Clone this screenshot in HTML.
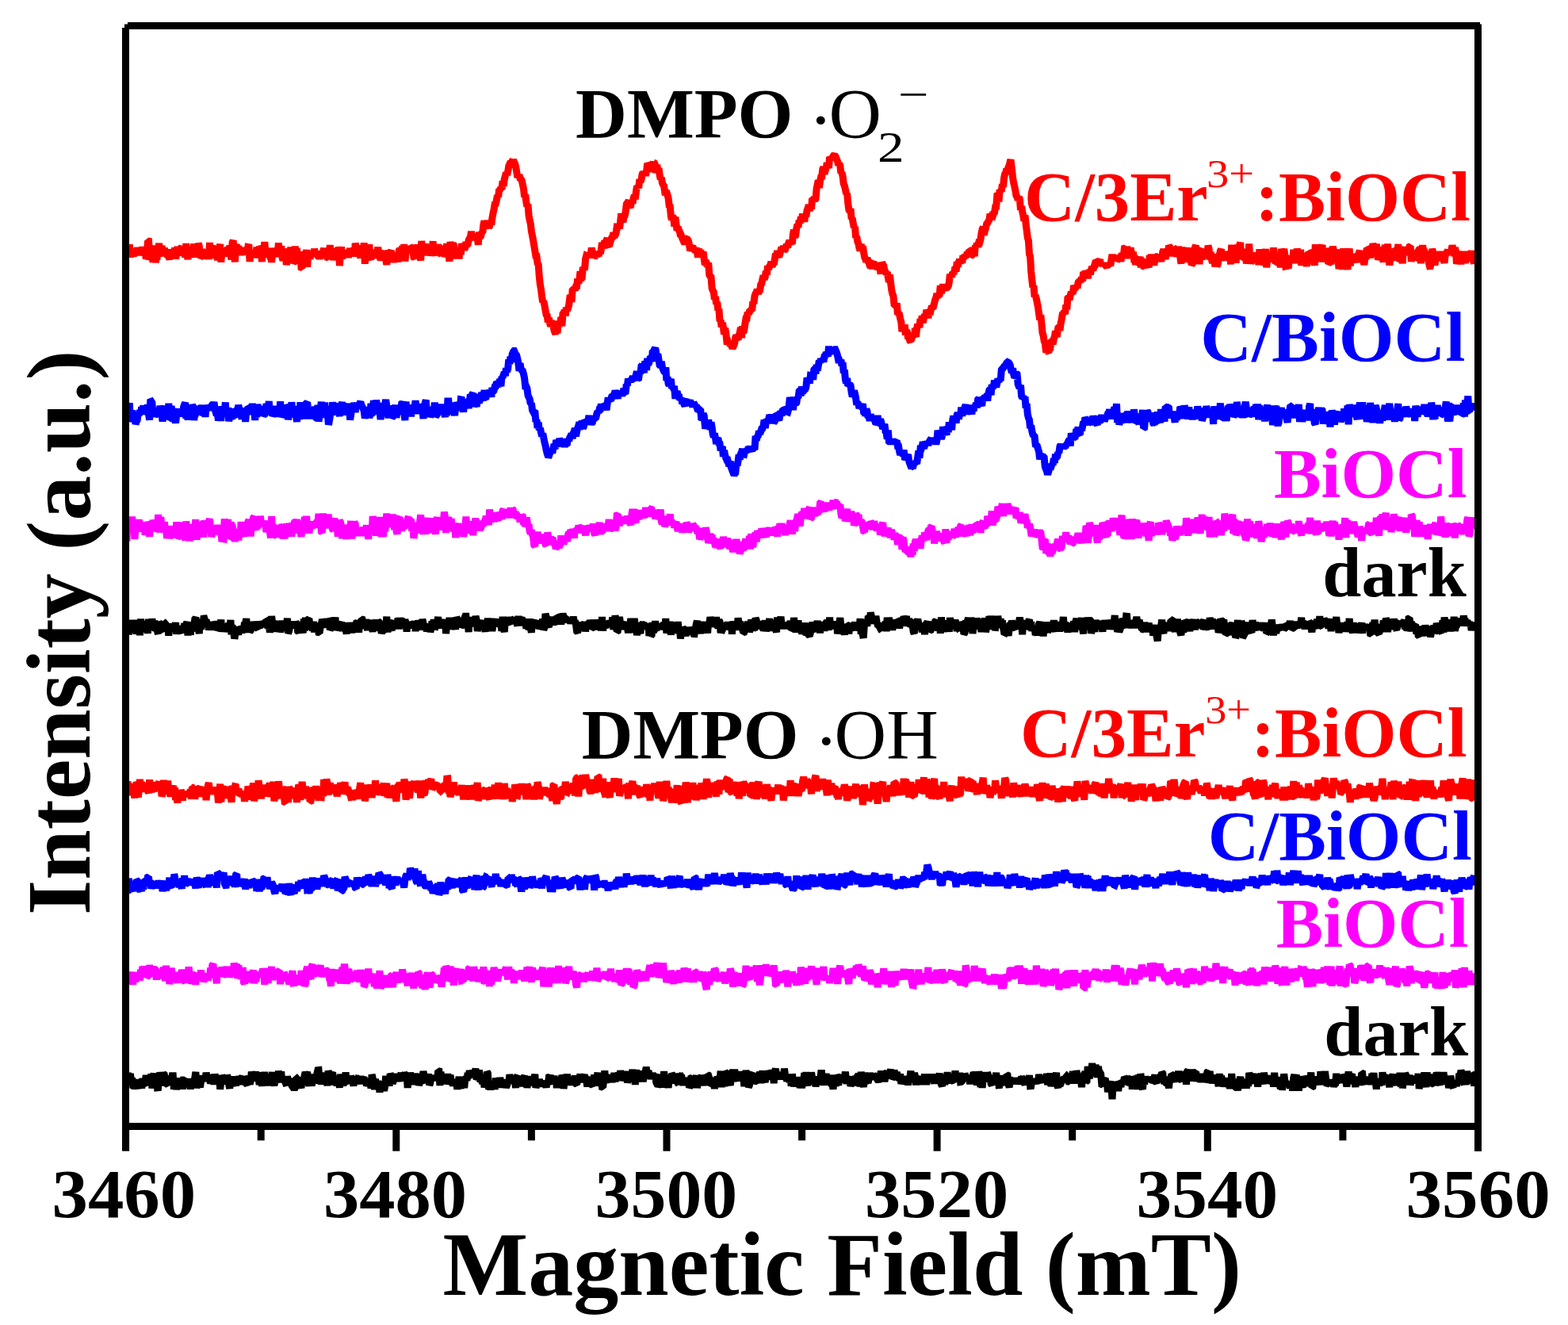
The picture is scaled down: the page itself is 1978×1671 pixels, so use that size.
<!DOCTYPE html>
<html><head><meta charset="utf-8"><title>EPR spectra</title>
<style>
html,body{margin:0;padding:0;background:#fff;overflow:hidden;}
svg{display:block;}
text{font-family:"Liberation Serif","Times New Roman",serif;}
</style></head><body>
<svg width="1978" height="1671" viewBox="0 0 1978 1671">
<rect width="1978" height="1671" fill="#fff"/>
<polyline fill="none" stroke="#ff0000" stroke-width="9.0" stroke-linejoin="miter" stroke-miterlimit="1.5" stroke-linecap="butt" points="160.0,320.1 161.1,323.6 162.2,320.0 163.3,308.4 164.4,323.9 165.5,320.7 166.6,313.8 167.7,321.7 168.8,320.3 169.9,319.9 171.0,317.8 172.1,321.3 173.2,312.4 174.3,316.3 175.4,314.1 176.5,321.8 177.6,317.8 178.7,315.5 179.8,312.0 180.9,315.5 182.0,317.2 183.1,315.3 184.2,326.2 185.3,324.3 186.4,303.9 187.5,304.1 188.6,316.1 189.7,314.3 190.8,318.9 191.9,318.9 193.0,330.8 194.1,309.8 195.2,315.1 196.3,331.3 197.4,322.6 198.5,322.8 199.6,314.8 200.7,307.0 201.8,319.8 202.9,319.6 204.0,310.4 205.1,314.3 206.2,318.6 207.3,312.7 208.4,318.7 209.5,320.2 210.6,320.1 211.7,316.4 212.8,324.3 213.9,326.5 215.0,322.4 216.1,314.4 217.2,325.3 218.3,316.5 219.4,326.1 220.5,312.4 221.6,326.3 222.7,319.7 223.8,311.0 224.9,317.5 226.0,320.1 227.1,321.5 228.2,312.7 229.3,311.6 230.4,320.6 231.5,315.7 232.6,320.5 233.7,324.0 234.8,307.1 235.9,320.4 237.0,327.1 238.1,316.4 239.2,312.7 240.3,323.7 241.4,320.0 242.5,324.4 243.6,315.7 244.7,307.7 245.8,317.4 246.9,315.0 248.0,323.7 249.1,319.8 250.2,306.9 251.3,310.1 252.4,324.9 253.5,323.7 254.6,314.5 255.7,319.1 256.8,322.3 257.9,322.5 259.0,325.4 260.1,321.3 261.2,318.9 262.3,317.8 263.4,326.9 264.5,306.1 265.6,318.5 266.7,319.6 267.8,309.3 268.9,321.6 270.0,314.6 271.1,325.3 272.2,318.5 273.3,323.8 274.4,327.5 275.5,321.5 276.6,312.6 277.7,308.0 278.8,330.6 279.9,317.3 281.0,313.0 282.1,318.6 283.2,316.1 284.3,323.1 285.4,317.2 286.5,317.0 287.6,311.9 288.7,320.0 289.8,309.5 290.9,321.3 292.0,327.1 293.1,305.9 294.2,303.3 295.3,321.0 296.4,330.3 297.5,310.1 298.6,308.3 299.7,321.3 300.8,311.4 301.9,313.9 303.0,315.2 304.1,321.7 305.2,315.4 306.3,320.3 307.4,317.3 308.5,312.9 309.6,316.8 310.7,312.5 311.8,319.5 312.9,311.6 314.0,311.8 315.1,329.9 316.2,319.5 317.3,319.6 318.4,323.5 319.5,317.0 320.6,318.3 321.7,322.9 322.8,321.9 323.9,311.7 325.0,325.4 326.1,315.2 327.2,311.9 328.3,312.8 329.4,316.2 330.5,330.1 331.6,310.4 332.7,319.6 333.8,305.1 334.9,318.3 336.0,324.6 337.1,316.5 338.2,313.7 339.3,319.5 340.4,322.7 341.5,322.2 342.6,330.8 343.7,318.8 344.8,313.4 345.9,316.7 347.0,317.1 348.1,318.6 349.2,317.7 350.3,319.1 351.4,306.4 352.5,324.2 353.6,314.5 354.7,310.5 355.8,323.6 356.9,328.5 358.0,323.0 359.1,321.1 360.2,313.8 361.3,334.0 362.4,327.3 363.5,313.6 364.6,316.4 365.7,322.8 366.8,311.7 367.9,324.0 369.0,319.8 370.1,331.9 371.2,330.3 372.3,310.5 373.4,324.4 374.5,313.0 375.6,332.2 376.7,325.7 377.8,328.5 378.9,317.3 380.0,337.4 381.1,337.8 382.2,317.0 383.3,327.0 384.4,319.5 385.5,323.8 386.6,315.1 387.7,336.7 388.8,316.7 389.9,321.2 391.0,326.6 392.1,318.3 393.2,321.1 394.3,318.6 395.4,321.5 396.5,313.9 397.6,318.9 398.7,320.2 399.8,319.3 400.9,321.9 402.0,319.5 403.1,326.8 404.2,319.2 405.3,320.5 406.4,317.0 407.5,318.0 408.6,313.0 409.7,325.5 410.8,313.9 411.9,316.8 413.0,324.6 414.1,325.0 415.2,319.6 416.3,309.1 417.4,325.4 418.5,324.5 419.6,312.9 420.7,328.3 421.8,318.1 422.9,315.2 424.0,323.6 425.1,321.7 426.2,324.2 427.3,311.4 428.4,335.1 429.5,318.1 430.6,311.4 431.7,326.2 432.8,319.1 433.9,323.6 435.0,318.8 436.1,320.6 437.2,322.4 438.3,315.3 439.4,325.0 440.5,316.7 441.6,313.8 442.7,320.2 443.8,322.4 444.9,317.5 446.0,313.2 447.1,323.5 448.2,306.7 449.3,311.8 450.4,319.3 451.5,309.5 452.6,319.3 453.7,318.7 454.8,325.4 455.9,312.6 457.0,314.9 458.1,321.7 459.2,306.2 460.3,332.7 461.4,314.8 462.5,314.8 463.6,326.1 464.7,320.2 465.8,308.3 466.9,325.3 468.0,327.1 469.1,318.0 470.2,319.3 471.3,324.8 472.4,315.0 473.5,324.6 474.6,323.0 475.7,316.9 476.8,311.9 477.9,320.1 479.0,315.5 480.1,328.6 481.2,322.6 482.3,327.2 483.4,322.5 484.5,323.4 485.6,316.1 486.7,326.1 487.8,333.9 488.9,319.2 490.0,317.2 491.1,320.3 492.2,317.9 493.3,316.3 494.4,322.1 495.5,319.0 496.6,331.1 497.7,321.0 498.8,323.2 499.9,327.4 501.0,318.6 502.1,330.5 503.2,316.0 504.3,314.7 505.4,317.6 506.5,319.4 507.6,310.2 508.7,319.7 509.8,308.1 510.9,329.4 512.0,319.1 513.1,315.1 514.2,313.1 515.3,316.5 516.4,317.3 517.5,311.3 518.6,312.0 519.7,316.9 520.8,314.4 521.9,324.5 523.0,325.9 524.1,317.9 525.2,321.0 526.3,308.3 527.4,322.0 528.5,317.2 529.6,320.7 530.7,328.5 531.8,303.9 532.9,318.9 534.0,309.4 535.1,321.1 536.2,307.6 537.3,313.3 538.4,318.4 539.5,321.2 540.6,317.5 541.7,311.2 542.8,312.7 543.9,322.4 545.0,316.0 546.1,304.2 547.2,321.8 548.3,318.8 549.4,321.9 550.5,313.3 551.6,321.3 552.7,308.0 553.8,319.4 554.9,311.9 556.0,320.0 557.1,322.1 558.2,309.8 559.3,314.5 560.4,315.1 561.5,323.7 562.6,320.5 563.7,307.2 564.8,319.1 565.9,321.4 567.0,329.6 568.1,304.9 569.2,313.2 570.3,326.5 571.4,307.8 572.5,309.1 573.6,321.3 574.7,325.1 575.8,312.8 576.9,320.5 578.0,317.0 579.1,326.2 580.2,314.9 581.3,321.1 582.4,307.2 583.5,311.7 584.6,311.7 585.7,314.8 586.8,312.0 587.9,305.2 589.0,309.3 590.1,308.1 591.2,302.9 592.3,300.6 593.4,299.3 594.5,291.9 595.6,299.8 596.7,300.3 597.8,296.2 598.9,302.9 600.0,294.8 601.1,298.4 602.2,299.0 603.3,308.8 604.4,292.5 605.5,298.6 606.6,297.7 607.7,292.8 608.8,293.5 609.9,283.1 611.0,278.7 612.1,288.6 613.2,280.0 614.3,282.7 615.4,278.5 616.5,286.7 617.6,285.2 618.7,278.1 619.8,283.8 620.9,275.2 622.0,268.8 623.1,264.1 624.2,257.6 625.3,257.2 626.4,252.5 627.5,246.4 628.6,248.4 629.7,238.4 630.8,239.0 631.9,237.1 633.0,238.7 634.1,228.2 635.2,234.7 636.3,225.9 637.4,221.8 638.5,217.7 639.6,220.6 640.7,216.1 641.8,209.2 642.9,206.8 644.0,207.0 645.1,205.0 646.2,205.7 647.3,202.2 647.5,201.5 648.4,204.3 649.5,206.1 650.6,210.1 651.7,216.5 652.8,223.5 653.9,222.4 655.0,220.7 656.1,225.1 657.2,226.0 658.3,227.8 659.4,233.0 660.5,237.9 661.6,248.5 662.7,245.4 663.8,254.6 664.9,260.3 666.0,257.6 667.1,272.1 668.2,277.8 669.3,282.3 670.4,291.6 671.5,297.2 672.6,302.8 673.7,309.5 674.8,316.2 675.9,322.9 677.0,323.1 678.1,332.0 679.2,333.9 680.3,349.2 681.4,358.8 682.5,365.1 683.6,373.8 684.7,381.1 685.8,379.6 686.9,384.9 688.0,391.4 689.1,396.9 690.2,397.9 691.3,406.3 692.4,400.8 693.5,407.6 694.6,411.2 695.7,408.1 696.8,408.1 697.9,410.5 699.0,416.5 700.1,419.4 700.6,420.0 701.2,418.9 702.3,415.9 703.4,415.9 704.5,404.7 705.6,410.9 706.7,407.9 707.8,400.2 708.9,411.2 710.0,395.8 711.1,394.5 712.2,391.4 713.3,398.2 714.4,387.7 715.5,391.5 716.6,388.6 717.7,384.6 718.8,375.3 719.9,375.0 721.0,381.0 722.1,366.1 723.2,364.9 724.3,364.6 725.4,366.0 726.5,361.4 727.6,361.1 728.7,351.5 729.8,357.1 730.9,353.2 732.0,342.1 733.1,351.9 734.2,350.7 735.3,337.4 736.4,338.0 737.5,340.6 738.6,326.4 739.7,322.2 740.8,322.6 741.9,323.6 743.0,321.5 744.1,324.1 745.2,320.7 746.3,312.6 747.4,318.8 748.5,324.7 749.6,322.8 750.7,322.7 751.8,319.4 752.9,324.0 754.0,316.9 755.1,322.9 756.2,317.2 757.3,319.7 758.4,314.6 759.5,306.0 760.6,309.5 761.7,313.2 762.8,303.3 763.9,305.1 765.0,303.6 766.1,300.2 767.2,309.4 768.3,310.3 769.4,307.2 770.5,303.0 771.6,299.9 772.7,299.2 773.8,293.4 774.9,298.1 776.0,296.9 777.1,294.3 778.2,286.1 779.3,286.2 780.4,282.9 781.5,288.4 782.6,279.6 783.7,269.2 784.8,276.3 785.9,280.4 787.0,273.6 788.1,272.4 789.2,267.0 790.3,257.4 791.4,255.8 792.5,256.0 793.6,258.8 794.7,258.9 795.8,258.7 796.9,252.9 798.0,256.5 799.1,249.9 800.2,246.5 801.3,251.1 802.4,241.8 803.5,234.9 804.6,235.3 805.7,237.1 806.8,226.3 807.9,229.5 809.0,226.6 810.1,219.8 811.2,217.3 812.3,219.2 813.4,216.7 814.5,221.6 815.6,215.9 816.7,205.9 817.8,207.6 818.9,212.8 820.0,216.6 821.1,209.2 822.2,207.6 823.3,207.8 824.3,205.0 824.4,205.2 825.5,205.6 826.6,208.2 827.7,217.9 828.8,207.8 829.9,215.6 831.0,212.0 832.1,220.4 833.2,226.0 834.3,224.1 835.4,230.6 836.5,233.1 837.6,234.6 838.7,242.2 839.8,242.1 840.9,242.5 842.0,245.8 843.1,249.9 844.2,259.6 845.3,260.4 846.4,273.3 847.5,277.1 848.6,272.5 849.7,274.8 850.8,285.5 851.9,273.9 853.0,282.3 854.1,290.7 855.2,286.1 856.3,290.1 857.4,292.2 858.5,298.0 859.6,297.6 860.7,300.4 861.8,302.9 862.9,302.3 864.0,308.3 865.1,302.6 866.2,301.5 867.3,301.9 868.4,303.7 869.5,308.9 870.6,316.2 871.7,313.8 872.8,311.6 873.9,310.7 875.0,313.8 876.1,315.2 877.2,315.5 878.3,313.0 879.4,317.8 880.5,324.5 881.6,313.7 882.7,321.1 883.8,315.3 884.9,324.3 886.0,321.4 887.1,317.6 888.2,326.5 889.3,334.2 890.4,328.2 891.5,333.2 892.6,333.4 893.7,331.6 894.8,346.6 895.9,348.4 897.0,349.3 898.1,363.4 899.2,366.5 900.3,368.2 901.4,377.5 902.5,374.1 903.6,383.6 904.7,380.7 905.8,391.4 906.9,389.7 908.0,404.8 909.1,403.8 910.2,412.4 911.3,407.2 912.4,412.5 913.5,421.6 914.6,413.8 915.7,419.4 916.8,430.0 917.9,429.9 919.0,434.1 920.1,431.0 921.2,435.9 922.3,435.1 923.4,437.6 924.0,439.5 924.5,438.3 925.6,435.7 926.7,432.9 927.8,425.4 928.9,423.2 930.0,426.7 931.1,428.1 932.2,422.7 933.3,419.4 934.4,413.1 935.5,426.1 936.6,411.4 937.7,419.7 938.8,416.2 939.9,408.1 941.0,401.7 942.1,401.6 943.2,393.6 944.3,396.4 945.4,392.7 946.5,391.9 947.6,391.0 948.7,391.3 949.8,380.1 950.9,383.1 952.0,373.2 953.1,370.2 954.2,368.9 955.3,364.8 956.4,370.2 957.5,367.5 958.6,366.4 959.7,358.8 960.8,357.6 961.9,352.1 963.0,347.7 964.1,352.1 965.2,349.3 966.3,341.8 967.4,346.6 968.5,335.3 969.6,339.5 970.7,335.8 971.8,334.2 972.9,330.1 974.0,336.4 975.1,333.0 976.2,333.5 977.3,327.4 978.4,319.8 979.5,321.6 980.6,316.5 981.7,322.0 982.8,324.2 983.9,319.9 985.0,315.5 986.1,315.6 987.2,317.1 988.3,309.8 989.4,315.4 990.5,314.8 991.6,311.0 992.7,310.8 993.8,311.9 994.9,305.9 996.0,303.9 997.1,308.2 998.2,304.0 999.3,307.8 1000.4,295.1 1001.5,289.9 1002.6,298.7 1003.7,296.8 1004.8,288.0 1005.9,283.0 1007.0,286.7 1008.1,277.8 1009.2,281.5 1010.3,273.3 1011.4,278.0 1012.5,269.7 1013.6,274.3 1014.7,279.6 1015.8,270.6 1016.9,273.0 1018.0,265.5 1019.1,262.8 1020.2,258.4 1021.3,266.1 1022.4,259.3 1023.5,263.6 1024.6,250.0 1025.7,251.5 1026.8,249.9 1027.9,252.2 1029.0,250.8 1030.1,237.8 1031.2,232.8 1032.3,227.3 1033.4,236.9 1034.5,228.4 1035.6,223.4 1036.7,223.0 1037.8,213.1 1038.9,211.0 1040.0,219.4 1041.1,215.0 1042.2,211.9 1043.3,205.1 1044.4,209.2 1045.5,211.9 1046.6,197.8 1047.7,201.3 1048.8,198.1 1049.9,199.2 1051.0,196.9 1052.1,195.4 1052.5,195.0 1053.2,196.5 1054.3,197.7 1055.4,200.7 1056.5,203.2 1057.6,208.4 1058.7,205.8 1059.8,209.1 1060.9,218.2 1062.0,217.8 1063.1,222.4 1064.2,231.7 1065.3,234.1 1066.4,238.7 1067.5,244.5 1068.6,243.8 1069.7,255.9 1070.8,264.5 1071.9,266.6 1073.0,263.2 1074.1,275.8 1075.2,275.2 1076.3,281.9 1077.4,287.2 1078.5,285.9 1079.6,300.0 1080.7,298.1 1081.8,304.7 1082.9,307.2 1084.0,313.1 1085.1,315.6 1086.2,307.9 1087.3,316.5 1088.4,310.5 1089.5,317.9 1090.6,324.3 1091.7,326.8 1092.8,330.0 1093.9,325.0 1095.0,329.4 1096.1,330.1 1097.2,335.2 1098.3,336.9 1099.4,329.5 1100.5,339.2 1101.6,331.9 1102.7,330.9 1103.8,335.2 1104.9,336.2 1106.0,335.8 1107.1,331.5 1108.2,340.3 1109.3,335.0 1110.4,341.4 1111.5,341.3 1112.6,331.1 1113.7,333.3 1114.8,335.1 1115.9,341.8 1117.0,342.9 1118.1,345.6 1119.2,343.1 1120.3,349.8 1121.4,355.6 1122.5,346.5 1123.6,356.9 1124.7,365.4 1125.8,370.6 1126.9,373.2 1128.0,383.9 1129.1,384.8 1130.2,386.0 1131.3,382.4 1132.4,396.7 1133.5,395.3 1134.6,396.4 1135.7,402.1 1136.8,406.1 1137.9,418.0 1139.0,413.4 1140.1,415.1 1141.2,409.5 1142.3,422.3 1143.4,417.2 1144.5,419.0 1145.6,427.2 1146.7,426.0 1147.8,429.9 1148.4,430.5 1148.9,428.7 1150.0,427.3 1151.1,421.3 1152.2,423.2 1153.3,425.1 1154.4,414.0 1155.5,424.7 1156.6,414.3 1157.7,408.8 1158.8,411.1 1159.9,412.8 1161.0,402.3 1162.1,405.9 1163.2,398.5 1164.3,406.9 1165.4,400.8 1166.5,396.6 1167.6,401.4 1168.7,390.9 1169.8,393.3 1170.9,401.1 1172.0,392.1 1173.1,396.9 1174.2,391.1 1175.3,386.3 1176.4,386.9 1177.5,386.7 1178.6,382.2 1179.7,377.9 1180.8,375.5 1181.9,370.1 1183.0,373.9 1184.1,372.4 1185.2,371.5 1186.3,360.3 1187.4,369.7 1188.5,365.3 1189.6,358.6 1190.7,363.5 1191.8,365.3 1192.9,363.0 1194.0,362.7 1195.1,362.5 1196.2,361.1 1197.3,356.3 1198.4,346.1 1199.5,347.7 1200.6,349.3 1201.7,343.2 1202.8,344.9 1203.9,342.4 1205.0,336.5 1206.1,342.5 1207.2,330.1 1208.3,336.6 1209.4,330.1 1210.5,327.8 1211.6,332.3 1212.7,326.5 1213.8,331.4 1214.9,322.3 1216.0,326.1 1217.1,321.6 1218.2,323.1 1219.3,321.7 1220.4,317.9 1221.5,324.1 1222.6,315.7 1223.7,316.0 1224.8,322.6 1225.9,322.0 1227.0,319.9 1228.1,317.7 1229.2,323.2 1230.3,309.9 1231.4,310.8 1232.5,307.1 1233.6,311.6 1234.7,306.0 1235.8,306.1 1236.9,302.4 1238.0,294.5 1239.1,289.0 1240.2,286.3 1241.3,296.3 1242.4,291.0 1243.5,287.8 1244.6,282.4 1245.7,281.3 1246.8,279.0 1247.9,277.5 1249.0,269.5 1250.1,275.2 1251.2,272.3 1252.3,272.7 1253.4,269.0 1254.5,268.1 1255.6,261.2 1256.7,260.9 1257.8,246.7 1258.9,246.4 1260.0,254.4 1261.1,239.7 1262.2,240.5 1263.3,241.5 1264.4,232.3 1265.5,235.8 1266.6,224.3 1267.7,219.4 1268.8,217.8 1269.9,212.7 1271.0,215.4 1272.1,210.8 1273.2,208.5 1274.3,203.3 1275.0,201.6 1275.4,204.8 1276.5,213.6 1277.6,223.8 1278.7,230.7 1279.8,235.1 1280.9,240.7 1282.0,246.7 1283.1,248.4 1284.2,252.3 1285.3,249.0 1286.4,250.9 1287.5,264.8 1288.6,260.1 1289.7,266.9 1290.8,271.9 1291.9,278.5 1293.0,271.4 1294.1,282.1 1295.2,290.9 1296.3,299.9 1297.4,303.4 1298.5,320.6 1299.6,323.4 1300.7,342.1 1301.8,353.0 1302.9,362.3 1304.0,360.4 1305.1,374.5 1306.2,372.5 1307.3,376.5 1308.4,382.2 1309.5,387.3 1310.6,396.0 1311.7,403.2 1312.8,397.1 1313.9,407.5 1315.0,419.6 1316.1,423.1 1317.2,430.1 1318.3,433.0 1319.4,442.0 1319.8,444.0 1320.5,442.9 1321.6,443.4 1322.7,444.5 1323.8,439.2 1324.9,438.9 1326.0,431.0 1327.1,429.6 1328.2,434.2 1329.3,427.3 1330.4,424.7 1331.5,417.4 1332.6,421.5 1333.7,421.3 1334.8,413.4 1335.9,411.9 1337.0,416.9 1338.1,408.0 1339.2,402.9 1340.3,396.2 1341.4,395.1 1342.5,393.0 1343.6,396.0 1344.7,384.5 1345.8,390.5 1346.9,376.1 1348.0,375.1 1349.1,378.3 1350.2,372.4 1351.3,368.4 1352.4,369.6 1353.5,370.2 1354.6,359.9 1355.7,364.2 1356.8,363.2 1357.9,360.4 1359.0,363.3 1360.1,356.1 1361.2,354.9 1362.3,354.6 1363.4,355.3 1364.5,349.5 1365.6,354.5 1366.7,343.0 1367.8,351.1 1368.9,341.8 1370.0,344.0 1371.1,345.3 1372.2,350.8 1373.3,346.2 1374.4,340.2 1375.5,346.4 1376.6,339.6 1377.7,336.7 1378.8,340.9 1379.9,337.1 1381.0,337.5 1382.1,328.6 1383.2,329.4 1384.3,330.0 1385.4,329.5 1386.5,329.2 1387.6,327.4 1388.7,334.7 1389.8,332.6 1390.9,335.0 1392.0,332.5 1393.1,334.8 1394.2,331.6 1395.3,335.5 1396.4,337.1 1397.5,333.3 1398.6,335.2 1399.7,331.9 1400.8,335.0 1401.9,327.8 1403.0,320.9 1404.1,328.2 1405.2,325.4 1406.3,321.8 1407.4,327.9 1408.5,326.0 1409.6,326.3 1410.7,322.9 1411.8,324.6 1412.9,324.4 1414.0,329.9 1415.1,319.3 1416.2,321.3 1417.3,322.2 1418.4,313.1 1419.5,312.7 1420.6,326.1 1421.7,310.7 1422.8,319.9 1423.9,315.0 1425.0,316.3 1426.1,312.8 1427.2,317.7 1428.3,325.5 1429.4,317.7 1430.5,326.6 1431.6,326.5 1432.7,333.8 1433.8,325.2 1434.9,332.9 1436.0,332.3 1437.1,328.4 1438.2,323.8 1439.3,337.3 1440.4,326.7 1441.5,330.7 1442.6,335.8 1443.7,336.3 1444.8,328.0 1445.9,330.8 1447.0,329.5 1448.1,334.7 1449.2,337.2 1450.3,321.8 1451.4,332.3 1452.5,320.7 1453.6,327.9 1454.7,322.9 1455.8,334.5 1456.9,327.1 1458.0,323.0 1459.1,323.5 1460.2,322.7 1461.3,325.3 1462.4,323.5 1463.5,326.2 1464.6,329.3 1465.7,325.5 1466.8,317.3 1467.9,315.2 1469.0,318.2 1470.1,327.1 1471.2,317.2 1472.3,314.9 1473.4,320.6 1474.5,309.6 1475.6,311.4 1476.7,323.0 1477.8,317.4 1478.9,316.4 1480.0,321.7 1481.1,315.3 1482.2,314.7 1483.3,316.2 1484.4,323.7 1485.5,319.8 1486.6,311.1 1487.7,317.4 1488.8,324.2 1489.9,332.6 1491.0,311.6 1492.1,322.0 1493.2,318.1 1494.3,325.8 1495.4,323.1 1496.5,330.4 1497.6,323.8 1498.7,316.4 1499.8,316.5 1500.9,323.1 1502.0,323.3 1503.1,334.0 1504.2,332.6 1505.3,312.6 1506.4,323.4 1507.5,311.8 1508.6,309.6 1509.7,326.5 1510.8,325.3 1511.9,314.4 1513.0,333.3 1514.1,315.2 1515.2,313.9 1516.3,326.7 1517.4,323.8 1518.5,321.3 1519.6,322.1 1520.7,324.2 1521.8,321.8 1522.9,321.7 1524.0,309.6 1525.1,313.7 1526.2,327.4 1527.3,318.1 1528.4,326.9 1529.5,331.8 1530.6,320.6 1531.7,325.1 1532.8,336.3 1533.9,327.8 1535.0,335.7 1536.1,333.5 1537.2,328.0 1538.3,321.7 1539.4,316.4 1540.5,314.5 1541.6,325.3 1542.7,325.0 1543.8,320.3 1544.9,327.2 1546.0,316.9 1547.1,328.6 1548.2,320.9 1549.3,320.4 1550.4,320.4 1551.5,319.6 1552.6,333.4 1553.7,308.7 1554.8,321.1 1555.9,328.4 1557.0,324.5 1558.1,317.3 1559.2,331.7 1560.3,312.2 1561.4,310.4 1562.5,323.6 1563.6,309.2 1564.7,306.1 1565.8,325.8 1566.9,325.1 1568.0,325.0 1569.1,316.7 1570.2,321.6 1571.3,313.8 1572.4,332.6 1573.5,326.2 1574.6,326.0 1575.7,307.6 1576.8,326.6 1577.9,331.6 1579.0,329.7 1580.1,326.8 1581.2,321.4 1582.3,319.3 1583.4,326.0 1584.5,324.5 1585.6,323.6 1586.7,320.0 1587.8,334.1 1588.9,314.3 1590.0,322.4 1591.1,318.6 1592.2,330.1 1593.3,333.0 1594.4,331.8 1595.5,328.8 1596.6,313.9 1597.7,337.2 1598.8,327.7 1599.9,323.4 1601.0,324.5 1602.1,322.3 1603.2,327.9 1604.3,327.3 1605.4,323.0 1606.5,312.4 1607.6,325.7 1608.7,329.5 1609.8,330.0 1610.9,325.6 1612.0,330.0 1613.1,334.2 1614.2,323.7 1615.3,337.4 1616.4,313.9 1617.5,318.5 1618.6,321.0 1619.7,314.1 1620.8,320.2 1621.9,335.9 1623.0,335.7 1624.1,327.6 1625.2,338.6 1626.3,328.1 1627.4,322.7 1628.5,327.8 1629.6,325.0 1630.7,330.8 1631.8,314.8 1632.9,332.0 1634.0,321.6 1635.1,330.7 1636.2,313.5 1637.3,321.1 1638.4,324.4 1639.5,329.9 1640.6,314.8 1641.7,334.8 1642.8,326.3 1643.9,319.2 1645.0,331.1 1646.1,323.2 1647.2,330.5 1648.3,335.6 1649.4,327.4 1650.5,318.3 1651.6,319.0 1652.7,325.9 1653.8,323.8 1654.9,315.8 1656.0,317.0 1657.1,326.2 1658.2,334.8 1659.3,308.1 1660.4,326.7 1661.5,320.2 1662.6,327.2 1663.7,327.8 1664.8,322.1 1665.9,314.8 1667.0,312.1 1668.1,308.9 1669.2,330.6 1670.3,320.7 1671.4,318.6 1672.5,320.7 1673.6,313.3 1674.7,325.0 1675.8,332.3 1676.9,331.4 1678.0,312.6 1679.1,333.4 1680.2,318.6 1681.3,311.0 1682.4,315.8 1683.5,317.9 1684.6,324.9 1685.7,318.2 1686.8,315.1 1687.9,324.0 1689.0,339.2 1690.1,321.3 1691.2,329.6 1692.3,327.0 1693.4,339.8 1694.5,313.3 1695.6,334.4 1696.7,317.9 1697.8,322.6 1698.9,326.1 1700.0,340.1 1701.1,321.4 1702.2,313.4 1703.3,335.5 1704.4,320.5 1705.5,324.4 1706.6,326.0 1707.7,326.5 1708.8,324.4 1709.9,327.1 1711.0,327.7 1712.1,330.7 1713.2,321.7 1714.3,318.9 1715.4,316.2 1716.5,327.6 1717.6,322.8 1718.7,326.7 1719.8,326.3 1720.9,334.1 1722.0,323.4 1723.1,327.1 1724.2,313.1 1725.3,313.8 1726.4,318.8 1727.5,312.4 1728.6,325.5 1729.7,311.3 1730.8,320.9 1731.9,307.0 1733.0,312.5 1734.1,318.0 1735.2,318.4 1736.3,307.7 1737.4,320.9 1738.5,327.1 1739.6,324.6 1740.7,315.5 1741.8,316.1 1742.9,311.9 1744.0,324.6 1745.1,330.4 1746.2,317.0 1747.3,308.9 1748.4,322.2 1749.5,325.8 1750.6,307.6 1751.7,322.0 1752.8,334.3 1753.9,326.8 1755.0,325.1 1756.1,324.0 1757.2,328.7 1758.3,314.6 1759.4,315.3 1760.5,324.1 1761.6,316.3 1762.7,323.0 1763.8,307.9 1764.9,326.4 1766.0,327.0 1767.1,321.1 1768.2,321.9 1769.3,332.2 1770.4,313.3 1771.5,314.5 1772.6,313.3 1773.7,318.0 1774.8,314.0 1775.9,321.5 1777.0,316.6 1778.1,311.0 1779.2,310.4 1780.3,329.9 1781.4,321.0 1782.5,319.9 1783.6,321.8 1784.7,321.1 1785.8,327.0 1786.9,325.9 1788.0,317.8 1789.1,316.2 1790.2,314.6 1791.3,313.6 1792.4,332.2 1793.5,316.2 1794.6,309.4 1795.7,316.8 1796.8,317.1 1797.9,325.0 1799.0,316.5 1800.1,326.2 1801.2,325.1 1802.3,331.2 1803.4,335.6 1804.5,335.5 1805.6,331.4 1806.7,313.7 1807.8,318.8 1808.9,323.0 1810.0,334.5 1811.1,325.8 1812.2,329.2 1813.3,319.4 1814.4,324.6 1815.5,325.5 1816.6,317.1 1817.7,325.8 1818.8,327.8 1819.9,319.0 1821.0,327.3 1822.1,331.6 1823.2,320.5 1824.3,320.1 1825.4,317.8 1826.5,315.6 1827.6,321.0 1828.7,317.1 1829.8,317.9 1830.9,314.8 1832.0,309.6 1833.1,313.9 1834.2,322.9 1835.3,312.5 1836.4,316.4 1837.5,332.6 1838.6,329.2 1839.7,316.8 1840.8,326.0 1841.9,317.4 1843.0,333.5 1844.1,318.0 1845.2,322.8 1846.3,332.1 1847.4,316.8 1848.5,331.8 1849.6,317.1 1850.7,324.6 1851.8,321.0 1852.9,322.6 1854.0,324.4 1855.1,322.8 1856.2,316.2 1857.3,329.5 1858.4,328.5 1859.5,332.6 1859.5,333.3"/>
<polyline fill="none" stroke="#0000ff" stroke-width="9.0" stroke-linejoin="miter" stroke-miterlimit="1.5" stroke-linecap="butt" points="160.0,522.5 161.1,517.7 162.2,518.1 163.3,508.2 164.4,531.9 165.5,527.5 166.6,517.8 167.7,524.7 168.8,521.3 169.9,519.9 171.0,535.0 172.1,531.6 173.2,529.8 174.3,521.1 175.4,523.8 176.5,517.2 177.6,521.0 178.7,513.4 179.8,518.2 180.9,511.4 182.0,522.6 183.1,518.2 184.2,519.1 185.3,519.5 186.4,510.4 187.5,522.2 188.6,529.5 189.7,506.6 190.8,506.2 191.9,508.0 193.0,523.3 194.1,518.8 195.2,525.1 196.3,523.0 197.4,520.0 198.5,520.5 199.6,517.7 200.7,524.7 201.8,511.8 202.9,516.6 204.0,521.3 205.1,531.6 206.2,515.0 207.3,513.1 208.4,516.6 209.5,526.8 210.6,519.2 211.7,529.3 212.8,508.8 213.9,528.5 215.0,528.0 216.1,512.0 217.2,522.1 218.3,529.1 219.4,521.8 220.5,527.7 221.6,533.5 222.7,522.8 223.8,519.2 224.9,515.9 226.0,525.1 227.1,519.5 228.2,519.6 229.3,520.0 230.4,524.7 231.5,513.6 232.6,510.3 233.7,507.7 234.8,527.8 235.9,520.3 237.0,529.4 238.1,519.4 239.2,514.5 240.3,522.3 241.4,518.5 242.5,510.7 243.6,513.0 244.7,529.9 245.8,520.5 246.9,520.8 248.0,516.1 249.1,513.1 250.2,523.3 251.3,516.6 252.4,512.3 253.5,516.3 254.6,511.1 255.7,518.0 256.8,524.0 257.9,511.1 259.0,525.8 260.1,512.1 261.2,517.6 262.3,511.0 263.4,514.9 264.5,516.7 265.6,513.7 266.7,512.0 267.8,512.3 268.9,511.6 270.0,507.0 271.1,515.7 272.2,520.2 273.3,523.7 274.4,522.2 275.5,530.4 276.6,520.4 277.7,515.5 278.8,530.9 279.9,512.3 281.0,525.6 282.1,513.3 283.2,521.9 284.3,507.4 285.4,525.8 286.5,519.1 287.6,514.0 288.7,531.2 289.8,525.5 290.9,520.9 292.0,515.6 293.1,520.2 294.2,519.3 295.3,525.0 296.4,525.4 297.5,515.8 298.6,516.6 299.7,516.6 300.8,511.1 301.9,516.0 303.0,519.3 304.1,524.3 305.2,528.3 306.3,514.4 307.4,523.2 308.5,516.7 309.6,531.8 310.7,519.0 311.8,522.6 312.9,513.2 314.0,513.8 315.1,520.2 316.2,516.5 317.3,521.2 318.4,508.8 319.5,523.1 320.6,513.0 321.7,529.9 322.8,517.0 323.9,525.9 325.0,509.7 326.1,521.5 327.2,513.0 328.3,515.6 329.4,519.0 330.5,516.8 331.6,520.4 332.7,523.4 333.8,522.6 334.9,517.6 336.0,509.3 337.1,513.0 338.2,517.0 339.3,506.0 340.4,523.2 341.5,516.7 342.6,516.6 343.7,524.4 344.8,522.7 345.9,519.9 347.0,512.0 348.1,520.6 349.2,520.9 350.3,512.9 351.4,525.5 352.5,522.0 353.6,506.3 354.7,519.7 355.8,510.7 356.9,526.2 358.0,524.1 359.1,511.7 360.2,513.1 361.3,519.5 362.4,517.4 363.5,529.1 364.6,524.1 365.7,517.4 366.8,523.1 367.9,507.2 369.0,521.7 370.1,525.3 371.2,518.6 372.3,515.1 373.4,523.3 374.5,531.8 375.6,520.9 376.7,512.1 377.8,529.0 378.9,507.3 380.0,522.9 381.1,515.8 382.2,525.7 383.3,514.0 384.4,528.1 385.5,521.5 386.6,508.5 387.7,507.5 388.8,517.9 389.9,528.2 391.0,520.5 392.1,520.0 393.2,517.8 394.3,524.2 395.4,521.8 396.5,521.2 397.6,512.9 398.7,526.9 399.8,527.9 400.9,510.7 402.0,531.5 403.1,523.9 404.2,516.0 405.3,506.8 406.4,523.5 407.5,522.9 408.6,515.3 409.7,507.6 410.8,526.7 411.9,515.5 413.0,516.3 414.1,531.7 415.2,531.8 416.3,525.7 417.4,516.6 418.5,523.7 419.6,507.2 420.7,520.0 421.8,514.4 422.9,510.8 424.0,508.9 425.1,522.7 426.2,519.8 427.3,520.3 428.4,524.7 429.5,513.5 430.6,510.9 431.7,507.2 432.8,516.4 433.9,523.3 435.0,517.3 436.1,522.3 437.2,510.3 438.3,514.8 439.4,512.7 440.5,509.3 441.6,529.4 442.7,522.8 443.8,512.4 444.9,512.2 446.0,516.8 447.1,507.9 448.2,520.0 449.3,508.8 450.4,514.7 451.5,510.5 452.6,514.1 453.7,508.6 454.8,506.9 455.9,511.0 457.0,512.8 458.1,515.5 459.2,518.0 460.3,527.5 461.4,523.0 462.5,516.1 463.6,522.4 464.7,513.1 465.8,527.1 466.9,521.2 468.0,508.8 469.1,522.5 470.2,522.8 471.3,505.0 472.4,512.4 473.5,514.1 474.6,504.9 475.7,510.1 476.8,510.8 477.9,520.2 479.0,518.7 480.1,529.1 481.2,514.1 482.3,524.1 483.4,517.1 484.5,518.2 485.6,509.0 486.7,504.2 487.8,511.6 488.9,521.5 490.0,526.9 491.1,520.5 492.2,519.8 493.3,511.3 494.4,526.9 495.5,525.6 496.6,513.5 497.7,516.9 498.8,510.8 499.9,526.8 501.0,519.9 502.1,516.7 503.2,520.1 504.3,520.5 505.4,515.0 506.5,509.7 507.6,509.5 508.7,506.5 509.8,520.7 510.9,530.0 512.0,506.6 513.1,518.6 514.2,520.2 515.3,511.2 516.4,518.9 517.5,510.4 518.6,525.3 519.7,513.5 520.8,517.9 521.9,521.6 523.0,514.3 524.1,505.4 525.2,513.5 526.3,521.7 527.4,516.1 528.5,518.0 529.6,509.3 530.7,517.2 531.8,520.7 532.9,516.1 534.0,528.0 535.1,514.1 536.2,508.4 537.3,504.5 538.4,522.3 539.5,514.2 540.6,521.1 541.7,517.7 542.8,525.5 543.9,523.3 545.0,512.9 546.1,517.2 547.2,522.4 548.3,507.5 549.4,525.3 550.5,523.9 551.6,522.5 552.7,515.1 553.8,518.7 554.9,509.8 556.0,517.7 557.1,513.7 558.2,518.4 559.3,515.0 560.4,520.1 561.5,526.0 562.6,509.9 563.7,524.3 564.8,506.1 565.9,506.1 567.0,517.8 568.1,518.8 569.2,521.6 570.3,507.6 571.4,517.1 572.5,517.4 573.6,524.1 574.7,514.5 575.8,517.8 576.9,507.1 578.0,511.5 579.1,509.0 580.2,515.6 581.3,503.9 582.4,504.1 583.5,512.6 584.6,519.5 585.7,509.7 586.8,508.5 587.9,503.5 589.0,512.1 590.1,507.9 591.2,515.0 592.3,505.8 593.4,497.6 594.5,500.2 595.6,497.5 596.7,495.9 597.8,512.6 598.9,509.8 600.0,496.7 601.1,512.8 602.2,506.7 603.3,502.1 604.4,507.6 605.5,504.6 606.6,500.7 607.7,495.2 608.8,501.8 609.9,501.7 611.0,491.9 612.1,501.0 613.2,500.7 614.3,495.9 615.4,497.7 616.5,495.7 617.6,493.0 618.7,494.4 619.8,500.7 620.9,488.9 622.0,494.3 623.1,492.6 624.2,487.7 625.3,487.3 626.4,482.0 627.5,482.7 628.6,484.7 629.7,484.4 630.8,477.9 631.9,487.1 633.0,475.2 634.1,476.0 635.2,472.5 636.3,469.8 637.4,474.1 638.5,464.3 639.6,468.8 640.7,465.2 641.8,453.4 642.9,458.9 644.0,449.7 645.1,456.6 646.2,446.7 647.3,444.0 648.4,442.5 648.6,442.5 649.5,444.7 650.6,446.6 651.7,448.2 652.8,452.6 653.9,457.9 655.0,467.8 656.1,458.2 657.2,465.8 658.3,467.1 659.4,467.8 660.5,471.7 661.6,476.9 662.7,487.2 663.8,487.3 664.9,489.8 666.0,498.3 667.1,501.1 668.2,503.2 669.3,509.6 670.4,508.5 671.5,517.1 672.6,519.2 673.7,518.5 674.8,518.0 675.9,531.8 677.0,529.3 678.1,539.8 679.2,532.8 680.3,542.1 681.4,539.9 682.5,545.4 683.6,550.4 684.7,546.5 685.8,552.1 686.9,557.6 688.0,561.8 689.1,567.4 690.2,571.9 691.3,575.2 691.7,576.5 692.4,575.2 693.5,571.7 694.6,569.8 695.7,568.1 696.8,571.3 697.9,565.5 699.0,560.3 700.1,566.0 701.2,558.6 702.3,558.5 703.4,560.4 704.5,562.9 705.6,553.1 706.7,556.0 707.8,560.8 708.9,558.4 710.0,556.2 711.1,557.0 712.2,563.8 713.3,555.7 714.4,559.6 715.5,559.1 716.6,553.3 717.7,556.0 718.8,551.7 719.9,550.2 721.0,546.8 722.1,553.1 723.2,546.4 724.3,544.0 725.4,540.1 726.5,550.3 727.6,544.3 728.7,539.9 729.8,536.9 730.9,532.6 732.0,539.0 733.1,538.2 734.2,530.6 735.3,540.1 736.4,537.7 737.5,530.1 738.6,531.1 739.7,530.9 740.8,532.6 741.9,530.7 743.0,524.0 744.1,535.8 745.2,530.4 746.3,533.6 747.4,532.6 748.5,525.7 749.6,526.8 750.7,527.4 751.8,526.5 752.9,521.7 754.0,518.9 755.1,520.4 756.2,516.0 757.3,515.9 758.4,509.4 759.5,516.2 760.6,510.5 761.7,511.2 762.8,511.8 763.9,512.0 765.0,517.1 766.1,509.1 767.2,501.4 768.3,506.3 769.4,502.2 770.5,505.5 771.6,500.3 772.7,499.4 773.8,499.4 774.9,498.2 776.0,492.6 777.1,496.4 778.2,498.4 779.3,502.5 780.4,495.8 781.5,494.8 782.6,497.8 783.7,496.3 784.8,499.3 785.9,494.0 787.0,490.3 788.1,494.5 789.2,494.0 790.3,484.7 791.4,486.1 792.5,477.5 793.6,481.6 794.7,478.5 795.8,480.2 796.9,478.1 798.0,478.3 799.1,477.5 800.2,478.7 801.3,476.7 802.4,472.5 803.5,468.5 804.6,477.5 805.7,477.0 806.8,468.4 807.9,471.2 809.0,461.7 810.1,460.4 811.2,464.4 812.3,470.1 813.4,458.8 814.5,458.5 815.6,467.0 816.7,451.8 817.8,459.9 818.9,457.0 820.0,452.0 821.1,451.4 822.2,455.9 823.3,442.1 824.4,442.7 825.5,440.8 826.6,438.7 826.6,438.7 827.7,444.9 828.8,448.1 829.9,446.3 831.0,453.7 832.1,460.6 833.2,461.9 834.3,456.0 835.4,462.9 836.5,466.1 837.6,468.4 838.7,470.1 839.8,463.3 840.9,479.9 842.0,475.4 843.1,483.8 844.2,486.1 845.3,480.0 846.4,478.3 847.5,489.6 848.6,488.3 849.7,490.2 850.8,490.4 851.9,502.8 853.0,495.8 854.1,493.4 855.2,498.7 856.3,497.4 857.4,504.1 858.5,503.2 859.6,502.1 860.7,509.4 861.8,504.5 862.9,509.9 864.0,512.0 865.1,505.5 866.2,504.3 867.3,507.7 868.4,510.4 869.5,506.7 870.6,507.9 871.7,508.0 872.8,510.2 873.9,512.4 875.0,508.0 876.1,509.7 877.2,512.8 878.3,510.8 879.4,514.9 880.5,518.2 881.6,517.6 882.7,517.0 883.8,518.0 884.9,529.8 886.0,528.0 887.1,521.7 888.2,524.4 889.3,536.9 890.4,537.0 891.5,532.9 892.6,538.6 893.7,529.5 894.8,536.9 895.9,541.4 897.0,532.5 898.1,538.9 899.2,547.4 900.3,551.1 901.4,546.5 902.5,552.4 903.6,559.9 904.7,554.3 905.8,552.2 906.9,559.0 908.0,559.5 909.1,568.1 910.2,565.3 911.3,563.2 912.4,575.9 913.5,568.1 914.6,574.2 915.7,577.3 916.8,580.1 917.9,580.1 919.0,584.5 920.1,584.6 921.2,581.9 922.3,589.4 923.4,592.3 924.5,595.2 925.6,598.1 926.0,599.0 926.7,597.8 927.8,596.4 928.9,584.9 930.0,587.2 931.1,581.2 932.2,573.3 933.3,579.5 934.4,572.4 935.5,570.3 936.6,566.3 937.7,572.7 938.8,573.0 939.9,568.9 941.0,570.3 942.1,566.8 943.2,567.5 944.3,563.7 945.4,566.5 946.5,563.2 947.6,567.2 948.7,568.7 949.8,564.6 950.9,566.1 952.0,567.0 953.1,549.8 954.2,555.4 955.3,551.0 956.4,549.4 957.5,543.6 958.6,547.3 959.7,544.2 960.8,540.7 961.9,540.3 963.0,537.0 964.1,529.8 965.2,539.8 966.3,532.3 967.4,529.1 968.5,533.6 969.6,529.0 970.7,523.3 971.8,533.7 972.9,522.7 974.0,527.9 975.1,528.6 976.2,532.8 977.3,531.5 978.4,526.7 979.5,522.3 980.6,522.8 981.7,528.0 982.8,529.9 983.9,524.0 985.0,518.4 986.1,524.3 987.2,517.9 988.3,517.0 989.4,516.7 990.5,519.3 991.6,517.1 992.7,519.2 993.8,519.6 994.9,515.6 996.0,505.0 997.1,504.9 998.2,511.5 999.3,509.8 1000.4,516.8 1001.5,508.3 1002.6,506.6 1003.7,509.2 1004.8,507.8 1005.9,500.7 1007.0,501.6 1008.1,493.3 1009.2,492.2 1010.3,499.4 1011.4,487.5 1012.5,495.3 1013.6,492.9 1014.7,491.8 1015.8,490.9 1016.9,488.1 1018.0,476.6 1019.1,478.7 1020.2,478.8 1021.3,483.4 1022.4,473.6 1023.5,473.8 1024.6,473.7 1025.7,478.8 1026.8,466.3 1027.9,465.0 1029.0,471.4 1030.1,459.9 1031.2,467.1 1032.3,461.5 1033.4,454.7 1034.5,457.1 1035.6,452.5 1036.7,454.9 1037.8,453.4 1038.9,456.4 1040.0,449.3 1041.1,448.6 1042.2,444.9 1043.3,446.1 1044.4,449.5 1045.5,436.7 1046.6,446.1 1047.7,440.6 1048.8,442.8 1049.9,443.4 1051.0,444.1 1052.1,441.8 1053.2,440.7 1053.7,440.7 1054.3,442.2 1055.4,444.6 1056.5,448.3 1057.6,453.9 1058.7,453.9 1059.8,456.8 1060.9,453.9 1062.0,461.4 1063.1,457.2 1064.2,470.4 1065.3,466.5 1066.4,478.2 1067.5,483.4 1068.6,476.9 1069.7,486.6 1070.8,485.7 1071.9,484.6 1073.0,486.2 1074.1,494.5 1075.2,500.0 1076.3,497.9 1077.4,492.6 1078.5,496.6 1079.6,502.0 1080.7,510.5 1081.8,508.0 1082.9,509.7 1084.0,514.8 1085.1,510.7 1086.2,512.8 1087.3,514.0 1088.4,509.2 1089.5,519.7 1090.6,520.5 1091.7,523.8 1092.8,516.1 1093.9,518.7 1095.0,526.7 1096.1,525.3 1097.2,530.6 1098.3,522.5 1099.4,527.4 1100.5,524.6 1101.6,529.2 1102.7,526.7 1103.8,531.5 1104.9,534.3 1106.0,533.3 1107.1,524.0 1108.2,535.5 1109.3,534.2 1110.4,529.2 1111.5,531.5 1112.6,536.6 1113.7,540.5 1114.8,538.0 1115.9,534.9 1117.0,544.2 1118.1,545.3 1119.2,553.7 1120.3,542.5 1121.4,556.8 1122.5,557.7 1123.6,553.4 1124.7,560.2 1125.8,555.4 1126.9,560.4 1128.0,555.0 1129.1,559.7 1130.2,556.8 1131.3,556.0 1132.4,562.7 1133.5,562.8 1134.6,569.3 1135.7,573.6 1136.8,569.4 1137.9,571.9 1139.0,573.8 1140.1,567.6 1141.2,576.6 1142.3,576.9 1143.4,577.9 1144.5,575.0 1145.6,573.4 1146.7,581.7 1147.8,584.9 1148.9,587.7 1150.0,587.8 1150.3,587.9 1151.1,586.9 1152.2,587.0 1153.3,582.4 1154.4,583.7 1155.5,583.0 1156.6,585.0 1157.7,576.5 1158.8,568.7 1159.9,577.6 1161.0,566.2 1162.1,566.3 1163.2,562.6 1164.3,557.5 1165.4,565.3 1166.5,562.2 1167.6,557.2 1168.7,559.8 1169.8,557.6 1170.9,561.6 1172.0,557.4 1173.1,555.6 1174.2,555.9 1175.3,556.6 1176.4,558.5 1177.5,552.6 1178.6,554.8 1179.7,555.6 1180.8,560.3 1181.9,555.0 1183.0,542.8 1184.1,547.2 1185.2,547.1 1186.3,549.2 1187.4,553.5 1188.5,549.6 1189.6,538.3 1190.7,546.5 1191.8,545.0 1192.9,545.5 1194.0,548.6 1195.1,537.7 1196.2,545.0 1197.3,532.5 1198.4,537.7 1199.5,537.6 1200.6,542.1 1201.7,530.2 1202.8,524.7 1203.9,532.6 1205.0,525.9 1206.1,533.5 1207.2,523.2 1208.3,521.2 1209.4,528.4 1210.5,522.4 1211.6,524.8 1212.7,513.7 1213.8,524.6 1214.9,515.4 1216.0,520.8 1217.1,513.2 1218.2,510.7 1219.3,515.6 1220.4,517.0 1221.5,522.3 1222.6,517.0 1223.7,518.2 1224.8,517.7 1225.9,522.4 1227.0,510.6 1228.1,518.2 1229.2,511.7 1230.3,512.5 1231.4,508.3 1232.5,514.3 1233.6,503.9 1234.7,502.8 1235.8,506.5 1236.9,501.9 1238.0,508.5 1239.1,508.3 1240.2,500.5 1241.3,505.6 1242.4,498.7 1243.5,500.0 1244.6,499.1 1245.7,505.5 1246.8,496.9 1247.9,492.1 1249.0,491.0 1250.1,498.2 1251.2,485.2 1252.3,488.5 1253.4,487.3 1254.5,479.7 1255.6,484.0 1256.7,488.3 1257.8,483.7 1258.9,477.6 1260.0,481.5 1261.1,477.7 1262.2,480.2 1263.3,466.5 1264.4,465.0 1265.5,464.2 1266.6,462.1 1267.7,461.6 1268.8,459.6 1269.9,457.6 1271.0,456.7 1271.2,456.8 1272.1,457.1 1273.2,458.2 1274.3,460.6 1275.4,466.4 1276.5,469.8 1277.6,464.4 1278.7,472.0 1279.8,476.1 1280.9,474.8 1282.0,470.6 1283.1,471.8 1284.2,484.7 1285.3,487.3 1286.4,487.8 1287.5,485.9 1288.6,499.4 1289.7,501.9 1290.8,500.3 1291.9,503.0 1293.0,500.3 1294.1,514.7 1295.2,509.2 1296.3,522.3 1297.4,527.1 1298.5,529.4 1299.6,540.1 1300.7,536.5 1301.8,543.7 1302.9,548.0 1304.0,549.4 1305.1,550.4 1306.2,560.7 1307.3,561.3 1308.4,562.4 1309.5,566.3 1310.6,569.7 1311.7,579.2 1312.8,574.2 1313.9,575.1 1315.0,574.0 1316.1,576.3 1317.2,577.1 1318.3,588.8 1319.4,591.6 1320.5,594.1 1321.5,598.4 1321.6,598.1 1322.7,595.0 1323.8,590.0 1324.9,591.6 1326.0,588.6 1327.1,585.4 1328.2,586.2 1329.3,578.1 1330.4,583.8 1331.5,572.6 1332.6,577.0 1333.7,575.7 1334.8,570.4 1335.9,571.2 1337.0,563.0 1338.1,560.5 1339.2,564.5 1340.3,561.4 1341.4,565.7 1342.5,562.5 1343.6,563.9 1344.7,561.7 1345.8,560.2 1346.9,558.7 1348.0,555.8 1349.1,554.2 1350.2,562.4 1351.3,546.3 1352.4,551.2 1353.5,554.6 1354.6,550.8 1355.7,553.5 1356.8,549.2 1357.9,541.1 1359.0,543.9 1360.1,538.7 1361.2,547.3 1362.3,548.2 1363.4,539.9 1364.5,542.9 1365.6,538.2 1366.7,531.8 1367.8,533.5 1368.9,526.8 1370.0,528.6 1371.1,530.4 1372.2,532.8 1373.3,535.4 1374.4,529.2 1375.5,531.9 1376.6,533.0 1377.7,533.8 1378.8,524.6 1379.9,529.3 1381.0,535.9 1382.1,528.6 1383.2,534.1 1384.3,535.8 1385.4,524.5 1386.5,530.5 1387.6,531.6 1388.7,530.0 1389.8,523.2 1390.9,530.0 1392.0,525.7 1393.1,530.7 1394.2,528.4 1395.3,523.8 1396.4,526.0 1397.5,521.7 1398.6,520.9 1399.7,516.6 1400.8,521.9 1401.9,528.0 1403.0,522.8 1404.1,521.3 1405.2,516.6 1406.3,516.4 1407.4,523.8 1408.5,509.2 1409.6,533.0 1410.7,520.9 1411.8,535.5 1412.9,531.3 1414.0,522.2 1415.1,531.0 1416.2,529.2 1417.3,530.5 1418.4,532.7 1419.5,524.0 1420.6,523.6 1421.7,524.9 1422.8,518.7 1423.9,526.0 1425.0,529.2 1426.1,529.2 1427.2,528.8 1428.3,525.0 1429.4,532.8 1430.5,516.2 1431.6,525.2 1432.7,525.6 1433.8,533.6 1434.9,532.1 1436.0,533.0 1437.1,528.1 1438.2,534.3 1439.3,521.6 1440.4,528.8 1441.5,517.0 1442.6,539.9 1443.7,539.3 1444.8,525.3 1445.9,523.9 1447.0,518.2 1448.1,519.9 1449.2,530.7 1450.3,529.1 1451.4,520.7 1452.5,527.2 1453.6,526.3 1454.7,533.9 1455.8,535.5 1456.9,529.5 1458.0,531.7 1459.1,531.1 1460.2,519.4 1461.3,531.1 1462.4,528.7 1463.5,533.2 1464.6,516.1 1465.7,531.5 1466.8,521.5 1467.9,526.3 1469.0,531.6 1470.1,513.1 1471.2,513.3 1472.3,527.7 1473.4,513.6 1474.5,514.5 1475.6,524.6 1476.7,519.1 1477.8,525.2 1478.9,521.8 1480.0,519.6 1481.1,526.1 1482.2,532.7 1483.3,518.6 1484.4,528.6 1485.5,526.4 1486.6,519.7 1487.7,521.9 1488.8,513.0 1489.9,515.0 1491.0,520.8 1492.1,518.8 1493.2,527.9 1494.3,511.3 1495.4,518.1 1496.5,516.1 1497.6,519.5 1498.7,528.4 1499.8,513.3 1500.9,527.0 1502.0,518.1 1503.1,520.2 1504.2,529.1 1505.3,521.0 1506.4,527.6 1507.5,524.2 1508.6,522.4 1509.7,521.4 1510.8,512.6 1511.9,519.0 1513.0,525.0 1514.1,525.2 1515.2,514.3 1516.3,530.4 1517.4,527.5 1518.5,515.1 1519.6,516.8 1520.7,526.8 1521.8,512.0 1522.9,518.5 1524.0,522.8 1525.1,522.1 1526.2,522.3 1527.3,525.1 1528.4,517.1 1529.5,519.0 1530.6,534.9 1531.7,512.5 1532.8,518.6 1533.9,521.9 1535.0,516.8 1536.1,528.7 1537.2,521.0 1538.3,525.2 1539.4,508.4 1540.5,527.5 1541.6,527.0 1542.7,514.4 1543.8,527.7 1544.9,520.8 1546.0,525.0 1547.1,530.7 1548.2,519.4 1549.3,512.0 1550.4,518.4 1551.5,510.2 1552.6,513.2 1553.7,513.4 1554.8,513.5 1555.9,525.7 1557.0,523.5 1558.1,512.1 1559.2,525.3 1560.3,506.9 1561.4,513.5 1562.5,516.9 1563.6,525.4 1564.7,522.5 1565.8,520.8 1566.9,526.3 1568.0,522.5 1569.1,526.7 1570.2,512.8 1571.3,506.9 1572.4,515.4 1573.5,523.7 1574.6,519.9 1575.7,524.0 1576.8,522.9 1577.9,521.6 1579.0,523.8 1580.1,513.9 1581.2,525.9 1582.3,512.4 1583.4,518.3 1584.5,510.1 1585.6,522.8 1586.7,509.6 1587.8,529.2 1588.9,511.5 1590.0,522.3 1591.1,520.0 1592.2,515.6 1593.3,529.5 1594.4,518.9 1595.5,531.4 1596.6,515.4 1597.7,517.1 1598.8,510.6 1599.9,526.3 1601.0,528.7 1602.1,524.4 1603.2,522.1 1604.3,517.3 1605.4,536.1 1606.5,528.4 1607.6,511.6 1608.7,521.6 1609.8,511.7 1610.9,533.8 1612.0,536.3 1613.1,533.1 1614.2,523.2 1615.3,519.6 1616.4,514.2 1617.5,526.6 1618.6,518.1 1619.7,520.2 1620.8,518.3 1621.9,520.2 1623.0,527.9 1624.1,532.7 1625.2,522.5 1626.3,521.3 1627.4,513.5 1628.5,512.8 1629.6,513.7 1630.7,526.2 1631.8,521.9 1632.9,526.4 1634.0,522.7 1635.1,517.1 1636.2,511.6 1637.3,517.2 1638.4,510.1 1639.5,532.0 1640.6,521.1 1641.7,516.9 1642.8,532.1 1643.9,517.0 1645.0,523.2 1646.1,518.6 1647.2,522.3 1648.3,517.8 1649.4,523.6 1650.5,529.9 1651.6,512.6 1652.7,509.1 1653.8,530.3 1654.9,523.0 1656.0,528.0 1657.1,520.7 1658.2,533.3 1659.3,535.3 1660.4,516.1 1661.5,528.7 1662.6,520.5 1663.7,514.1 1664.8,523.0 1665.9,529.1 1667.0,516.7 1668.1,517.7 1669.2,534.5 1670.3,526.9 1671.4,529.7 1672.5,519.9 1673.6,523.3 1674.7,528.5 1675.8,528.9 1676.9,528.7 1678.0,538.2 1679.1,528.7 1680.2,517.6 1681.3,521.9 1682.4,526.9 1683.5,535.5 1684.6,522.5 1685.7,524.3 1686.8,526.5 1687.9,521.8 1689.0,520.6 1690.1,524.1 1691.2,531.9 1692.3,528.2 1693.4,522.8 1694.5,526.9 1695.6,515.4 1696.7,529.9 1697.8,527.9 1698.9,524.8 1700.0,511.7 1701.1,535.3 1702.2,510.2 1703.3,514.9 1704.4,515.2 1705.5,525.5 1706.6,510.7 1707.7,521.9 1708.8,519.0 1709.9,517.8 1711.0,525.1 1712.1,528.5 1713.2,521.8 1714.3,517.3 1715.4,507.4 1716.5,528.7 1717.6,517.1 1718.7,507.5 1719.8,520.0 1720.9,528.3 1722.0,517.9 1723.1,511.2 1724.2,532.1 1725.3,522.9 1726.4,521.3 1727.5,525.9 1728.6,507.9 1729.7,519.4 1730.8,518.9 1731.9,533.2 1733.0,516.6 1734.1,516.7 1735.2,511.3 1736.3,515.2 1737.4,519.3 1738.5,522.5 1739.6,519.4 1740.7,533.8 1741.8,524.1 1742.9,525.2 1744.0,530.0 1745.1,525.2 1746.2,517.7 1747.3,511.0 1748.4,523.4 1749.5,515.4 1750.6,529.6 1751.7,515.7 1752.8,508.9 1753.9,520.9 1755.0,527.6 1756.1,519.1 1757.2,521.6 1758.3,521.4 1759.4,531.7 1760.5,522.2 1761.6,519.9 1762.7,516.1 1763.8,509.3 1764.9,529.5 1766.0,527.8 1767.1,514.0 1768.2,524.4 1769.3,522.5 1770.4,518.0 1771.5,518.5 1772.6,525.5 1773.7,512.7 1774.8,517.5 1775.9,520.4 1777.0,521.0 1778.1,519.6 1779.2,522.6 1780.3,524.7 1781.4,515.2 1782.5,521.5 1783.6,517.6 1784.7,531.0 1785.8,511.7 1786.9,519.4 1788.0,525.4 1789.1,518.9 1790.2,518.5 1791.3,517.1 1792.4,522.5 1793.5,512.7 1794.6,519.6 1795.7,519.1 1796.8,510.0 1797.9,521.3 1799.0,516.3 1800.1,521.3 1801.2,524.6 1802.3,521.2 1803.4,511.0 1804.5,520.8 1805.6,507.9 1806.7,513.2 1807.8,529.1 1808.9,518.2 1810.0,528.4 1811.1,517.0 1812.2,518.2 1813.3,510.8 1814.4,524.4 1815.5,517.0 1816.6,522.5 1817.7,521.2 1818.8,521.8 1819.9,520.5 1821.0,518.1 1822.1,518.3 1823.2,514.0 1824.3,506.5 1825.4,521.8 1826.5,531.3 1827.6,525.6 1828.7,531.1 1829.8,521.9 1830.9,512.2 1832.0,511.8 1833.1,522.8 1834.2,519.8 1835.3,516.1 1836.4,521.7 1837.5,510.6 1838.6,519.5 1839.7,513.8 1840.8,516.3 1841.9,522.6 1843.0,513.5 1844.1,523.1 1845.2,522.3 1846.3,508.3 1847.4,525.4 1848.5,504.6 1849.6,511.8 1850.7,516.9 1851.8,499.4 1852.9,518.3 1854.0,518.7 1855.1,510.4 1856.2,512.7 1857.3,512.2 1858.4,509.2 1859.5,517.5 1859.5,508.2"/>
<polyline fill="none" stroke="#ff00ff" stroke-width="9.0" stroke-linejoin="miter" stroke-miterlimit="1.5" stroke-linecap="butt" points="160.0,682.6 161.1,653.4 162.2,670.8 163.3,663.0 164.4,663.4 165.5,664.7 166.6,651.6 167.7,664.0 168.8,659.1 169.9,679.8 171.0,666.7 172.1,661.9 173.2,662.2 174.3,659.1 175.4,656.0 176.5,660.9 177.6,667.4 178.7,661.6 179.8,670.5 180.9,661.5 182.0,663.1 183.1,674.5 184.2,666.7 185.3,658.6 186.4,660.9 187.5,666.4 188.6,676.7 189.7,660.2 190.8,660.5 191.9,670.2 193.0,655.9 194.1,660.5 195.2,669.4 196.3,667.2 197.4,663.6 198.5,668.3 199.6,649.0 200.7,671.6 201.8,657.0 202.9,652.0 204.0,667.1 205.1,670.8 206.2,662.6 207.3,658.4 208.4,667.2 209.5,667.2 210.6,678.7 211.7,674.3 212.8,670.5 213.9,678.0 215.0,668.4 216.1,663.5 217.2,675.5 218.3,675.9 219.4,670.3 220.5,666.3 221.6,674.2 222.7,658.2 223.8,678.4 224.9,677.0 226.0,660.9 227.1,673.7 228.2,665.9 229.3,678.8 230.4,658.4 231.5,665.7 232.6,677.7 233.7,680.8 234.8,657.4 235.9,667.6 237.0,673.7 238.1,666.2 239.2,682.5 240.3,661.0 241.4,672.5 242.5,661.6 243.6,680.0 244.7,668.8 245.8,665.7 246.9,655.1 248.0,680.6 249.1,673.5 250.2,673.5 251.3,676.2 252.4,670.2 253.5,662.6 254.6,661.3 255.7,661.3 256.8,677.6 257.9,656.2 259.0,662.5 260.1,664.8 261.2,668.9 262.3,671.8 263.4,657.8 264.5,654.3 265.6,667.4 266.7,676.7 267.8,673.3 268.9,669.3 270.0,665.2 271.1,669.8 272.2,665.9 273.3,674.1 274.4,661.9 275.5,669.0 276.6,667.2 277.7,672.1 278.8,669.8 279.9,682.8 281.0,680.0 282.1,680.1 283.2,654.4 284.3,666.4 285.4,664.5 286.5,673.3 287.6,654.9 288.7,678.1 289.8,677.3 290.9,659.2 292.0,661.7 293.1,663.0 294.2,669.2 295.3,673.6 296.4,683.1 297.5,666.9 298.6,674.0 299.7,669.1 300.8,681.1 301.9,673.1 303.0,677.3 304.1,658.2 305.2,664.5 306.3,659.4 307.4,676.5 308.5,669.7 309.6,661.9 310.7,660.4 311.8,667.1 312.9,657.9 314.0,655.6 315.1,666.0 316.2,676.4 317.3,660.1 318.4,657.6 319.5,652.9 320.6,651.5 321.7,665.7 322.8,668.1 323.9,661.7 325.0,664.3 326.1,662.9 327.2,663.3 328.3,650.8 329.4,659.1 330.5,663.8 331.6,657.4 332.7,660.0 333.8,657.5 334.9,661.7 336.0,670.9 337.1,661.5 338.2,663.7 339.3,671.2 340.4,670.2 341.5,678.3 342.6,651.1 343.7,672.1 344.8,662.0 345.9,666.7 347.0,672.1 348.1,674.0 349.2,673.5 350.3,666.7 351.4,677.8 352.5,663.4 353.6,664.3 354.7,671.3 355.8,660.9 356.9,679.4 358.0,672.5 359.1,679.2 360.2,664.4 361.3,661.7 362.4,665.8 363.5,670.1 364.6,660.0 365.7,667.4 366.8,664.2 367.9,676.7 369.0,659.3 370.1,672.1 371.2,659.2 372.3,656.9 373.4,658.9 374.5,655.3 375.6,665.4 376.7,672.2 377.8,665.7 378.9,669.2 380.0,676.8 381.1,666.3 382.2,665.7 383.3,662.3 384.4,652.1 385.5,669.9 386.6,650.7 387.7,669.0 388.8,663.8 389.9,672.5 391.0,663.3 392.1,657.5 393.2,666.5 394.3,659.4 395.4,662.0 396.5,663.6 397.6,662.0 398.7,661.4 399.8,656.3 400.9,661.0 402.0,647.9 403.1,660.9 404.2,653.0 405.3,670.5 406.4,671.6 407.5,647.5 408.6,663.1 409.7,661.1 410.8,654.1 411.9,666.1 413.0,658.6 414.1,648.6 415.2,660.0 416.3,661.1 417.4,663.0 418.5,653.1 419.6,667.4 420.7,668.5 421.8,654.3 422.9,658.2 424.0,662.8 425.1,659.1 426.2,676.7 427.3,665.3 428.4,656.4 429.5,658.3 430.6,664.0 431.7,679.1 432.8,663.7 433.9,666.3 435.0,669.5 436.1,665.3 437.2,680.0 438.3,661.6 439.4,671.4 440.5,667.2 441.6,670.6 442.7,656.9 443.8,679.3 444.9,665.0 446.0,666.4 447.1,658.9 448.2,660.5 449.3,670.4 450.4,673.6 451.5,671.8 452.6,675.2 453.7,671.5 454.8,666.1 455.9,672.1 457.0,670.4 458.1,665.1 459.2,671.3 460.3,675.4 461.4,667.4 462.5,662.7 463.6,670.7 464.7,679.6 465.8,663.6 466.9,664.6 468.0,664.2 469.1,674.4 470.2,650.9 471.3,667.7 472.4,673.7 473.5,658.4 474.6,675.7 475.7,668.2 476.8,659.7 477.9,665.5 479.0,652.1 480.1,659.4 481.2,677.2 482.3,656.2 483.4,677.0 484.5,662.2 485.6,670.1 486.7,662.5 487.8,647.7 488.9,657.7 490.0,663.5 491.1,653.2 492.2,651.6 493.3,664.6 494.4,656.7 495.5,648.8 496.6,656.5 497.7,668.2 498.8,658.0 499.9,668.8 501.0,673.5 502.1,662.2 503.2,653.5 504.3,652.4 505.4,662.2 506.5,669.3 507.6,664.9 508.7,667.4 509.8,660.0 510.9,665.7 512.0,660.0 513.1,661.2 514.2,654.0 515.3,652.0 516.4,660.4 517.5,655.9 518.6,657.0 519.7,669.5 520.8,663.5 521.9,678.8 523.0,671.5 524.1,659.7 525.2,670.4 526.3,667.1 527.4,658.9 528.5,672.4 529.6,657.9 530.7,649.2 531.8,669.4 532.9,658.4 534.0,673.9 535.1,657.4 536.2,653.2 537.3,673.6 538.4,653.2 539.5,662.7 540.6,672.0 541.7,661.4 542.8,659.6 543.9,660.8 545.0,666.3 546.1,653.5 547.2,664.1 548.3,663.7 549.4,673.7 550.5,656.7 551.6,652.3 552.7,664.8 553.8,656.3 554.9,661.5 556.0,660.4 557.1,668.4 558.2,654.7 559.3,659.2 560.4,645.6 561.5,653.3 562.6,672.0 563.7,655.6 564.8,655.9 565.9,652.2 567.0,666.3 568.1,663.9 569.2,654.0 570.3,668.5 571.4,665.7 572.5,669.7 573.6,659.4 574.7,677.9 575.8,668.0 576.9,664.3 578.0,661.5 579.1,663.7 580.2,672.4 581.3,664.1 582.4,674.4 583.5,670.7 584.6,676.4 585.7,672.1 586.8,665.5 587.9,651.5 589.0,668.2 590.1,671.8 591.2,666.9 592.3,669.8 593.4,661.7 594.5,662.3 595.6,657.8 596.7,675.1 597.8,665.6 598.9,660.3 600.0,653.8 601.1,662.0 602.2,669.2 603.3,663.5 604.4,656.8 605.5,666.8 606.6,666.0 607.7,663.0 608.8,661.4 609.9,662.5 611.0,658.8 612.1,659.2 613.2,650.7 614.3,661.4 615.4,654.4 616.5,662.1 617.6,642.4 618.7,654.7 619.8,655.4 620.9,648.5 622.0,652.2 623.1,653.6 624.2,652.8 625.3,647.1 626.4,649.1 627.5,654.7 628.6,656.0 629.7,650.1 630.8,649.9 631.9,650.5 633.0,654.7 634.1,644.1 635.2,642.7 636.3,650.0 637.4,643.8 638.5,646.4 639.6,649.8 640.7,651.7 641.8,643.8 642.9,653.1 644.0,640.2 645.1,651.8 646.2,641.2 647.3,643.0 648.4,653.0 649.5,648.2 650.6,646.6 651.7,648.8 652.8,653.9 653.9,651.7 655.0,652.3 656.1,658.3 657.2,649.9 658.3,651.7 659.4,651.9 660.5,660.9 661.6,660.6 662.7,662.6 663.8,656.6 664.9,656.5 666.0,664.4 667.1,661.2 668.2,670.2 669.3,672.6 670.4,668.3 671.5,674.3 672.6,677.0 673.7,687.5 674.8,688.8 675.9,679.2 677.0,680.1 678.1,670.8 679.2,681.7 680.3,681.0 681.4,675.9 682.5,685.4 683.6,673.8 684.7,680.7 685.8,682.7 686.9,675.9 688.0,686.5 689.1,687.6 690.2,675.5 691.3,675.4 692.4,685.6 693.5,682.6 694.6,676.7 695.7,681.4 696.8,682.5 697.9,682.3 699.0,687.3 700.1,685.1 701.2,692.1 702.3,690.2 703.4,686.9 704.5,689.1 705.6,690.3 706.7,686.2 707.8,675.5 708.9,684.9 710.0,679.9 711.1,686.6 712.2,678.0 713.3,679.2 714.4,677.1 715.5,682.9 716.6,674.4 717.7,671.3 718.8,673.2 719.9,668.6 721.0,670.7 722.1,669.2 723.2,670.6 724.3,678.7 725.4,666.9 726.5,669.1 727.6,667.8 728.7,672.0 729.8,662.7 730.9,665.0 732.0,668.2 733.1,671.0 734.2,667.9 735.3,665.6 736.4,663.6 737.5,670.4 738.6,675.0 739.7,669.3 740.8,668.5 741.9,669.7 743.0,662.6 744.1,665.7 745.2,665.7 746.3,668.4 747.4,666.6 748.5,660.6 749.6,672.3 750.7,675.1 751.8,665.2 752.9,668.4 754.0,667.7 755.1,670.2 756.2,658.7 757.3,674.1 758.4,663.7 759.5,672.2 760.6,666.2 761.7,663.8 762.8,664.8 763.9,669.7 765.0,660.6 766.1,662.6 767.2,661.6 768.3,655.2 769.4,669.8 770.5,665.7 771.6,662.2 772.7,667.5 773.8,656.4 774.9,660.3 776.0,669.0 777.1,664.8 778.2,649.8 779.3,649.3 780.4,653.1 781.5,663.1 782.6,654.9 783.7,655.8 784.8,659.5 785.9,651.7 787.0,656.8 788.1,659.3 789.2,657.3 790.3,656.5 791.4,651.0 792.5,656.2 793.6,651.1 794.7,659.4 795.8,662.0 796.9,648.5 798.0,642.2 799.1,649.2 800.2,652.9 801.3,655.9 802.4,655.7 803.5,645.9 804.6,645.4 805.7,655.3 806.8,643.1 807.9,653.6 809.0,646.5 810.1,651.0 811.2,650.1 812.3,649.9 813.4,649.6 814.5,640.1 815.6,645.9 816.7,644.0 817.8,646.0 818.9,651.1 820.0,644.0 821.1,642.3 822.2,642.6 823.3,645.2 824.4,651.0 825.5,643.7 826.6,654.2 827.7,650.3 828.8,648.2 829.9,643.1 831.0,651.4 832.1,654.2 833.2,642.5 834.3,657.8 835.4,660.7 836.5,654.8 837.6,656.1 838.7,663.8 839.8,660.9 840.9,650.8 842.0,655.9 843.1,655.9 844.2,656.5 845.3,648.3 846.4,662.3 847.5,656.0 848.6,660.6 849.7,659.7 850.8,665.3 851.9,660.1 853.0,658.3 854.1,665.2 855.2,669.7 856.3,661.5 857.4,670.1 858.5,664.8 859.6,661.2 860.7,671.7 861.8,660.3 862.9,669.7 864.0,662.4 865.1,667.4 866.2,659.2 867.3,661.5 868.4,671.3 869.5,667.2 870.6,666.8 871.7,664.8 872.8,669.6 873.9,660.7 875.0,662.7 876.1,668.0 877.2,665.0 878.3,666.2 879.4,669.9 880.5,670.0 881.6,670.0 882.7,680.0 883.8,677.2 884.9,678.8 886.0,672.9 887.1,671.0 888.2,666.8 889.3,672.6 890.4,665.3 891.5,672.3 892.6,679.5 893.7,684.2 894.8,681.6 895.9,673.0 897.0,680.3 898.1,674.5 899.2,683.1 900.3,678.9 901.4,684.2 902.5,689.8 903.6,685.4 904.7,690.8 905.8,682.6 906.9,680.5 908.0,689.2 909.1,691.6 910.2,680.6 911.3,684.3 912.4,677.1 913.5,683.7 914.6,689.4 915.7,684.7 916.8,682.7 917.9,678.8 919.0,687.9 920.1,690.4 921.2,689.7 922.3,688.2 923.4,680.9 924.5,696.5 925.6,687.9 926.7,687.9 927.8,692.7 928.9,680.0 930.0,689.7 931.1,689.8 932.2,692.8 933.3,698.2 934.4,694.3 935.5,683.3 936.6,690.4 937.7,692.2 938.8,691.0 939.9,682.9 941.0,680.1 942.1,690.2 943.2,688.2 944.3,685.4 945.4,675.9 946.5,692.4 947.6,673.2 948.7,679.9 949.8,690.2 950.9,678.9 952.0,679.8 953.1,671.7 954.2,683.4 955.3,669.2 956.4,676.2 957.5,675.2 958.6,669.0 959.7,678.3 960.8,666.5 961.9,670.0 963.0,673.0 964.1,670.7 965.2,674.8 966.3,676.9 967.4,670.5 968.5,669.1 969.6,669.1 970.7,669.5 971.8,675.2 972.9,669.9 974.0,672.8 975.1,669.9 976.2,666.0 977.3,674.2 978.4,664.4 979.5,669.4 980.6,676.5 981.7,663.4 982.8,668.4 983.9,660.4 985.0,665.6 986.1,660.4 987.2,665.9 988.3,664.7 989.4,667.8 990.5,674.8 991.6,668.1 992.7,669.6 993.8,665.8 994.9,664.6 996.0,661.4 997.1,656.4 998.2,665.5 999.3,673.2 1000.4,667.2 1001.5,660.7 1002.6,670.2 1003.7,658.5 1004.8,656.3 1005.9,651.9 1007.0,651.9 1008.1,654.1 1009.2,663.5 1010.3,651.8 1011.4,646.3 1012.5,647.2 1013.6,648.8 1014.7,641.1 1015.8,650.0 1016.9,652.6 1018.0,650.6 1019.1,651.9 1020.2,642.2 1021.3,639.9 1022.4,654.5 1023.5,653.2 1024.6,639.8 1025.7,648.2 1026.8,647.0 1027.9,649.4 1029.0,647.5 1030.1,643.5 1031.2,646.6 1032.3,645.9 1033.4,644.2 1034.5,634.5 1035.6,633.6 1036.7,638.5 1037.8,633.7 1038.9,642.6 1040.0,644.2 1041.1,641.2 1042.2,637.4 1043.3,639.0 1044.4,643.8 1045.5,633.8 1046.6,641.4 1047.7,639.8 1048.8,636.8 1049.9,642.2 1051.0,630.8 1052.1,640.0 1053.2,631.6 1054.3,633.3 1055.4,632.7 1056.5,641.3 1057.6,635.2 1058.7,641.1 1059.8,636.2 1060.9,648.2 1062.0,653.0 1063.1,645.9 1064.2,653.9 1065.3,649.4 1066.4,657.0 1067.5,649.0 1068.6,641.7 1069.7,657.9 1070.8,650.5 1071.9,646.6 1073.0,649.1 1074.1,645.0 1075.2,653.0 1076.3,649.2 1077.4,662.7 1078.5,659.3 1079.6,648.4 1080.7,649.8 1081.8,655.1 1082.9,649.0 1084.0,658.6 1085.1,659.6 1086.2,656.6 1087.3,658.4 1088.4,664.3 1089.5,669.7 1090.6,670.2 1091.7,663.0 1092.8,667.2 1093.9,659.4 1095.0,665.4 1096.1,658.7 1097.2,667.4 1098.3,657.8 1099.4,659.3 1100.5,664.4 1101.6,667.3 1102.7,657.6 1103.8,662.4 1104.9,666.1 1106.0,666.8 1107.1,661.7 1108.2,666.8 1109.3,665.3 1110.4,674.1 1111.5,670.5 1112.6,661.7 1113.7,659.3 1114.8,669.9 1115.9,676.0 1117.0,671.6 1118.1,675.6 1119.2,669.5 1120.3,665.8 1121.4,676.8 1122.5,674.2 1123.6,677.6 1124.7,667.8 1125.8,676.2 1126.9,672.7 1128.0,680.5 1129.1,674.6 1130.2,675.5 1131.3,676.5 1132.4,686.8 1133.5,681.7 1134.6,678.8 1135.7,678.5 1136.8,679.4 1137.9,693.0 1139.0,677.6 1140.1,683.3 1141.2,691.7 1142.3,695.4 1143.4,689.6 1144.5,695.2 1145.6,696.1 1146.7,698.2 1147.8,694.5 1148.9,702.1 1150.0,693.9 1151.1,699.6 1152.2,685.5 1153.3,694.9 1154.4,683.0 1155.5,680.9 1156.6,690.0 1157.7,682.4 1158.8,687.8 1159.9,679.3 1161.0,691.8 1162.1,682.9 1163.2,675.3 1164.3,680.1 1165.4,681.7 1166.5,671.5 1167.6,675.9 1168.7,680.7 1169.8,673.8 1170.9,669.2 1172.0,667.5 1173.1,674.3 1174.2,664.8 1175.3,663.8 1176.4,671.3 1177.5,670.3 1178.6,685.4 1179.7,678.3 1180.8,673.7 1181.9,673.7 1183.0,682.2 1184.1,675.1 1185.2,675.9 1186.3,677.8 1187.4,678.2 1188.5,677.8 1189.6,677.4 1190.7,682.9 1191.8,684.5 1192.9,667.3 1194.0,684.4 1195.1,675.5 1196.2,680.7 1197.3,670.4 1198.4,675.3 1199.5,674.4 1200.6,673.6 1201.7,676.9 1202.8,675.6 1203.9,667.0 1205.0,670.9 1206.1,674.7 1207.2,674.0 1208.3,668.5 1209.4,668.4 1210.5,668.7 1211.6,663.6 1212.7,662.4 1213.8,676.5 1214.9,666.4 1216.0,668.4 1217.1,663.8 1218.2,673.7 1219.3,675.7 1220.4,665.5 1221.5,669.0 1222.6,662.3 1223.7,674.6 1224.8,670.3 1225.9,661.2 1227.0,671.6 1228.1,666.9 1229.2,667.0 1230.3,666.4 1231.4,660.9 1232.5,661.4 1233.6,666.9 1234.7,663.2 1235.8,658.4 1236.9,672.0 1238.0,661.4 1239.1,659.2 1240.2,658.0 1241.3,664.5 1242.4,665.4 1243.5,661.2 1244.6,663.5 1245.7,650.8 1246.8,655.6 1247.9,654.2 1249.0,655.9 1250.1,657.6 1251.2,644.4 1252.3,662.6 1253.4,648.3 1254.5,653.6 1255.6,655.3 1256.7,654.5 1257.8,650.6 1258.9,638.8 1260.0,642.4 1261.1,650.9 1262.2,641.8 1263.3,640.4 1264.4,635.3 1265.5,650.4 1266.6,646.1 1267.7,638.4 1268.8,641.6 1269.9,641.2 1271.0,635.5 1272.1,639.2 1273.2,641.2 1274.3,643.5 1275.4,648.0 1276.5,642.7 1277.6,641.3 1278.7,646.7 1279.8,642.5 1280.9,640.4 1282.0,653.4 1283.1,646.7 1284.2,650.3 1285.3,654.0 1286.4,646.1 1287.5,655.9 1288.6,656.0 1289.7,654.2 1290.8,657.6 1291.9,652.9 1293.0,648.2 1294.1,657.4 1295.2,655.4 1296.3,665.5 1297.4,663.7 1298.5,660.9 1299.6,665.0 1300.7,672.7 1301.8,672.8 1302.9,670.1 1304.0,671.5 1305.1,669.1 1306.2,671.1 1307.3,675.8 1308.4,673.6 1309.5,677.1 1310.6,671.6 1311.7,670.3 1312.8,671.7 1313.9,679.6 1315.0,690.0 1316.1,690.7 1317.2,681.3 1318.3,680.0 1319.4,693.2 1320.5,693.0 1321.6,685.4 1322.7,699.0 1323.8,696.0 1324.9,701.4 1326.0,695.6 1327.1,697.6 1328.2,693.9 1329.3,686.7 1330.4,689.6 1331.5,686.6 1332.6,693.4 1333.7,683.5 1334.8,680.0 1335.9,690.3 1337.0,691.8 1338.1,692.5 1339.2,690.0 1340.3,676.2 1341.4,679.4 1342.5,679.3 1343.6,681.2 1344.7,671.3 1345.8,680.6 1346.9,682.0 1348.0,675.7 1349.1,681.0 1350.2,686.1 1351.3,680.3 1352.4,685.2 1353.5,684.8 1354.6,681.5 1355.7,681.2 1356.8,677.1 1357.9,685.0 1359.0,676.4 1360.1,672.9 1361.2,683.3 1362.3,672.0 1363.4,680.4 1364.5,684.9 1365.6,677.2 1366.7,676.9 1367.8,682.6 1368.9,681.1 1370.0,663.3 1371.1,664.8 1372.2,684.6 1373.3,677.1 1374.4,659.2 1375.5,663.0 1376.6,673.1 1377.7,665.2 1378.8,675.8 1379.9,672.4 1381.0,675.2 1382.1,662.2 1383.2,675.5 1384.3,684.6 1385.4,664.1 1386.5,679.7 1387.6,676.9 1388.7,673.9 1389.8,668.3 1390.9,659.5 1392.0,661.4 1393.1,673.4 1394.2,674.7 1395.3,676.1 1396.4,673.9 1397.5,673.1 1398.6,662.6 1399.7,656.5 1400.8,666.9 1401.9,669.0 1403.0,665.7 1404.1,653.5 1405.2,660.9 1406.3,653.4 1407.4,665.6 1408.5,656.5 1409.6,663.2 1410.7,667.0 1411.8,665.5 1412.9,674.7 1414.0,656.0 1415.1,649.7 1416.2,671.5 1417.3,675.2 1418.4,675.4 1419.5,666.7 1420.6,668.8 1421.7,665.8 1422.8,655.1 1423.9,660.8 1425.0,669.2 1426.1,661.2 1427.2,680.1 1428.3,654.5 1429.4,663.1 1430.5,675.0 1431.6,662.1 1432.7,658.3 1433.8,656.6 1434.9,661.1 1436.0,678.4 1437.1,669.8 1438.2,670.6 1439.3,662.7 1440.4,673.4 1441.5,667.8 1442.6,660.1 1443.7,663.6 1444.8,668.7 1445.9,676.2 1447.0,667.1 1448.1,671.4 1449.2,681.8 1450.3,661.6 1451.4,658.2 1452.5,675.4 1453.6,671.1 1454.7,667.2 1455.8,669.9 1456.9,665.4 1458.0,672.0 1459.1,665.7 1460.2,674.4 1461.3,659.6 1462.4,662.2 1463.5,669.3 1464.6,664.8 1465.7,673.8 1466.8,668.2 1467.9,664.5 1469.0,670.2 1470.1,664.7 1471.2,656.7 1472.3,659.8 1473.4,662.3 1474.5,664.8 1475.6,669.0 1476.7,675.3 1477.8,672.3 1478.9,681.5 1480.0,677.4 1481.1,666.0 1482.2,680.0 1483.3,676.4 1484.4,663.7 1485.5,669.3 1486.6,675.0 1487.7,668.7 1488.8,674.6 1489.9,669.7 1491.0,672.2 1492.1,664.3 1493.2,669.3 1494.3,663.3 1495.4,671.1 1496.5,653.2 1497.6,668.3 1498.7,675.2 1499.8,669.9 1500.9,665.1 1502.0,669.4 1503.1,658.9 1504.2,658.9 1505.3,662.3 1506.4,663.7 1507.5,672.0 1508.6,657.7 1509.7,672.0 1510.8,652.4 1511.9,658.1 1513.0,663.7 1514.1,672.8 1515.2,659.1 1516.3,648.9 1517.4,666.9 1518.5,663.4 1519.6,655.1 1520.7,655.4 1521.8,657.9 1522.9,663.8 1524.0,668.2 1525.1,652.0 1526.2,677.4 1527.3,662.9 1528.4,660.3 1529.5,668.1 1530.6,663.7 1531.7,677.0 1532.8,671.2 1533.9,660.3 1535.0,660.1 1536.1,659.3 1537.2,660.3 1538.3,668.0 1539.4,658.0 1540.5,675.2 1541.6,662.2 1542.7,661.7 1543.8,669.9 1544.9,647.6 1546.0,655.2 1547.1,667.1 1548.2,662.7 1549.3,662.6 1550.4,665.6 1551.5,658.3 1552.6,661.6 1553.7,652.8 1554.8,649.0 1555.9,673.1 1557.0,656.5 1558.1,658.4 1559.2,674.6 1560.3,672.4 1561.4,660.6 1562.5,660.8 1563.6,664.4 1564.7,658.0 1565.8,669.8 1566.9,667.0 1568.0,667.1 1569.1,672.2 1570.2,672.2 1571.3,681.0 1572.4,678.8 1573.5,654.5 1574.6,674.7 1575.7,659.7 1576.8,657.6 1577.9,674.0 1579.0,663.4 1580.1,666.5 1581.2,677.4 1582.3,664.2 1583.4,662.6 1584.5,671.8 1585.6,678.5 1586.7,673.2 1587.8,657.3 1588.9,664.1 1590.0,667.8 1591.1,683.1 1592.2,675.6 1593.3,675.2 1594.4,677.8 1595.5,666.3 1596.6,672.2 1597.7,672.1 1598.8,661.0 1599.9,668.2 1601.0,672.4 1602.1,659.6 1603.2,673.9 1604.3,673.3 1605.4,675.1 1606.5,661.2 1607.6,667.7 1608.7,677.8 1609.8,672.6 1610.9,660.5 1612.0,668.2 1613.1,677.4 1614.2,665.9 1615.3,669.3 1616.4,680.5 1617.5,666.1 1618.6,665.6 1619.7,658.5 1620.8,661.2 1621.9,677.4 1623.0,665.0 1624.1,657.0 1625.2,658.9 1626.3,666.2 1627.4,672.0 1628.5,660.5 1629.6,671.4 1630.7,662.4 1631.8,668.9 1632.9,670.1 1634.0,671.0 1635.1,663.0 1636.2,665.3 1637.3,670.5 1638.4,657.1 1639.5,668.5 1640.6,671.2 1641.7,675.2 1642.8,666.9 1643.9,666.0 1645.0,668.6 1646.1,661.9 1647.2,665.7 1648.3,670.4 1649.4,669.5 1650.5,659.4 1651.6,664.9 1652.7,653.0 1653.8,673.3 1654.9,663.1 1656.0,669.1 1657.1,658.8 1658.2,666.2 1659.3,670.3 1660.4,674.4 1661.5,656.6 1662.6,673.2 1663.7,665.5 1664.8,660.6 1665.9,670.0 1667.0,664.0 1668.1,663.8 1669.2,660.7 1670.3,667.7 1671.4,666.2 1672.5,664.5 1673.6,658.4 1674.7,661.7 1675.8,668.7 1676.9,675.4 1678.0,665.5 1679.1,676.3 1680.2,665.2 1681.3,656.9 1682.4,670.1 1683.5,658.1 1684.6,668.5 1685.7,673.7 1686.8,663.5 1687.9,665.1 1689.0,680.6 1690.1,668.0 1691.2,668.4 1692.3,672.5 1693.4,665.9 1694.5,666.1 1695.6,669.9 1696.7,653.1 1697.8,678.1 1698.9,659.5 1700.0,659.7 1701.1,672.4 1702.2,668.6 1703.3,659.1 1704.4,670.4 1705.5,660.3 1706.6,663.8 1707.7,658.1 1708.8,663.5 1709.9,672.8 1711.0,670.8 1712.1,672.4 1713.2,677.0 1714.3,669.5 1715.4,664.8 1716.5,667.5 1717.6,681.9 1718.7,669.7 1719.8,671.6 1720.9,668.1 1722.0,670.6 1723.1,671.8 1724.2,668.3 1725.3,666.8 1726.4,661.6 1727.5,661.0 1728.6,670.1 1729.7,672.3 1730.8,673.4 1731.9,666.4 1733.0,659.3 1734.1,670.0 1735.2,669.5 1736.3,652.9 1737.4,669.8 1738.5,667.8 1739.6,675.7 1740.7,654.1 1741.8,652.7 1742.9,668.0 1744.0,648.2 1745.1,655.9 1746.2,653.0 1747.3,653.5 1748.4,646.8 1749.5,659.0 1750.6,667.9 1751.7,663.8 1752.8,663.7 1753.9,657.5 1755.0,671.0 1756.1,664.1 1757.2,667.8 1758.3,648.2 1759.4,662.6 1760.5,651.5 1761.6,662.9 1762.7,661.8 1763.8,652.0 1764.9,661.9 1766.0,669.4 1767.1,664.8 1768.2,665.6 1769.3,654.7 1770.4,656.5 1771.5,653.6 1772.6,663.1 1773.7,671.4 1774.8,665.9 1775.9,662.6 1777.0,654.4 1778.1,666.5 1779.2,661.5 1780.3,649.2 1781.4,650.7 1782.5,661.4 1783.6,657.4 1784.7,676.7 1785.8,664.6 1786.9,656.6 1788.0,661.0 1789.1,677.0 1790.2,658.0 1791.3,671.4 1792.4,668.7 1793.5,676.6 1794.6,669.5 1795.7,662.5 1796.8,669.4 1797.9,665.8 1799.0,672.8 1800.1,665.0 1801.2,680.0 1802.3,664.9 1803.4,669.2 1804.5,661.0 1805.6,666.9 1806.7,666.2 1807.8,667.4 1808.9,672.9 1810.0,662.0 1811.1,659.6 1812.2,674.5 1813.3,664.0 1814.4,661.1 1815.5,674.8 1816.6,672.1 1817.7,651.5 1818.8,663.3 1819.9,672.1 1821.0,672.2 1822.1,662.1 1823.2,677.8 1824.3,660.0 1825.4,664.1 1826.5,666.9 1827.6,665.7 1828.7,671.8 1829.8,673.4 1830.9,665.3 1832.0,676.0 1833.1,660.2 1834.2,663.7 1835.3,678.3 1836.4,665.8 1837.5,673.1 1838.6,661.8 1839.7,662.9 1840.8,664.1 1841.9,666.1 1843.0,662.1 1844.1,664.6 1845.2,669.4 1846.3,673.5 1847.4,665.1 1848.5,669.1 1849.6,671.1 1850.7,656.1 1851.8,652.4 1852.9,676.3 1854.0,673.8 1855.1,664.2 1856.2,666.3 1857.3,656.4 1858.4,653.1 1859.5,665.9 1859.5,652.2"/>
<polyline fill="none" stroke="#000000" stroke-width="9.0" stroke-linejoin="miter" stroke-miterlimit="1.5" stroke-linecap="butt" points="160.0,787.4 161.1,789.9 162.2,799.9 163.3,794.4 164.4,782.0 165.5,790.9 166.6,787.5 167.7,791.7 168.8,782.0 169.9,792.0 171.0,792.0 172.1,799.3 173.2,792.5 174.3,793.6 175.4,782.8 176.5,801.2 177.6,780.6 178.7,796.9 179.8,789.1 180.9,786.1 182.0,787.3 183.1,787.2 184.2,792.8 185.3,790.1 186.4,798.7 187.5,780.8 188.6,790.6 189.7,785.6 190.8,794.7 191.9,780.3 193.0,788.7 194.1,791.5 195.2,782.5 196.3,795.9 197.4,791.5 198.5,795.9 199.6,795.7 200.7,785.1 201.8,786.2 202.9,789.5 204.0,794.7 205.1,795.3 206.2,786.9 207.3,787.6 208.4,786.6 209.5,787.9 210.6,790.0 211.7,790.5 212.8,801.6 213.9,788.7 215.0,790.0 216.1,794.2 217.2,786.7 218.3,789.9 219.4,792.0 220.5,796.2 221.6,785.0 222.7,799.6 223.8,790.3 224.9,793.0 226.0,796.6 227.1,795.6 228.2,797.7 229.3,792.9 230.4,791.7 231.5,793.5 232.6,786.3 233.7,798.1 234.8,787.2 235.9,784.4 237.0,801.4 238.1,790.3 239.2,784.5 240.3,800.7 241.4,788.8 242.5,796.2 243.6,785.7 244.7,788.7 245.8,780.7 246.9,779.4 248.0,784.1 249.1,788.7 250.2,793.2 251.3,798.9 252.4,782.9 253.5,793.8 254.6,785.0 255.7,787.4 256.8,780.1 257.9,780.0 259.0,783.7 260.1,781.4 261.2,787.9 262.3,784.0 263.4,794.5 264.5,788.5 265.6,788.7 266.7,793.9 267.8,790.7 268.9,787.7 270.0,787.4 271.1,787.3 272.2,793.9 273.3,792.5 274.4,790.4 275.5,793.0 276.6,785.8 277.7,791.8 278.8,781.5 279.9,796.7 281.0,790.0 282.1,790.8 283.2,793.2 284.3,790.1 285.4,788.9 286.5,796.9 287.6,791.3 288.7,785.9 289.8,793.3 290.9,781.9 292.0,800.2 293.1,790.4 294.2,791.7 295.3,801.5 296.4,801.6 297.5,792.1 298.6,794.8 299.7,797.3 300.8,800.5 301.9,790.8 303.0,792.2 304.1,798.0 305.2,792.9 306.3,795.4 307.4,794.6 308.5,784.9 309.6,786.2 310.7,780.4 311.8,789.1 312.9,797.6 314.0,784.1 315.1,796.6 316.2,795.2 317.3,789.4 318.4,789.5 319.5,789.8 320.6,784.5 321.7,787.4 322.8,788.6 323.9,792.0 325.0,792.8 326.1,784.2 327.2,792.5 328.3,783.8 329.4,786.8 330.5,789.7 331.6,787.4 332.7,786.8 333.8,788.8 334.9,784.4 336.0,783.8 337.1,786.2 338.2,792.6 339.3,786.8 340.4,797.6 341.5,788.5 342.6,777.2 343.7,785.2 344.8,796.6 345.9,787.7 347.0,785.5 348.1,783.3 349.2,795.4 350.3,793.8 351.4,792.1 352.5,791.0 353.6,796.7 354.7,793.5 355.8,782.6 356.9,793.6 358.0,790.5 359.1,789.1 360.2,794.0 361.3,790.0 362.4,779.8 363.5,798.7 364.6,796.0 365.7,789.8 366.8,788.4 367.9,791.7 369.0,783.6 370.1,792.0 371.2,789.1 372.3,788.4 373.4,785.2 374.5,786.5 375.6,796.0 376.7,797.1 377.8,792.7 378.9,789.6 380.0,785.0 381.1,793.5 382.2,798.1 383.3,780.5 384.4,795.4 385.5,778.7 386.6,786.9 387.7,790.7 388.8,781.2 389.9,780.3 391.0,789.5 392.1,793.0 393.2,785.8 394.3,795.4 395.4,783.8 396.5,797.5 397.6,788.5 398.7,789.1 399.8,791.1 400.9,789.5 402.0,797.7 403.1,798.0 404.2,790.7 405.3,786.9 406.4,781.4 407.5,783.7 408.6,787.9 409.7,787.2 410.8,787.6 411.9,787.9 413.0,790.5 414.1,780.4 415.2,782.4 416.3,794.0 417.4,792.5 418.5,785.2 419.6,795.1 420.7,784.5 421.8,786.9 422.9,778.5 424.0,793.1 425.1,788.6 426.2,794.4 427.3,792.6 428.4,789.4 429.5,789.8 430.6,795.4 431.7,788.1 432.8,788.3 433.9,789.6 435.0,793.4 436.1,794.0 437.2,799.2 438.3,788.6 439.4,795.8 440.5,785.3 441.6,792.0 442.7,789.3 443.8,797.9 444.9,791.7 446.0,785.9 447.1,791.2 448.2,790.0 449.3,786.3 450.4,786.2 451.5,782.6 452.6,797.5 453.7,788.1 454.8,792.5 455.9,780.8 457.0,781.1 458.1,786.1 459.2,786.0 460.3,791.1 461.4,781.2 462.5,789.6 463.6,794.9 464.7,781.7 465.8,791.7 466.9,781.9 468.0,789.2 469.1,789.3 470.2,796.8 471.3,783.7 472.4,788.4 473.5,793.3 474.6,781.4 475.7,787.8 476.8,783.3 477.9,784.3 479.0,791.8 480.1,792.0 481.2,798.4 482.3,795.8 483.4,795.3 484.5,787.5 485.6,786.8 486.7,789.1 487.8,777.8 488.9,797.4 490.0,784.8 491.1,782.7 492.2,785.7 493.3,792.9 494.4,794.9 495.5,786.0 496.6,790.3 497.7,787.6 498.8,782.4 499.9,788.8 501.0,787.9 502.1,779.5 503.2,793.5 504.3,779.1 505.4,788.8 506.5,781.9 507.6,783.1 508.7,783.8 509.8,791.6 510.9,781.2 512.0,787.0 513.1,796.5 514.2,784.4 515.3,788.1 516.4,791.8 517.5,785.2 518.6,790.9 519.7,784.8 520.8,792.1 521.9,788.6 523.0,783.3 524.1,796.0 525.2,787.8 526.3,786.9 527.4,783.3 528.5,785.8 529.6,787.7 530.7,789.1 531.8,794.1 532.9,780.9 534.0,786.0 535.1,794.3 536.2,788.8 537.3,790.0 538.4,796.3 539.5,789.4 540.6,790.1 541.7,787.3 542.8,797.0 543.9,793.1 545.0,783.5 546.1,790.4 547.2,781.2 548.3,793.3 549.4,791.2 550.5,786.7 551.6,785.5 552.7,778.0 553.8,791.8 554.9,787.4 556.0,786.4 557.1,792.2 558.2,784.9 559.3,785.5 560.4,785.0 561.5,781.6 562.6,799.0 563.7,787.7 564.8,786.9 565.9,793.7 567.0,778.8 568.1,789.0 569.2,789.2 570.3,783.8 571.4,791.5 572.5,778.8 573.6,788.9 574.7,793.6 575.8,778.5 576.9,780.7 578.0,787.5 579.1,788.2 580.2,784.5 581.3,789.7 582.4,788.8 583.5,780.1 584.6,786.6 585.7,780.0 586.8,777.2 587.9,777.2 589.0,792.2 590.1,785.8 591.2,797.0 592.3,778.4 593.4,784.3 594.5,788.0 595.6,785.4 596.7,788.8 597.8,787.0 598.9,783.1 600.0,777.2 601.1,781.5 602.2,795.9 603.3,790.8 604.4,794.2 605.5,783.7 606.6,785.9 607.7,782.4 608.8,789.2 609.9,787.5 611.0,789.6 612.1,796.7 613.2,782.7 614.3,791.3 615.4,779.7 616.5,793.4 617.6,784.9 618.7,786.9 619.8,788.0 620.9,796.0 622.0,786.9 623.1,784.4 624.2,780.6 625.3,788.3 626.4,782.0 627.5,783.8 628.6,786.1 629.7,789.8 630.8,782.2 631.9,789.6 633.0,795.4 634.1,777.7 635.2,793.2 636.3,796.8 637.4,782.6 638.5,788.9 639.6,778.1 640.7,787.5 641.8,783.8 642.9,787.1 644.0,780.6 645.1,781.3 646.2,783.5 647.3,782.1 648.4,782.6 649.5,785.0 650.6,780.4 651.7,785.6 652.8,789.0 653.9,776.9 655.0,787.6 656.1,782.8 657.2,780.8 658.3,779.7 659.4,782.5 660.5,783.2 661.6,789.0 662.7,780.4 663.8,792.8 664.9,782.7 666.0,790.8 667.1,792.9 668.2,780.3 669.3,792.6 670.4,797.6 671.5,784.1 672.6,789.3 673.7,785.2 674.8,786.3 675.9,784.7 677.0,782.9 678.1,789.3 679.2,790.0 680.3,785.1 681.4,793.1 682.5,790.8 683.6,788.4 684.7,780.5 685.8,794.4 686.9,791.3 688.0,774.0 689.1,778.0 690.2,781.3 691.3,788.9 692.4,790.8 693.5,782.7 694.6,785.6 695.7,788.2 696.8,777.8 697.9,788.1 699.0,783.1 700.1,785.9 701.2,784.2 702.3,777.7 703.4,778.2 704.5,783.2 705.6,783.3 706.7,780.6 707.8,787.4 708.9,779.2 710.0,774.0 711.1,778.0 712.2,778.4 713.3,778.0 714.4,784.3 715.5,780.8 716.6,784.5 717.7,782.9 718.8,779.4 719.9,786.7 721.0,780.4 722.1,783.8 723.2,777.7 724.3,784.5 725.4,782.9 726.5,787.5 727.6,796.1 728.7,797.2 729.8,793.2 730.9,787.6 732.0,792.4 733.1,789.4 734.2,785.0 735.3,788.1 736.4,787.2 737.5,785.5 738.6,796.4 739.7,786.3 740.8,786.6 741.9,793.2 743.0,785.8 744.1,783.4 745.2,785.1 746.3,792.3 747.4,791.7 748.5,791.2 749.6,787.1 750.7,784.5 751.8,794.2 752.9,781.5 754.0,788.1 755.1,781.9 756.2,786.7 757.3,787.9 758.4,795.2 759.5,778.0 760.6,795.5 761.7,783.2 762.8,789.3 763.9,792.0 765.0,783.4 766.1,786.9 767.2,789.9 768.3,786.5 769.4,783.1 770.5,788.0 771.6,787.5 772.7,778.6 773.8,793.9 774.9,787.9 776.0,776.3 777.1,782.4 778.2,796.1 779.3,795.5 780.4,788.6 781.5,778.0 782.6,786.0 783.7,793.3 784.8,789.9 785.9,786.3 787.0,784.3 788.1,792.8 789.2,787.5 790.3,790.6 791.4,791.7 792.5,798.0 793.6,790.3 794.7,790.9 795.8,780.0 796.9,796.0 798.0,794.9 799.1,790.3 800.2,780.1 801.3,787.6 802.4,791.4 803.5,801.1 804.6,794.4 805.7,795.7 806.8,796.0 807.9,798.9 809.0,785.6 810.1,787.2 811.2,785.3 812.3,790.3 813.4,789.9 814.5,792.4 815.6,786.4 816.7,792.4 817.8,787.2 818.9,802.0 820.0,788.9 821.1,801.9 822.2,800.5 823.3,785.1 824.4,796.6 825.5,794.8 826.6,783.2 827.7,794.8 828.8,790.8 829.9,793.0 831.0,786.4 832.1,790.7 833.2,793.1 834.3,789.9 835.4,787.5 836.5,789.8 837.6,785.3 838.7,792.4 839.8,780.1 840.9,798.5 842.0,790.9 843.1,793.1 844.2,795.2 845.3,783.9 846.4,800.8 847.5,784.7 848.6,793.3 849.7,792.5 850.8,798.3 851.9,792.1 853.0,785.3 854.1,795.5 855.2,784.2 856.3,794.2 857.4,793.7 858.5,805.4 859.6,796.3 860.7,795.9 861.8,794.3 862.9,794.0 864.0,795.7 865.1,802.2 866.2,791.8 867.3,797.9 868.4,791.0 869.5,798.1 870.6,799.5 871.7,791.1 872.8,793.8 873.9,796.7 875.0,799.4 876.1,799.5 877.2,792.9 878.3,787.2 879.4,782.8 880.5,795.3 881.6,798.4 882.7,792.8 883.8,799.0 884.9,787.9 886.0,788.0 887.1,798.5 888.2,784.3 889.3,792.9 890.4,791.6 891.5,790.1 892.6,798.4 893.7,784.1 894.8,786.4 895.9,778.3 897.0,782.7 898.1,785.6 899.2,786.2 900.3,787.1 901.4,789.8 902.5,784.7 903.6,778.2 904.7,789.3 905.8,790.6 906.9,782.1 908.0,784.1 909.1,798.1 910.2,794.0 911.3,794.4 912.4,792.2 913.5,789.4 914.6,786.0 915.7,792.0 916.8,787.8 917.9,786.7 919.0,789.1 920.1,788.9 921.2,794.2 922.3,784.3 923.4,799.6 924.5,783.9 925.6,787.2 926.7,794.7 927.8,785.0 928.9,787.0 930.0,789.7 931.1,779.4 932.2,786.7 933.3,784.3 934.4,788.1 935.5,792.2 936.6,792.9 937.7,797.7 938.8,797.3 939.9,795.0 941.0,789.1 942.1,794.9 943.2,783.8 944.3,788.6 945.4,796.8 946.5,793.3 947.6,781.5 948.7,785.9 949.8,794.1 950.9,792.4 952.0,795.0 953.1,779.4 954.2,782.2 955.3,787.7 956.4,783.7 957.5,788.8 958.6,789.1 959.7,791.0 960.8,788.4 961.9,792.1 963.0,793.2 964.1,790.0 965.2,782.4 966.3,796.1 967.4,790.2 968.5,791.3 969.6,789.8 970.7,780.1 971.8,792.0 972.9,785.2 974.0,782.0 975.1,795.7 976.2,787.0 977.3,790.2 978.4,793.4 979.5,797.3 980.6,778.6 981.7,784.3 982.8,791.8 983.9,784.4 985.0,777.6 986.1,788.7 987.2,789.1 988.3,792.3 989.4,789.3 990.5,785.6 991.6,789.2 992.7,788.0 993.8,785.4 994.9,789.6 996.0,790.3 997.1,783.0 998.2,794.4 999.3,793.6 1000.4,793.5 1001.5,779.0 1002.6,790.3 1003.7,789.1 1004.8,784.7 1005.9,793.4 1007.0,782.4 1008.1,797.5 1009.2,793.2 1010.3,788.6 1011.4,799.5 1012.5,794.5 1013.6,794.1 1014.7,785.4 1015.8,795.7 1016.9,800.6 1018.0,799.1 1019.1,786.1 1020.2,800.7 1021.3,802.0 1022.4,797.9 1023.5,791.2 1024.6,785.1 1025.7,788.1 1026.8,789.7 1027.9,794.2 1029.0,795.5 1030.1,788.2 1031.2,783.2 1032.3,789.6 1033.4,784.3 1034.5,798.4 1035.6,784.2 1036.7,793.3 1037.8,794.9 1038.9,784.7 1040.0,795.4 1041.1,788.8 1042.2,785.0 1043.3,783.8 1044.4,789.6 1045.5,794.6 1046.6,778.6 1047.7,791.9 1048.8,787.7 1049.9,784.3 1051.0,787.8 1052.1,788.3 1053.2,787.9 1054.3,792.8 1055.4,783.7 1056.5,799.2 1057.6,793.7 1058.7,785.7 1059.8,779.2 1060.9,789.2 1062.0,787.4 1063.1,793.9 1064.2,794.0 1065.3,800.6 1066.4,789.6 1067.5,794.7 1068.6,788.3 1069.7,788.7 1070.8,799.2 1071.9,790.1 1073.0,790.2 1074.1,788.9 1075.2,792.7 1076.3,794.1 1077.4,790.1 1078.5,784.5 1079.6,792.6 1080.7,786.2 1081.8,788.8 1082.9,791.8 1084.0,792.0 1085.1,780.2 1086.2,799.8 1087.3,794.8 1088.4,800.8 1089.5,800.7 1090.6,784.4 1091.7,784.6 1092.8,787.3 1093.9,789.2 1095.0,779.5 1096.1,778.9 1097.2,784.9 1098.3,772.4 1099.4,778.0 1100.5,784.5 1101.6,778.9 1102.7,786.3 1103.8,783.2 1104.9,776.9 1106.0,784.3 1107.1,787.9 1108.2,788.5 1109.3,790.3 1110.4,792.3 1111.5,791.6 1112.6,790.8 1113.7,787.3 1114.8,788.2 1115.9,787.1 1117.0,785.7 1118.1,796.1 1119.2,778.8 1120.3,789.6 1121.4,779.2 1122.5,784.6 1123.6,792.0 1124.7,785.8 1125.8,794.8 1126.9,782.0 1128.0,785.3 1129.1,783.2 1130.2,786.6 1131.3,784.7 1132.4,784.2 1133.5,786.6 1134.6,792.0 1135.7,786.7 1136.8,786.1 1137.9,784.1 1139.0,781.9 1140.1,777.9 1141.2,780.1 1142.3,786.1 1143.4,776.9 1144.5,789.7 1145.6,784.1 1146.7,781.3 1147.8,783.6 1148.9,790.3 1150.0,788.8 1151.1,788.4 1152.2,796.9 1153.3,799.0 1154.4,780.9 1155.5,792.9 1156.6,784.2 1157.7,781.1 1158.8,786.0 1159.9,794.6 1161.0,787.6 1162.1,786.9 1163.2,797.3 1164.3,792.5 1165.4,789.6 1166.5,799.9 1167.6,792.9 1168.7,786.2 1169.8,784.5 1170.9,788.0 1172.0,791.1 1173.1,795.3 1174.2,794.7 1175.3,790.6 1176.4,783.6 1177.5,794.9 1178.6,790.2 1179.7,783.6 1180.8,782.6 1181.9,790.3 1183.0,790.9 1184.1,793.1 1185.2,781.9 1186.3,798.8 1187.4,778.4 1188.5,787.9 1189.6,795.2 1190.7,793.5 1191.8,782.6 1192.9,791.1 1194.0,794.5 1195.1,791.8 1196.2,782.4 1197.3,796.8 1198.4,779.0 1199.5,788.1 1200.6,782.2 1201.7,785.7 1202.8,786.3 1203.9,790.9 1205.0,781.5 1206.1,789.8 1207.2,795.8 1208.3,789.2 1209.4,791.8 1210.5,791.2 1211.6,784.7 1212.7,787.0 1213.8,789.3 1214.9,791.8 1216.0,799.6 1217.1,798.0 1218.2,786.6 1219.3,786.7 1220.4,783.5 1221.5,779.0 1222.6,796.0 1223.7,791.5 1224.8,778.8 1225.9,788.6 1227.0,798.8 1228.1,790.7 1229.2,790.6 1230.3,788.8 1231.4,783.4 1232.5,781.1 1233.6,782.8 1234.7,788.1 1235.8,785.7 1236.9,790.8 1238.0,796.6 1239.1,790.1 1240.2,791.4 1241.3,785.0 1242.4,779.8 1243.5,797.3 1244.6,790.7 1245.7,793.2 1246.8,784.7 1247.9,777.4 1249.0,793.9 1250.1,776.7 1251.2,785.9 1252.3,783.8 1253.4,788.0 1254.5,791.2 1255.6,791.3 1256.7,776.8 1257.8,792.3 1258.9,776.7 1260.0,790.5 1261.1,784.4 1262.2,780.9 1263.3,785.6 1264.4,782.5 1265.5,791.0 1266.6,797.4 1267.7,797.9 1268.8,795.0 1269.9,800.0 1271.0,795.4 1272.1,801.8 1273.2,793.1 1274.3,785.9 1275.4,786.5 1276.5,783.4 1277.6,786.1 1278.7,787.1 1279.8,791.8 1280.9,792.5 1282.0,788.7 1283.1,790.9 1284.2,784.6 1285.3,785.7 1286.4,778.8 1287.5,785.0 1288.6,786.7 1289.7,800.2 1290.8,782.6 1291.9,790.7 1293.0,788.7 1294.1,782.2 1295.2,792.5 1296.3,791.3 1297.4,783.4 1298.5,781.6 1299.6,791.7 1300.7,784.2 1301.8,795.9 1302.9,790.9 1304.0,795.4 1305.1,790.8 1306.2,801.0 1307.3,796.4 1308.4,801.1 1309.5,793.3 1310.6,786.9 1311.7,784.8 1312.8,789.7 1313.9,794.0 1315.0,788.8 1316.1,802.4 1317.2,791.5 1318.3,794.3 1319.4,792.0 1320.5,784.5 1321.6,797.1 1322.7,794.8 1323.8,795.9 1324.9,785.8 1326.0,790.8 1327.1,790.1 1328.2,796.4 1329.3,782.1 1330.4,793.1 1331.5,796.2 1332.6,786.8 1333.7,784.6 1334.8,796.3 1335.9,790.3 1337.0,795.0 1338.1,792.9 1339.2,794.7 1340.3,787.7 1341.4,778.0 1342.5,791.8 1343.6,784.7 1344.7,791.8 1345.8,785.5 1346.9,797.5 1348.0,787.2 1349.1,793.0 1350.2,794.8 1351.3,788.3 1352.4,790.7 1353.5,788.8 1354.6,783.8 1355.7,797.1 1356.8,784.0 1357.9,780.4 1359.0,786.4 1360.1,790.1 1361.2,789.7 1362.3,787.5 1363.4,787.1 1364.5,779.0 1365.6,792.9 1366.7,799.1 1367.8,785.4 1368.9,779.5 1370.0,793.5 1371.1,788.3 1372.2,778.7 1373.3,784.9 1374.4,781.0 1375.5,782.4 1376.6,798.8 1377.7,794.0 1378.8,787.5 1379.9,788.2 1381.0,796.9 1382.1,781.8 1383.2,791.9 1384.3,784.0 1385.4,792.1 1386.5,788.4 1387.6,782.8 1388.7,792.7 1389.8,789.7 1390.9,796.5 1392.0,784.2 1393.1,787.1 1394.2,782.5 1395.3,793.0 1396.4,782.1 1397.5,786.0 1398.6,793.4 1399.7,789.1 1400.8,787.7 1401.9,787.5 1403.0,788.2 1404.1,789.9 1405.2,784.8 1406.3,776.0 1407.4,794.0 1408.5,780.9 1409.6,797.0 1410.7,788.6 1411.8,797.2 1412.9,793.9 1414.0,789.6 1415.1,792.5 1416.2,779.6 1417.3,788.4 1418.4,785.6 1419.5,787.8 1420.6,777.2 1421.7,777.3 1422.8,791.8 1423.9,788.1 1425.0,785.3 1426.1,787.3 1427.2,784.2 1428.3,785.1 1429.4,791.6 1430.5,786.6 1431.6,791.8 1432.7,784.0 1433.8,778.0 1434.9,784.4 1436.0,787.4 1437.1,782.1 1438.2,786.4 1439.3,785.9 1440.4,794.1 1441.5,793.8 1442.6,795.3 1443.7,785.0 1444.8,791.3 1445.9,796.8 1447.0,790.8 1448.1,789.6 1449.2,785.9 1450.3,795.0 1451.4,791.6 1452.5,796.3 1453.6,790.1 1454.7,801.6 1455.8,792.8 1456.9,788.3 1458.0,798.7 1459.1,802.5 1460.2,808.4 1461.3,796.4 1462.4,794.0 1463.5,793.3 1464.6,790.4 1465.7,781.6 1466.8,795.8 1467.9,798.8 1469.0,787.5 1470.1,786.2 1471.2,790.8 1472.3,787.0 1473.4,796.0 1474.5,788.0 1475.6,794.7 1476.7,784.2 1477.8,783.3 1478.9,782.5 1480.0,783.2 1481.1,793.5 1482.2,795.7 1483.3,791.8 1484.4,792.1 1485.5,780.6 1486.6,797.1 1487.7,783.9 1488.8,798.0 1489.9,800.9 1491.0,791.0 1492.1,794.0 1493.2,793.9 1494.3,783.0 1495.4,784.0 1496.5,786.4 1497.6,791.1 1498.7,794.9 1499.8,790.6 1500.9,795.9 1502.0,786.7 1503.1,781.5 1504.2,789.5 1505.3,788.8 1506.4,781.0 1507.5,794.4 1508.6,783.1 1509.7,784.2 1510.8,789.4 1511.9,781.8 1513.0,791.1 1514.1,789.5 1515.2,789.7 1516.3,787.0 1517.4,784.2 1518.5,782.4 1519.6,788.1 1520.7,793.9 1521.8,790.5 1522.9,788.1 1524.0,791.6 1525.1,793.4 1526.2,779.0 1527.3,785.9 1528.4,792.9 1529.5,782.6 1530.6,783.8 1531.7,789.8 1532.8,785.3 1533.9,793.4 1535.0,785.1 1536.1,790.4 1537.2,797.5 1538.3,794.1 1539.4,780.5 1540.5,782.6 1541.6,783.1 1542.7,788.7 1543.8,781.4 1544.9,792.6 1546.0,799.5 1547.1,798.9 1548.2,786.2 1549.3,789.1 1550.4,789.4 1551.5,786.7 1552.6,801.0 1553.7,788.0 1554.8,785.9 1555.9,794.2 1557.0,794.1 1558.1,800.7 1559.2,800.9 1560.3,791.4 1561.4,782.0 1562.5,796.1 1563.6,797.0 1564.7,802.3 1565.8,783.7 1566.9,786.0 1568.0,801.0 1569.1,801.3 1570.2,799.3 1571.3,792.0 1572.4,799.2 1573.5,789.0 1574.6,785.1 1575.7,791.5 1576.8,792.4 1577.9,796.2 1579.0,797.8 1580.1,782.0 1581.2,793.2 1582.3,794.4 1583.4,784.8 1584.5,790.3 1585.6,792.1 1586.7,794.3 1587.8,787.2 1588.9,788.6 1590.0,785.8 1591.1,793.7 1592.2,790.1 1593.3,788.7 1594.4,795.4 1595.5,791.0 1596.6,785.5 1597.7,798.4 1598.8,797.5 1599.9,794.5 1601.0,786.3 1602.1,798.0 1603.2,788.6 1604.3,781.6 1605.4,790.9 1606.5,801.4 1607.6,789.0 1608.7,794.4 1609.8,798.7 1610.9,792.0 1612.0,789.2 1613.1,790.8 1614.2,793.9 1615.3,787.7 1616.4,792.1 1617.5,793.0 1618.6,787.8 1619.7,793.5 1620.8,792.5 1621.9,787.7 1623.0,788.3 1624.1,789.8 1625.2,788.3 1626.3,787.9 1627.4,783.4 1628.5,789.5 1629.6,793.0 1630.7,792.4 1631.8,784.3 1632.9,791.7 1634.0,792.0 1635.1,783.8 1636.2,791.7 1637.3,788.0 1638.4,786.9 1639.5,790.2 1640.6,787.8 1641.7,778.9 1642.8,790.3 1643.9,783.1 1645.0,788.6 1646.1,792.8 1647.2,787.8 1648.3,786.6 1649.4,789.7 1650.5,791.6 1651.6,784.3 1652.7,785.3 1653.8,791.3 1654.9,797.2 1656.0,788.5 1657.1,793.1 1658.2,784.3 1659.3,788.1 1660.4,788.3 1661.5,780.8 1662.6,787.5 1663.7,786.4 1664.8,777.3 1665.9,786.7 1667.0,788.5 1668.1,788.0 1669.2,788.3 1670.3,780.7 1671.4,782.5 1672.5,785.4 1673.6,781.6 1674.7,783.6 1675.8,792.7 1676.9,781.3 1678.0,784.3 1679.1,796.1 1680.2,785.5 1681.3,781.0 1682.4,787.9 1683.5,787.5 1684.6,787.5 1685.7,778.1 1686.8,788.8 1687.9,789.4 1689.0,798.0 1690.1,791.3 1691.2,785.5 1692.3,789.8 1693.4,791.9 1694.5,787.9 1695.6,788.6 1696.7,796.3 1697.8,791.9 1698.9,792.3 1700.0,784.4 1701.1,792.2 1702.2,780.0 1703.3,796.9 1704.4,788.0 1705.5,793.9 1706.6,798.2 1707.7,785.1 1708.8,797.2 1709.9,792.3 1711.0,797.4 1712.1,789.4 1713.2,787.7 1714.3,798.3 1715.4,793.7 1716.5,791.7 1717.6,785.3 1718.7,798.4 1719.8,789.6 1720.9,790.2 1722.0,787.7 1723.1,791.3 1724.2,794.3 1725.3,790.8 1726.4,790.6 1727.5,788.1 1728.6,799.0 1729.7,799.4 1730.8,789.1 1731.9,785.8 1733.0,791.8 1734.1,781.7 1735.2,791.5 1736.3,791.6 1737.4,791.0 1738.5,798.4 1739.6,799.4 1740.7,792.0 1741.8,787.6 1742.9,794.8 1744.0,795.2 1745.1,782.7 1746.2,785.1 1747.3,787.5 1748.4,779.9 1749.5,782.7 1750.6,797.1 1751.7,781.6 1752.8,792.6 1753.9,783.9 1755.0,793.4 1756.1,789.6 1757.2,792.5 1758.3,780.4 1759.4,789.3 1760.5,784.6 1761.6,791.5 1762.7,791.3 1763.8,788.4 1764.9,786.8 1766.0,787.3 1767.1,788.7 1768.2,784.7 1769.3,785.2 1770.4,784.3 1771.5,782.3 1772.6,793.6 1773.7,781.3 1774.8,795.4 1775.9,792.5 1777.0,780.0 1778.1,779.5 1779.2,789.6 1780.3,784.0 1781.4,790.6 1782.5,795.4 1783.6,792.6 1784.7,789.9 1785.8,790.4 1786.9,799.5 1788.0,790.0 1789.1,801.4 1790.2,802.4 1791.3,790.7 1792.4,794.6 1793.5,802.4 1794.6,789.6 1795.7,795.9 1796.8,799.4 1797.9,788.5 1799.0,796.0 1800.1,794.6 1801.2,791.0 1802.3,802.0 1803.4,793.0 1804.5,803.4 1805.6,797.3 1806.7,789.7 1807.8,794.6 1808.9,788.9 1810.0,797.1 1811.1,796.1 1812.2,786.0 1813.3,789.9 1814.4,794.3 1815.5,791.8 1816.6,785.9 1817.7,796.5 1818.8,797.6 1819.9,782.2 1821.0,797.6 1822.1,778.6 1823.2,788.2 1824.3,785.0 1825.4,785.3 1826.5,788.8 1827.6,781.4 1828.7,786.7 1829.8,795.9 1830.9,789.2 1832.0,794.5 1833.1,791.0 1834.2,777.8 1835.3,795.6 1836.4,790.5 1837.5,789.4 1838.6,783.9 1839.7,783.1 1840.8,780.4 1841.9,785.3 1843.0,786.8 1844.1,785.5 1845.2,785.8 1846.3,776.4 1847.4,783.0 1848.5,783.2 1849.6,789.1 1850.7,785.3 1851.8,785.5 1852.9,788.8 1854.0,786.0 1855.1,787.4 1856.2,794.9 1857.3,788.7 1858.4,785.0 1859.5,793.1 1859.5,794.4"/>
<polyline fill="none" stroke="#ff0000" stroke-width="9.0" stroke-linejoin="miter" stroke-miterlimit="1.5" stroke-linecap="butt" points="160.0,989.4 161.1,985.9 162.2,993.2 163.3,997.7 164.4,1002.6 165.5,995.7 166.6,991.2 167.7,989.7 168.8,1000.2 169.9,1006.3 171.0,996.9 172.1,986.5 173.2,988.4 174.3,1005.6 175.4,996.1 176.5,982.9 177.6,994.2 178.7,986.8 179.8,990.6 180.9,991.4 182.0,989.8 183.1,998.3 184.2,994.0 185.3,990.5 186.4,997.3 187.5,1000.1 188.6,983.4 189.7,993.0 190.8,988.1 191.9,993.7 193.0,986.2 194.1,995.1 195.2,994.9 196.3,993.2 197.4,988.1 198.5,992.8 199.6,988.2 200.7,986.5 201.8,997.4 202.9,988.6 204.0,1004.2 205.1,1001.4 206.2,983.8 207.3,998.7 208.4,989.5 209.5,997.4 210.6,997.7 211.7,984.7 212.8,996.2 213.9,996.2 215.0,1004.8 216.1,990.3 217.2,1003.5 218.3,991.1 219.4,996.5 220.5,993.3 221.6,1009.0 222.7,1003.2 223.8,1012.5 224.9,1004.1 226.0,1005.8 227.1,1005.8 228.2,996.2 229.3,999.9 230.4,1009.7 231.5,998.1 232.6,1002.1 233.7,1000.6 234.8,1005.1 235.9,998.7 237.0,1000.2 238.1,1003.1 239.2,1002.2 240.3,995.6 241.4,1007.5 242.5,992.5 243.6,993.1 244.7,992.5 245.8,1007.8 246.9,998.7 248.0,994.6 249.1,993.3 250.2,1003.9 251.3,993.8 252.4,992.2 253.5,1004.9 254.6,992.5 255.7,998.3 256.8,1000.2 257.9,997.1 259.0,999.6 260.1,1009.0 261.2,996.3 262.3,991.2 263.4,987.3 264.5,998.3 265.6,997.3 266.7,1001.4 267.8,996.6 268.9,996.4 270.0,994.7 271.1,995.9 272.2,1000.5 273.3,997.0 274.4,1000.1 275.5,1012.4 276.6,1002.6 277.7,988.7 278.8,1011.2 279.9,1001.8 281.0,993.0 282.1,1005.6 283.2,999.6 284.3,995.1 285.4,995.0 286.5,992.6 287.6,999.7 288.7,1006.7 289.8,997.0 290.9,1002.0 292.0,1011.8 293.1,990.8 294.2,1000.7 295.3,996.9 296.4,991.8 297.5,992.0 298.6,998.8 299.7,1001.7 300.8,995.0 301.9,998.9 303.0,1003.4 304.1,1000.4 305.2,1004.4 306.3,1001.5 307.4,1001.8 308.5,1010.7 309.6,1002.5 310.7,999.2 311.8,1003.1 312.9,991.8 314.0,995.7 315.1,1003.4 316.2,1002.0 317.3,1008.1 318.4,997.5 319.5,987.4 320.6,1010.2 321.7,1004.6 322.8,989.9 323.9,1006.3 325.0,997.1 326.1,984.4 327.2,993.7 328.3,993.0 329.4,1007.4 330.5,991.2 331.6,994.9 332.7,994.6 333.8,994.0 334.9,990.4 336.0,998.1 337.1,1003.9 338.2,1000.8 339.3,990.3 340.4,988.8 341.5,997.5 342.6,991.9 343.7,992.7 344.8,985.9 345.9,1010.3 347.0,1003.7 348.1,991.1 349.2,1004.1 350.3,1007.1 351.4,985.2 352.5,994.5 353.6,995.7 354.7,1003.0 355.8,997.9 356.9,997.2 358.0,998.5 359.1,1011.5 360.2,1012.0 361.3,995.4 362.4,992.8 363.5,1012.0 364.6,992.4 365.7,995.3 366.8,999.5 367.9,1002.5 369.0,1006.4 370.1,1002.1 371.2,993.5 372.3,1002.9 373.4,1001.1 374.5,1011.9 375.6,999.0 376.7,989.9 377.8,991.9 378.9,1008.9 380.0,995.3 381.1,986.1 382.2,995.0 383.3,998.7 384.4,1006.8 385.5,991.8 386.6,1003.2 387.7,1003.9 388.8,993.7 389.9,997.2 391.0,1010.5 392.1,1010.1 393.2,1004.2 394.3,1000.5 395.4,1005.9 396.5,997.0 397.6,997.1 398.7,991.6 399.8,997.3 400.9,996.5 402.0,1009.7 403.1,995.3 404.2,1005.2 405.3,1005.4 406.4,995.1 407.5,1004.2 408.6,983.0 409.7,996.5 410.8,1001.5 411.9,982.6 413.0,987.6 414.1,1002.5 415.2,993.6 416.3,987.9 417.4,992.6 418.5,991.4 419.6,999.9 420.7,998.0 421.8,993.1 422.9,990.4 424.0,994.7 425.1,1004.3 426.2,997.8 427.3,1000.0 428.4,995.0 429.5,987.5 430.6,991.7 431.7,1001.1 432.8,997.7 433.9,991.2 435.0,986.5 436.1,998.4 437.2,995.5 438.3,995.8 439.4,996.0 440.5,1000.3 441.6,1000.7 442.7,1005.5 443.8,1005.4 444.9,1008.2 446.0,1004.8 447.1,997.0 448.2,999.0 449.3,1002.7 450.4,997.4 451.5,1003.3 452.6,1007.4 453.7,993.9 454.8,987.3 455.9,1007.4 457.0,999.0 458.1,1003.6 459.2,989.5 460.3,1010.2 461.4,1003.2 462.5,997.2 463.6,995.5 464.7,998.4 465.8,996.4 466.9,995.4 468.0,989.6 469.1,1005.9 470.2,997.0 471.3,997.8 472.4,997.9 473.5,984.3 474.6,1000.9 475.7,995.0 476.8,995.3 477.9,997.7 479.0,990.6 480.1,1003.1 481.2,992.7 482.3,991.5 483.4,991.8 484.5,998.8 485.6,1003.0 486.7,993.9 487.8,987.8 488.9,1005.4 490.0,991.1 491.1,1006.5 492.2,997.8 493.3,993.5 494.4,994.0 495.5,1001.3 496.6,1004.1 497.7,996.6 498.8,1004.2 499.9,1010.6 501.0,996.2 502.1,989.7 503.2,990.1 504.3,987.5 505.4,992.3 506.5,991.5 507.6,987.3 508.7,999.7 509.8,982.9 510.9,986.8 512.0,1008.5 513.1,1002.3 514.2,998.5 515.3,998.0 516.4,1006.6 517.5,998.1 518.6,994.8 519.7,985.8 520.8,993.5 521.9,988.8 523.0,988.9 524.1,988.8 525.2,993.3 526.3,991.3 527.4,999.5 528.5,984.6 529.6,992.4 530.7,1006.3 531.8,993.8 532.9,1001.7 534.0,1001.2 535.1,1002.4 536.2,998.5 537.3,984.1 538.4,991.7 539.5,990.9 540.6,983.0 541.7,990.5 542.8,985.2 543.9,982.3 545.0,995.2 546.1,993.5 547.2,989.1 548.3,987.3 549.4,990.1 550.5,991.3 551.6,991.2 552.7,993.6 553.8,990.9 554.9,996.5 556.0,997.6 557.1,996.6 558.2,989.8 559.3,990.3 560.4,997.7 561.5,993.4 562.6,994.6 563.7,982.1 564.8,982.0 565.9,997.3 567.0,997.5 568.1,1004.9 569.2,1000.3 570.3,997.1 571.4,995.9 572.5,986.2 573.6,1002.0 574.7,992.1 575.8,999.8 576.9,997.8 578.0,998.3 579.1,1002.7 580.2,993.3 581.3,994.1 582.4,991.0 583.5,994.5 584.6,1008.4 585.7,994.7 586.8,1005.3 587.9,1002.8 589.0,1002.2 590.1,1002.8 591.2,990.5 592.3,1000.0 593.4,1008.3 594.5,992.7 595.6,997.0 596.7,992.8 597.8,999.6 598.9,990.1 600.0,1008.5 601.1,995.0 602.2,987.0 603.3,1009.8 604.4,1004.1 605.5,1001.1 606.6,1001.3 607.7,995.2 608.8,996.1 609.9,1002.6 611.0,1003.9 612.1,1003.9 613.2,999.1 614.3,994.5 615.4,996.5 616.5,1005.4 617.6,1007.8 618.7,995.8 619.8,994.9 620.9,1006.9 622.0,1003.4 623.1,1003.4 624.2,989.6 625.3,995.9 626.4,995.1 627.5,999.9 628.6,987.1 629.7,1007.4 630.8,1000.8 631.9,1001.8 633.0,990.8 634.1,998.8 635.2,1007.9 636.3,988.0 637.4,1000.6 638.5,1003.3 639.6,993.9 640.7,1004.0 641.8,996.3 642.9,1006.8 644.0,1001.8 645.1,999.6 646.2,1010.8 647.3,1003.5 648.4,1006.6 649.5,989.6 650.6,993.1 651.7,1003.0 652.8,1003.3 653.9,996.5 655.0,1002.0 656.1,989.3 657.2,997.7 658.3,988.3 659.4,998.4 660.5,992.7 661.6,991.8 662.7,996.4 663.8,1008.2 664.9,988.9 666.0,991.6 667.1,1003.0 668.2,992.8 669.3,1007.8 670.4,997.5 671.5,996.8 672.6,998.7 673.7,1008.2 674.8,1000.9 675.9,1000.2 677.0,998.4 678.1,986.4 679.2,991.1 680.3,1007.5 681.4,1003.2 682.5,1001.2 683.6,1002.3 684.7,994.5 685.8,1000.8 686.9,992.7 688.0,1001.8 689.1,994.6 690.2,998.3 691.3,1003.0 692.4,997.8 693.5,1004.6 694.6,1003.6 695.7,1003.1 696.8,1009.7 697.9,990.7 699.0,989.9 700.1,1005.1 701.2,1007.3 702.3,1013.7 703.4,1005.8 704.5,1006.2 705.6,994.5 706.7,1005.5 707.8,1004.8 708.9,992.8 710.0,993.7 711.1,998.7 712.2,1001.1 713.3,985.7 714.4,998.7 715.5,999.2 716.6,996.0 717.7,998.7 718.8,999.5 719.9,989.1 721.0,998.2 722.1,993.1 723.2,987.9 724.3,995.0 725.4,1003.2 726.5,982.8 727.6,981.0 728.7,980.7 729.8,1004.5 730.9,989.6 732.0,990.6 733.1,985.5 734.2,984.0 735.3,977.4 736.4,991.3 737.5,991.8 738.6,977.1 739.7,983.0 740.8,984.8 741.9,989.8 743.0,991.8 744.1,997.9 745.2,999.6 746.3,997.7 747.4,999.9 748.5,983.0 749.6,987.5 750.7,999.3 751.8,993.8 752.9,992.4 754.0,979.5 755.1,980.0 756.2,997.9 757.3,995.4 758.4,991.1 759.5,990.5 760.6,981.8 761.7,996.2 762.8,1000.9 763.9,1005.0 765.0,994.4 766.1,992.6 767.2,986.6 768.3,1002.4 769.4,1005.7 770.5,990.1 771.6,996.2 772.7,995.0 773.8,990.5 774.9,981.5 776.0,992.0 777.1,998.7 778.2,984.9 779.3,989.0 780.4,981.9 781.5,1003.7 782.6,998.5 783.7,995.5 784.8,993.6 785.9,991.3 787.0,995.3 788.1,994.0 789.2,994.7 790.3,996.3 791.4,997.5 792.5,1007.3 793.6,987.2 794.7,999.1 795.8,993.2 796.9,990.0 798.0,985.0 799.1,1002.2 800.2,991.5 801.3,993.0 802.4,1001.3 803.5,990.8 804.6,998.4 805.7,997.7 806.8,1003.4 807.9,1004.9 809.0,992.1 810.1,1004.1 811.2,997.3 812.3,998.7 813.4,996.3 814.5,1002.8 815.6,989.0 816.7,998.9 817.8,1005.0 818.9,994.9 820.0,1009.6 821.1,991.5 822.2,998.0 823.3,993.2 824.4,992.1 825.5,988.6 826.6,992.4 827.7,995.6 828.8,990.4 829.9,1002.1 831.0,1006.4 832.1,985.8 833.2,1002.0 834.3,997.9 835.4,998.4 836.5,1009.9 837.6,1005.1 838.7,999.5 839.8,998.7 840.9,984.8 842.0,1003.2 843.1,993.0 844.2,999.6 845.3,999.4 846.4,1005.5 847.5,1011.9 848.6,1005.9 849.7,1008.0 850.8,997.8 851.9,1002.8 853.0,1005.0 854.1,990.2 855.2,1012.8 856.3,995.1 857.4,991.2 858.5,1011.0 859.6,1012.8 860.7,995.1 861.8,995.6 862.9,1012.6 864.0,1000.4 865.1,986.6 866.2,995.1 867.3,1012.0 868.4,1003.4 869.5,1003.8 870.6,1006.9 871.7,1003.1 872.8,995.9 873.9,987.2 875.0,1000.8 876.1,989.9 877.2,996.9 878.3,1009.2 879.4,1000.9 880.5,997.4 881.6,997.3 882.7,1001.6 883.8,1002.7 884.9,987.4 886.0,997.3 887.1,1007.5 888.2,1000.7 889.3,990.2 890.4,990.7 891.5,982.4 892.6,989.6 893.7,1005.8 894.8,994.2 895.9,988.7 897.0,990.5 898.1,993.4 899.2,993.3 900.3,991.7 901.4,988.9 902.5,998.3 903.6,1004.4 904.7,990.0 905.8,990.1 906.9,1001.8 908.0,983.8 909.1,989.9 910.2,991.2 911.3,995.0 912.4,992.0 913.5,987.8 914.6,996.0 915.7,985.8 916.8,982.2 917.9,981.2 919.0,999.2 920.1,982.5 921.2,997.6 922.3,999.2 923.4,1000.2 924.5,993.7 925.6,991.2 926.7,995.6 927.8,991.0 928.9,986.3 930.0,1003.7 931.1,989.0 932.2,1007.3 933.3,998.6 934.4,992.1 935.5,998.4 936.6,1003.8 937.7,985.9 938.8,988.9 939.9,988.2 941.0,996.6 942.1,998.1 943.2,995.6 944.3,990.4 945.4,991.7 946.5,1003.5 947.6,1003.1 948.7,996.6 949.8,986.6 950.9,1000.0 952.0,997.8 953.1,997.6 954.2,1007.6 955.3,1001.5 956.4,989.5 957.5,989.6 958.6,1005.6 959.7,997.7 960.8,1002.3 961.9,995.6 963.0,989.8 964.1,998.6 965.2,1007.4 966.3,999.1 967.4,989.3 968.5,994.9 969.6,993.6 970.7,998.3 971.8,1004.1 972.9,1009.6 974.0,998.7 975.1,994.2 976.2,997.7 977.3,997.4 978.4,994.4 979.5,997.5 980.6,997.5 981.7,989.6 982.8,1001.5 983.9,995.2 985.0,990.9 986.1,1001.0 987.2,994.2 988.3,1009.5 989.4,1000.9 990.5,998.3 991.6,992.8 992.7,995.2 993.8,1003.6 994.9,993.0 996.0,1002.9 997.1,984.2 998.2,998.9 999.3,1002.9 1000.4,999.5 1001.5,996.9 1002.6,1003.6 1003.7,990.7 1004.8,989.5 1005.9,996.6 1007.0,1003.7 1008.1,998.2 1009.2,993.4 1010.3,996.3 1011.4,997.0 1012.5,985.1 1013.6,979.8 1014.7,985.8 1015.8,982.2 1016.9,988.1 1018.0,983.5 1019.1,985.4 1020.2,994.0 1021.3,991.2 1022.4,990.1 1023.5,1001.2 1024.6,986.4 1025.7,986.8 1026.8,997.8 1027.9,981.6 1029.0,977.9 1030.1,997.8 1031.2,991.1 1032.3,993.1 1033.4,993.4 1034.5,995.3 1035.6,986.1 1036.7,989.1 1037.8,982.3 1038.9,991.0 1040.0,991.9 1041.1,987.6 1042.2,995.4 1043.3,1003.2 1044.4,983.5 1045.5,997.3 1046.6,998.4 1047.7,999.8 1048.8,987.6 1049.9,1001.6 1051.0,998.3 1052.1,993.3 1053.2,992.4 1054.3,996.6 1055.4,1001.7 1056.5,1001.7 1057.6,1008.0 1058.7,994.1 1059.8,1001.1 1060.9,994.3 1062.0,1002.9 1063.1,999.0 1064.2,994.5 1065.3,989.7 1066.4,993.8 1067.5,1000.9 1068.6,1009.5 1069.7,1005.1 1070.8,991.9 1071.9,996.9 1073.0,1000.7 1074.1,999.7 1075.2,1001.3 1076.3,1006.4 1077.4,1002.8 1078.5,996.9 1079.6,988.7 1080.7,999.7 1081.8,990.7 1082.9,1001.0 1084.0,1004.3 1085.1,993.2 1086.2,1001.3 1087.3,999.9 1088.4,1015.0 1089.5,1005.2 1090.6,989.2 1091.7,1005.0 1092.8,1005.0 1093.9,1000.8 1095.0,999.5 1096.1,1006.1 1097.2,1006.5 1098.3,1004.9 1099.4,994.9 1100.5,999.8 1101.6,990.7 1102.7,990.9 1103.8,996.9 1104.9,993.3 1106.0,997.6 1107.1,1013.6 1108.2,1003.3 1109.3,993.6 1110.4,987.1 1111.5,993.3 1112.6,988.9 1113.7,986.1 1114.8,1003.0 1115.9,994.7 1117.0,1000.7 1118.1,1011.1 1119.2,998.9 1120.3,997.7 1121.4,999.2 1122.5,994.9 1123.6,991.0 1124.7,995.0 1125.8,1004.1 1126.9,994.3 1128.0,986.6 1129.1,987.2 1130.2,988.5 1131.3,995.3 1132.4,998.3 1133.5,998.1 1134.6,1002.8 1135.7,993.3 1136.8,1000.4 1137.9,996.8 1139.0,999.2 1140.1,981.7 1141.2,1002.6 1142.3,983.7 1143.4,986.4 1144.5,999.2 1145.6,991.2 1146.7,1005.6 1147.8,994.6 1148.9,986.4 1150.0,994.3 1151.1,990.3 1152.2,1003.4 1153.3,1003.9 1154.4,997.7 1155.5,989.9 1156.6,993.2 1157.7,999.7 1158.8,987.2 1159.9,987.2 1161.0,998.5 1162.1,997.8 1163.2,991.2 1164.3,991.2 1165.4,980.2 1166.5,1001.2 1167.6,992.6 1168.7,983.7 1169.8,986.0 1170.9,987.6 1172.0,1005.6 1173.1,999.0 1174.2,985.4 1175.3,1007.2 1176.4,1003.7 1177.5,987.5 1178.6,981.9 1179.7,1001.8 1180.8,991.3 1181.9,994.9 1183.0,992.4 1184.1,1004.8 1185.2,1006.5 1186.3,1002.1 1187.4,995.7 1188.5,998.5 1189.6,1001.1 1190.7,986.1 1191.8,1005.4 1192.9,995.0 1194.0,999.0 1195.1,998.1 1196.2,1003.2 1197.3,1004.4 1198.4,1010.1 1199.5,994.8 1200.6,991.1 1201.7,998.2 1202.8,992.8 1203.9,1003.1 1205.0,991.9 1206.1,997.4 1207.2,1001.9 1208.3,1001.6 1209.4,995.2 1210.5,1002.5 1211.6,1000.8 1212.7,979.6 1213.8,992.6 1214.9,990.3 1216.0,986.1 1217.1,982.8 1218.2,986.5 1219.3,989.5 1220.4,989.3 1221.5,997.0 1222.6,994.9 1223.7,984.6 1224.8,984.0 1225.9,995.3 1227.0,985.3 1228.1,991.5 1229.2,994.0 1230.3,998.3 1231.4,995.3 1232.5,1001.9 1233.6,988.9 1234.7,997.0 1235.8,988.0 1236.9,994.1 1238.0,993.9 1239.1,987.2 1240.2,980.7 1241.3,1000.8 1242.4,997.2 1243.5,996.1 1244.6,991.0 1245.7,993.9 1246.8,999.8 1247.9,997.5 1249.0,1006.0 1250.1,999.4 1251.2,992.6 1252.3,1001.9 1253.4,993.1 1254.5,998.4 1255.6,984.3 1256.7,994.0 1257.8,999.9 1258.9,991.3 1260.0,995.4 1261.1,999.3 1262.2,995.3 1263.3,1006.7 1264.4,992.5 1265.5,992.8 1266.6,993.1 1267.7,981.2 1268.8,984.0 1269.9,998.1 1271.0,992.4 1272.1,1004.1 1273.2,994.0 1274.3,993.5 1275.4,1001.7 1276.5,996.5 1277.6,1005.4 1278.7,987.2 1279.8,997.3 1280.9,998.9 1282.0,998.1 1283.1,1002.2 1284.2,1001.4 1285.3,994.6 1286.4,990.5 1287.5,1001.1 1288.6,994.7 1289.7,1001.0 1290.8,1003.8 1291.9,996.1 1293.0,988.7 1294.1,993.3 1295.2,1000.9 1296.3,994.2 1297.4,1004.0 1298.5,996.5 1299.6,997.5 1300.7,992.8 1301.8,996.6 1302.9,1005.0 1304.0,995.7 1305.1,996.0 1306.2,993.5 1307.3,1004.4 1308.4,989.0 1309.5,995.1 1310.6,1005.8 1311.7,1009.5 1312.8,998.6 1313.9,1006.8 1315.0,987.0 1316.1,1005.7 1317.2,1002.7 1318.3,992.4 1319.4,988.7 1320.5,997.2 1321.6,1002.6 1322.7,1003.3 1323.8,1001.5 1324.9,1005.8 1326.0,1005.3 1327.1,990.9 1328.2,997.6 1329.3,996.6 1330.4,1006.9 1331.5,996.4 1332.6,1006.4 1333.7,999.9 1334.8,1011.6 1335.9,998.6 1337.0,998.7 1338.1,997.8 1339.2,999.4 1340.3,1011.0 1341.4,994.8 1342.5,992.4 1343.6,997.0 1344.7,1002.9 1345.8,991.5 1346.9,1003.7 1348.0,1003.4 1349.1,997.0 1350.2,996.5 1351.3,992.8 1352.4,996.4 1353.5,992.9 1354.6,1006.8 1355.7,1009.5 1356.8,996.5 1357.9,998.0 1359.0,985.4 1360.1,994.6 1361.2,1000.5 1362.3,1000.2 1363.4,999.2 1364.5,1004.2 1365.6,998.9 1366.7,995.5 1367.8,1008.9 1368.9,984.9 1370.0,989.9 1371.1,992.4 1372.2,992.3 1373.3,991.8 1374.4,995.5 1375.5,991.8 1376.6,996.0 1377.7,1000.1 1378.8,996.2 1379.9,996.6 1381.0,989.1 1382.1,987.3 1383.2,992.8 1384.3,1000.9 1385.4,996.9 1386.5,1001.6 1387.6,1000.8 1388.7,1001.5 1389.8,988.2 1390.9,1001.9 1392.0,998.6 1393.1,1006.2 1394.2,997.1 1395.3,995.4 1396.4,992.3 1397.5,994.2 1398.6,981.9 1399.7,991.6 1400.8,993.0 1401.9,1000.1 1403.0,989.3 1404.1,994.6 1405.2,1006.4 1406.3,990.5 1407.4,1000.0 1408.5,990.8 1409.6,993.9 1410.7,998.0 1411.8,1001.1 1412.9,992.0 1414.0,988.8 1415.1,1006.1 1416.2,997.2 1417.3,1001.4 1418.4,1002.5 1419.5,1001.7 1420.6,995.1 1421.7,996.2 1422.8,986.8 1423.9,998.8 1425.0,994.6 1426.1,997.8 1427.2,1010.7 1428.3,1003.0 1429.4,998.9 1430.5,989.5 1431.6,1003.6 1432.7,1008.9 1433.8,993.4 1434.9,1002.0 1436.0,995.9 1437.1,998.5 1438.2,997.1 1439.3,988.7 1440.4,996.0 1441.5,988.6 1442.6,1008.8 1443.7,1006.5 1444.8,999.8 1445.9,1001.3 1447.0,999.7 1448.1,1000.5 1449.2,1000.4 1450.3,997.1 1451.4,997.5 1452.5,989.5 1453.6,991.8 1454.7,994.2 1455.8,999.5 1456.9,995.3 1458.0,1010.5 1459.1,996.2 1460.2,995.0 1461.3,1000.2 1462.4,1003.8 1463.5,1009.2 1464.6,1003.1 1465.7,992.6 1466.8,995.1 1467.9,1003.0 1469.0,997.7 1470.1,1001.3 1471.2,995.5 1472.3,1006.6 1473.4,1005.5 1474.5,1003.4 1475.6,996.9 1476.7,985.1 1477.8,986.8 1478.9,998.0 1480.0,1000.2 1481.1,982.9 1482.2,992.6 1483.3,1003.4 1484.4,1002.0 1485.5,992.4 1486.6,1000.1 1487.7,996.0 1488.8,994.2 1489.9,1003.0 1491.0,1003.1 1492.1,992.0 1493.2,989.2 1494.3,986.7 1495.4,985.9 1496.5,1004.1 1497.6,1007.7 1498.7,996.7 1499.8,1002.4 1500.9,990.8 1502.0,994.9 1503.1,1001.4 1504.2,997.4 1505.3,995.1 1506.4,984.3 1507.5,985.8 1508.6,992.8 1509.7,991.9 1510.8,995.2 1511.9,991.6 1513.0,994.5 1514.1,996.5 1515.2,999.7 1516.3,997.1 1517.4,993.1 1518.5,995.3 1519.6,1003.4 1520.7,996.3 1521.8,991.4 1522.9,991.3 1524.0,1000.1 1525.1,1002.0 1526.2,1006.5 1527.3,996.5 1528.4,1007.9 1529.5,996.6 1530.6,997.6 1531.7,995.6 1532.8,1003.0 1533.9,1006.6 1535.0,999.6 1536.1,996.7 1537.2,990.0 1538.3,1001.3 1539.4,997.9 1540.5,998.9 1541.6,996.1 1542.7,994.5 1543.8,997.5 1544.9,1003.3 1546.0,1006.7 1547.1,1000.3 1548.2,1002.4 1549.3,998.9 1550.4,999.2 1551.5,991.1 1552.6,1005.8 1553.7,1003.9 1554.8,1009.4 1555.9,995.6 1557.0,1000.5 1558.1,993.3 1559.2,1000.8 1560.3,998.0 1561.4,1003.0 1562.5,997.3 1563.6,1002.3 1564.7,994.5 1565.8,1001.4 1566.9,995.2 1568.0,994.0 1569.1,997.2 1570.2,998.7 1571.3,986.8 1572.4,985.8 1573.5,996.8 1574.6,995.1 1575.7,982.3 1576.8,983.9 1577.9,989.9 1579.0,997.0 1580.1,996.1 1581.2,1001.2 1582.3,1002.3 1583.4,1007.5 1584.5,985.2 1585.6,994.3 1586.7,1001.7 1587.8,986.5 1588.9,985.7 1590.0,996.4 1591.1,1002.5 1592.2,1003.6 1593.3,983.9 1594.4,987.8 1595.5,995.2 1596.6,992.5 1597.7,998.4 1598.8,997.3 1599.9,1008.2 1601.0,996.2 1602.1,998.1 1603.2,997.5 1604.3,1004.5 1605.4,989.8 1606.5,999.8 1607.6,992.1 1608.7,987.9 1609.8,1005.2 1610.9,1000.9 1612.0,1006.7 1613.1,999.3 1614.2,1002.0 1615.3,998.6 1616.4,1001.7 1617.5,995.2 1618.6,1009.3 1619.7,992.2 1620.8,1009.3 1621.9,996.7 1623.0,1003.8 1624.1,999.0 1625.2,1001.1 1626.3,1008.1 1627.4,999.1 1628.5,991.8 1629.6,999.7 1630.7,1002.5 1631.8,985.0 1632.9,1004.8 1634.0,1005.6 1635.1,986.6 1636.2,997.3 1637.3,1003.7 1638.4,990.6 1639.5,995.5 1640.6,996.0 1641.7,1001.9 1642.8,1005.5 1643.9,997.8 1645.0,998.3 1646.1,1004.1 1647.2,1001.4 1648.3,996.9 1649.4,1006.4 1650.5,987.9 1651.6,998.2 1652.7,994.3 1653.8,993.6 1654.9,998.3 1656.0,997.0 1657.1,1009.2 1658.2,1000.8 1659.3,998.8 1660.4,1007.3 1661.5,1002.9 1662.6,983.5 1663.7,996.6 1664.8,1000.5 1665.9,991.5 1667.0,997.4 1668.1,992.2 1669.2,997.5 1670.3,983.9 1671.4,981.6 1672.5,990.9 1673.6,996.0 1674.7,1003.5 1675.8,992.7 1676.9,989.5 1678.0,1000.6 1679.1,994.5 1680.2,1006.3 1681.3,993.8 1682.4,981.5 1683.5,989.3 1684.6,988.3 1685.7,985.4 1686.8,989.8 1687.9,990.5 1689.0,993.5 1690.1,991.9 1691.2,998.5 1692.3,998.8 1693.4,997.5 1694.5,998.0 1695.6,984.4 1696.7,986.1 1697.8,991.7 1698.9,999.7 1700.0,988.4 1701.1,995.6 1702.2,1000.5 1703.3,1011.9 1704.4,1001.2 1705.5,996.0 1706.6,1007.1 1707.7,1001.4 1708.8,998.2 1709.9,1007.8 1711.0,994.3 1712.1,1001.7 1713.2,1000.9 1714.3,1006.5 1715.4,992.8 1716.5,991.6 1717.6,997.6 1718.7,998.2 1719.8,1000.0 1720.9,997.1 1722.0,1002.3 1723.1,1003.8 1724.2,1000.3 1725.3,991.4 1726.4,1006.0 1727.5,987.6 1728.6,996.2 1729.7,1003.2 1730.8,992.8 1731.9,1005.3 1733.0,1009.3 1734.1,1006.7 1735.2,998.6 1736.3,1002.0 1737.4,991.7 1738.5,997.8 1739.6,998.1 1740.7,995.5 1741.8,995.8 1742.9,993.2 1744.0,981.9 1745.1,997.5 1746.2,996.9 1747.3,1008.0 1748.4,999.9 1749.5,995.7 1750.6,1001.4 1751.7,1000.0 1752.8,995.9 1753.9,993.7 1755.0,986.6 1756.1,997.7 1757.2,1008.0 1758.3,984.7 1759.4,991.2 1760.5,1003.0 1761.6,999.3 1762.7,1001.1 1763.8,985.9 1764.9,994.7 1766.0,1002.4 1767.1,1003.0 1768.2,1001.1 1769.3,993.2 1770.4,1003.0 1771.5,991.1 1772.6,992.7 1773.7,991.2 1774.8,1008.7 1775.9,996.2 1777.0,999.1 1778.1,985.8 1779.2,1005.8 1780.3,1001.3 1781.4,986.8 1782.5,987.0 1783.6,1009.0 1784.7,991.1 1785.8,1009.9 1786.9,994.0 1788.0,984.3 1789.1,1004.6 1790.2,1000.5 1791.3,1001.6 1792.4,993.4 1793.5,995.3 1794.6,1003.3 1795.7,991.4 1796.8,984.1 1797.9,1003.1 1799.0,992.8 1800.1,1005.8 1801.2,993.9 1802.3,994.2 1803.4,995.3 1804.5,984.2 1805.6,1005.1 1806.7,993.0 1807.8,996.0 1808.9,1007.5 1810.0,998.5 1811.1,1003.8 1812.2,1000.0 1813.3,1002.9 1814.4,999.5 1815.5,1005.5 1816.6,996.2 1817.7,1000.5 1818.8,992.5 1819.9,1005.2 1821.0,984.2 1822.1,998.2 1823.2,999.3 1824.3,999.1 1825.4,996.6 1826.5,1005.6 1827.6,1009.4 1828.7,992.1 1829.8,982.9 1830.9,988.3 1832.0,990.0 1833.1,994.4 1834.2,994.8 1835.3,1002.3 1836.4,992.1 1837.5,994.6 1838.6,995.5 1839.7,988.7 1840.8,992.5 1841.9,1007.5 1843.0,993.8 1844.1,987.8 1845.2,981.5 1846.3,1001.3 1847.4,992.0 1848.5,989.9 1849.6,1007.2 1850.7,1004.1 1851.8,982.7 1852.9,991.9 1854.0,1001.2 1855.1,1000.2 1856.2,987.2 1857.3,1007.0 1858.4,1007.7 1859.5,987.6 1859.5,983.2"/>
<polyline fill="none" stroke="#0000ff" stroke-width="9.0" stroke-linejoin="miter" stroke-miterlimit="1.5" stroke-linecap="butt" points="160.0,1123.0 161.1,1126.5 162.2,1107.9 163.3,1116.4 164.4,1122.0 165.5,1123.4 166.6,1119.8 167.7,1123.8 168.8,1117.6 169.9,1118.7 171.0,1116.6 172.1,1110.0 173.2,1110.9 174.3,1117.0 175.4,1112.0 176.5,1121.2 177.6,1121.2 178.7,1123.7 179.8,1114.4 180.9,1121.5 182.0,1110.0 183.1,1110.3 184.2,1114.6 185.3,1115.7 186.4,1106.4 187.5,1105.9 188.6,1116.3 189.7,1110.2 190.8,1120.5 191.9,1116.6 193.0,1116.1 194.1,1115.7 195.2,1119.2 196.3,1114.0 197.4,1120.2 198.5,1112.2 199.6,1113.7 200.7,1111.4 201.8,1117.9 202.9,1115.1 204.0,1110.5 205.1,1124.2 206.2,1112.8 207.3,1114.1 208.4,1116.6 209.5,1123.2 210.6,1113.5 211.7,1117.8 212.8,1114.7 213.9,1106.9 215.0,1118.0 216.1,1119.1 217.2,1112.8 218.3,1113.8 219.4,1106.3 220.5,1106.2 221.6,1111.7 222.7,1116.7 223.8,1111.1 224.9,1115.0 226.0,1118.4 227.1,1113.9 228.2,1116.3 229.3,1120.7 230.4,1107.3 231.5,1117.2 232.6,1104.1 233.7,1115.8 234.8,1114.6 235.9,1111.0 237.0,1108.5 238.1,1113.7 239.2,1111.9 240.3,1114.3 241.4,1109.3 242.5,1116.6 243.6,1108.8 244.7,1112.5 245.8,1112.1 246.9,1120.3 248.0,1106.5 249.1,1111.8 250.2,1119.7 251.3,1110.4 252.4,1107.4 253.5,1115.0 254.6,1112.0 255.7,1117.5 256.8,1108.4 257.9,1113.8 259.0,1116.0 260.1,1117.8 261.2,1106.9 262.3,1119.2 263.4,1107.3 264.5,1104.1 265.6,1106.6 266.7,1112.0 267.8,1109.5 268.9,1113.1 270.0,1113.3 271.1,1112.2 272.2,1109.2 273.3,1119.4 274.4,1100.6 275.5,1101.5 276.6,1107.5 277.7,1103.8 278.8,1100.5 279.9,1105.9 281.0,1106.2 282.1,1100.4 283.2,1114.3 284.3,1116.5 285.4,1116.4 286.5,1107.7 287.6,1111.1 288.7,1104.9 289.8,1111.6 290.9,1107.3 292.0,1112.8 293.1,1109.2 294.2,1116.2 295.3,1115.3 296.4,1117.5 297.5,1103.4 298.6,1102.4 299.7,1113.6 300.8,1108.9 301.9,1113.9 303.0,1113.6 304.1,1113.2 305.2,1117.0 306.3,1115.4 307.4,1115.1 308.5,1108.3 309.6,1121.5 310.7,1113.8 311.8,1118.8 312.9,1114.9 314.0,1119.6 315.1,1114.2 316.2,1114.5 317.3,1114.3 318.4,1110.2 319.5,1111.1 320.6,1113.3 321.7,1113.5 322.8,1109.4 323.9,1123.9 325.0,1109.6 326.1,1113.1 327.2,1124.3 328.3,1111.7 329.4,1118.9 330.5,1118.5 331.6,1114.2 332.7,1108.2 333.8,1107.7 334.9,1115.6 336.0,1117.8 337.1,1106.3 338.2,1116.7 339.3,1112.8 340.4,1120.8 341.5,1117.4 342.6,1112.6 343.7,1114.7 344.8,1117.2 345.9,1124.0 347.0,1126.9 348.1,1119.4 349.2,1118.3 350.3,1121.4 351.4,1118.2 352.5,1121.8 353.6,1120.8 354.7,1119.0 355.8,1115.1 356.9,1120.1 358.0,1123.9 359.1,1119.8 360.2,1127.1 361.3,1124.2 362.4,1118.8 363.5,1128.4 364.6,1114.0 365.7,1125.5 366.8,1128.6 367.9,1118.2 369.0,1119.0 370.1,1124.2 371.2,1126.5 372.3,1121.4 373.4,1120.1 374.5,1123.3 375.6,1119.6 376.7,1112.1 377.8,1117.0 378.9,1117.8 380.0,1110.2 381.1,1119.4 382.2,1113.4 383.3,1120.6 384.4,1109.2 385.5,1111.9 386.6,1109.1 387.7,1122.5 388.8,1122.3 389.9,1123.2 391.0,1123.1 392.1,1120.1 393.2,1119.8 394.3,1106.7 395.4,1116.6 396.5,1112.5 397.6,1113.3 398.7,1108.8 399.8,1121.3 400.9,1115.5 402.0,1107.4 403.1,1117.3 404.2,1114.3 405.3,1109.4 406.4,1113.0 407.5,1110.5 408.6,1104.5 409.7,1106.8 410.8,1116.8 411.9,1116.1 413.0,1115.7 414.1,1108.4 415.2,1111.4 416.3,1114.7 417.4,1117.9 418.5,1110.4 419.6,1109.4 420.7,1120.5 421.8,1115.2 422.9,1113.1 424.0,1111.4 425.1,1111.8 426.2,1123.0 427.3,1120.1 428.4,1113.2 429.5,1109.2 430.6,1123.8 431.7,1123.3 432.8,1121.4 433.9,1119.6 435.0,1105.9 436.1,1108.8 437.2,1118.1 438.3,1113.8 439.4,1116.4 440.5,1112.3 441.6,1111.6 442.7,1117.6 443.8,1112.5 444.9,1114.2 446.0,1115.4 447.1,1115.2 448.2,1119.6 449.3,1120.5 450.4,1106.6 451.5,1111.9 452.6,1109.8 453.7,1116.6 454.8,1107.2 455.9,1116.0 457.0,1115.6 458.1,1114.8 459.2,1106.9 460.3,1110.5 461.4,1105.9 462.5,1113.2 463.6,1115.7 464.7,1103.2 465.8,1106.5 466.9,1109.8 468.0,1108.0 469.1,1118.0 470.2,1109.8 471.3,1111.7 472.4,1104.8 473.5,1118.0 474.6,1111.1 475.7,1114.2 476.8,1110.8 477.9,1100.9 479.0,1102.4 480.1,1104.1 481.2,1112.8 482.3,1108.0 483.4,1112.8 484.5,1112.3 485.6,1112.2 486.7,1115.6 487.8,1112.1 488.9,1103.2 490.0,1108.2 491.1,1120.1 492.2,1106.7 493.3,1118.9 494.4,1120.5 495.5,1109.2 496.6,1114.0 497.7,1105.4 498.8,1116.5 499.9,1108.8 501.0,1106.2 502.1,1110.9 503.2,1110.6 504.3,1109.9 505.4,1113.6 506.5,1111.0 507.6,1107.8 508.7,1115.1 509.8,1119.2 510.9,1109.2 512.0,1104.6 513.1,1102.4 514.2,1109.5 515.3,1104.6 516.4,1105.2 517.5,1094.9 518.6,1098.0 519.7,1097.2 520.8,1108.4 521.9,1102.9 523.0,1095.3 524.1,1107.9 525.2,1111.8 526.3,1113.4 527.4,1098.2 528.5,1109.4 529.6,1113.4 530.7,1113.2 531.8,1109.9 532.9,1103.0 534.0,1110.7 535.1,1112.0 536.2,1117.2 537.3,1118.2 538.4,1114.5 539.5,1120.7 540.6,1111.9 541.7,1114.6 542.8,1118.5 543.9,1122.2 545.0,1118.3 546.1,1126.7 547.2,1123.3 548.3,1117.3 549.4,1123.3 550.5,1118.5 551.6,1117.7 552.7,1114.8 553.8,1128.5 554.9,1125.5 556.0,1112.5 557.1,1125.5 558.2,1124.2 559.3,1116.9 560.4,1120.8 561.5,1127.2 562.6,1118.6 563.7,1118.8 564.8,1121.6 565.9,1110.8 567.0,1109.6 568.1,1108.7 569.2,1115.3 570.3,1120.0 571.4,1111.1 572.5,1108.5 573.6,1116.4 574.7,1113.4 575.8,1118.3 576.9,1114.7 578.0,1114.3 579.1,1114.8 580.2,1115.2 581.3,1110.2 582.4,1109.3 583.5,1122.8 584.6,1124.0 585.7,1120.2 586.8,1106.4 587.9,1114.6 589.0,1120.4 590.1,1106.3 591.2,1111.9 592.3,1112.1 593.4,1109.4 594.5,1109.7 595.6,1118.8 596.7,1111.4 597.8,1112.4 598.9,1122.1 600.0,1109.2 601.1,1103.8 602.2,1116.5 603.3,1122.2 604.4,1114.0 605.5,1114.3 606.6,1106.2 607.7,1107.8 608.8,1119.7 609.9,1118.6 611.0,1115.2 612.1,1109.0 613.2,1106.1 614.3,1106.6 615.4,1106.0 616.5,1114.7 617.6,1107.6 618.7,1109.0 619.8,1114.8 620.9,1114.7 622.0,1111.6 623.1,1113.8 624.2,1111.5 625.3,1102.0 626.4,1111.2 627.5,1109.5 628.6,1109.9 629.7,1112.9 630.8,1109.0 631.9,1118.0 633.0,1111.1 634.1,1112.9 635.2,1113.7 636.3,1111.4 637.4,1115.5 638.5,1116.1 639.6,1115.7 640.7,1109.1 641.8,1108.2 642.9,1109.7 644.0,1112.7 645.1,1103.3 646.2,1108.5 647.3,1107.1 648.4,1109.3 649.5,1108.1 650.6,1116.8 651.7,1114.9 652.8,1117.5 653.9,1107.7 655.0,1108.6 656.1,1110.8 657.2,1120.6 658.3,1120.6 659.4,1109.0 660.5,1115.2 661.6,1121.6 662.7,1106.8 663.8,1110.9 664.9,1118.4 666.0,1115.4 667.1,1106.8 668.2,1119.4 669.3,1116.7 670.4,1115.2 671.5,1105.5 672.6,1110.9 673.7,1118.4 674.8,1114.3 675.9,1116.0 677.0,1110.7 678.1,1119.7 679.2,1111.0 680.3,1117.0 681.4,1114.2 682.5,1108.0 683.6,1120.5 684.7,1107.1 685.8,1109.9 686.9,1114.6 688.0,1107.0 689.1,1105.2 690.2,1113.8 691.3,1112.5 692.4,1113.4 693.5,1117.5 694.6,1124.5 695.7,1113.1 696.8,1124.8 697.9,1116.6 699.0,1114.9 700.1,1106.1 701.2,1108.0 702.3,1117.1 703.4,1118.5 704.5,1111.5 705.6,1117.2 706.7,1120.0 707.8,1112.7 708.9,1107.3 710.0,1110.4 711.1,1113.7 712.2,1116.5 713.3,1118.8 714.4,1110.1 715.5,1114.7 716.6,1113.0 717.7,1114.2 718.8,1119.3 719.9,1120.3 721.0,1111.3 722.1,1110.6 723.2,1109.9 724.3,1110.6 725.4,1111.2 726.5,1112.2 727.6,1110.3 728.7,1107.3 729.8,1106.8 730.9,1112.9 732.0,1122.1 733.1,1115.2 734.2,1115.6 735.3,1114.0 736.4,1111.4 737.5,1121.8 738.6,1110.4 739.7,1107.2 740.8,1105.9 741.9,1113.2 743.0,1107.4 744.1,1108.2 745.2,1108.3 746.3,1106.1 747.4,1113.6 748.5,1104.6 749.6,1122.8 750.7,1103.9 751.8,1106.4 752.9,1113.8 754.0,1115.8 755.1,1112.1 756.2,1115.3 757.3,1115.0 758.4,1114.9 759.5,1117.4 760.6,1115.8 761.7,1114.2 762.8,1114.2 763.9,1119.4 765.0,1114.1 766.1,1117.9 767.2,1123.0 768.3,1116.9 769.4,1121.0 770.5,1112.8 771.6,1116.2 772.7,1117.2 773.8,1115.6 774.9,1116.7 776.0,1121.1 777.1,1112.3 778.2,1110.4 779.3,1115.2 780.4,1106.0 781.5,1113.1 782.6,1118.8 783.7,1112.6 784.8,1115.0 785.9,1114.2 787.0,1118.0 788.1,1114.2 789.2,1112.6 790.3,1101.8 791.4,1108.6 792.5,1114.6 793.6,1110.2 794.7,1107.1 795.8,1115.3 796.9,1106.2 798.0,1109.0 799.1,1114.0 800.2,1108.0 801.3,1111.5 802.4,1110.5 803.5,1104.6 804.6,1108.0 805.7,1108.8 806.8,1107.6 807.9,1116.3 809.0,1110.9 810.1,1107.9 811.2,1104.2 812.3,1109.8 813.4,1118.1 814.5,1110.0 815.6,1115.2 816.7,1113.9 817.8,1109.2 818.9,1107.3 820.0,1114.8 821.1,1103.8 822.2,1115.2 823.3,1106.5 824.4,1116.9 825.5,1110.9 826.6,1112.5 827.7,1118.2 828.8,1108.0 829.9,1113.4 831.0,1111.6 832.1,1115.7 833.2,1116.8 834.3,1114.8 835.4,1114.3 836.5,1111.5 837.6,1116.6 838.7,1112.4 839.8,1114.2 840.9,1114.6 842.0,1107.0 843.1,1108.1 844.2,1114.9 845.3,1113.8 846.4,1120.2 847.5,1104.6 848.6,1115.0 849.7,1119.3 850.8,1114.4 851.9,1117.8 853.0,1114.2 854.1,1113.8 855.2,1118.7 856.3,1107.8 857.4,1104.9 858.5,1116.7 859.6,1115.1 860.7,1115.0 861.8,1115.9 862.9,1117.6 864.0,1112.4 865.1,1117.1 866.2,1116.2 867.3,1108.9 868.4,1113.9 869.5,1116.0 870.6,1110.7 871.7,1119.7 872.8,1112.8 873.9,1118.2 875.0,1121.3 876.1,1106.6 877.2,1107.2 878.3,1116.7 879.4,1112.6 880.5,1116.1 881.6,1122.0 882.7,1110.7 883.8,1117.2 884.9,1111.5 886.0,1109.4 887.1,1114.7 888.2,1113.4 889.3,1117.3 890.4,1113.2 891.5,1115.8 892.6,1113.9 893.7,1102.7 894.8,1109.1 895.9,1109.1 897.0,1115.1 898.1,1105.2 899.2,1111.1 900.3,1108.0 901.4,1101.1 902.5,1109.3 903.6,1113.2 904.7,1108.1 905.8,1114.5 906.9,1111.6 908.0,1111.1 909.1,1106.9 910.2,1108.5 911.3,1111.6 912.4,1109.3 913.5,1103.0 914.6,1108.4 915.7,1111.2 916.8,1114.8 917.9,1113.2 919.0,1104.2 920.1,1112.8 921.2,1101.3 922.3,1106.1 923.4,1105.4 924.5,1117.0 925.6,1112.8 926.7,1111.1 927.8,1106.6 928.9,1115.9 930.0,1108.4 931.1,1112.0 932.2,1115.2 933.3,1108.2 934.4,1112.5 935.5,1100.3 936.6,1112.9 937.7,1101.5 938.8,1112.0 939.9,1111.5 941.0,1112.5 942.1,1119.5 943.2,1100.6 944.3,1112.3 945.4,1107.9 946.5,1113.5 947.6,1111.3 948.7,1110.1 949.8,1107.1 950.9,1105.9 952.0,1111.1 953.1,1101.7 954.2,1114.5 955.3,1106.1 956.4,1111.1 957.5,1102.8 958.6,1110.9 959.7,1107.3 960.8,1112.3 961.9,1114.5 963.0,1105.6 964.1,1108.8 965.2,1109.4 966.3,1115.3 967.4,1101.5 968.5,1110.8 969.6,1107.9 970.7,1102.1 971.8,1106.6 972.9,1104.9 974.0,1113.7 975.1,1103.7 976.2,1113.8 977.3,1106.6 978.4,1112.4 979.5,1100.7 980.6,1105.6 981.7,1110.4 982.8,1105.1 983.9,1102.2 985.0,1110.3 986.1,1114.3 987.2,1110.6 988.3,1109.5 989.4,1113.0 990.5,1109.0 991.6,1116.0 992.7,1117.0 993.8,1105.2 994.9,1116.9 996.0,1115.2 997.1,1113.4 998.2,1115.6 999.3,1119.4 1000.4,1121.7 1001.5,1120.5 1002.6,1111.3 1003.7,1119.2 1004.8,1104.3 1005.9,1117.2 1007.0,1116.3 1008.1,1117.5 1009.2,1108.2 1010.3,1119.9 1011.4,1119.1 1012.5,1113.7 1013.6,1105.7 1014.7,1114.3 1015.8,1108.4 1016.9,1104.8 1018.0,1109.1 1019.1,1121.7 1020.2,1105.1 1021.3,1110.7 1022.4,1113.4 1023.5,1116.9 1024.6,1107.1 1025.7,1107.2 1026.8,1116.5 1027.9,1113.5 1029.0,1118.2 1030.1,1106.0 1031.2,1111.2 1032.3,1116.4 1033.4,1112.4 1034.5,1106.0 1035.6,1112.2 1036.7,1102.1 1037.8,1107.7 1038.9,1115.5 1040.0,1116.0 1041.1,1113.6 1042.2,1115.1 1043.3,1104.0 1044.4,1108.2 1045.5,1116.6 1046.6,1120.9 1047.7,1113.5 1048.8,1106.6 1049.9,1106.5 1051.0,1117.1 1052.1,1116.5 1053.2,1105.0 1054.3,1111.7 1055.4,1117.9 1056.5,1118.0 1057.6,1108.4 1058.7,1109.9 1059.8,1113.2 1060.9,1105.3 1062.0,1102.7 1063.1,1107.4 1064.2,1116.8 1065.3,1116.3 1066.4,1113.3 1067.5,1105.0 1068.6,1101.5 1069.7,1105.7 1070.8,1111.1 1071.9,1116.0 1073.0,1106.4 1074.1,1111.4 1075.2,1102.2 1076.3,1101.9 1077.4,1111.2 1078.5,1105.3 1079.6,1106.1 1080.7,1102.2 1081.8,1115.3 1082.9,1102.3 1084.0,1111.5 1085.1,1104.0 1086.2,1109.6 1087.3,1118.1 1088.4,1112.6 1089.5,1111.8 1090.6,1115.8 1091.7,1114.0 1092.8,1118.1 1093.9,1103.8 1095.0,1117.7 1096.1,1111.2 1097.2,1105.6 1098.3,1113.8 1099.4,1113.4 1100.5,1110.5 1101.6,1114.7 1102.7,1103.8 1103.8,1101.8 1104.9,1107.1 1106.0,1115.5 1107.1,1112.6 1108.2,1110.0 1109.3,1106.9 1110.4,1110.0 1111.5,1115.9 1112.6,1107.6 1113.7,1107.5 1114.8,1112.6 1115.9,1113.9 1117.0,1111.5 1118.1,1118.2 1119.2,1112.1 1120.3,1106.5 1121.4,1102.3 1122.5,1117.7 1123.6,1111.3 1124.7,1113.8 1125.8,1114.6 1126.9,1119.3 1128.0,1118.0 1129.1,1117.9 1130.2,1114.5 1131.3,1112.1 1132.4,1114.7 1133.5,1109.4 1134.6,1115.6 1135.7,1119.1 1136.8,1117.3 1137.9,1114.4 1139.0,1109.3 1140.1,1109.2 1141.2,1110.0 1142.3,1111.6 1143.4,1115.8 1144.5,1115.9 1145.6,1116.2 1146.7,1118.3 1147.8,1108.3 1148.9,1112.1 1150.0,1115.7 1151.1,1116.9 1152.2,1109.3 1153.3,1109.2 1154.4,1118.2 1155.5,1115.5 1156.6,1113.3 1157.7,1108.7 1158.8,1104.3 1159.9,1107.8 1161.0,1108.5 1162.1,1108.4 1163.2,1109.1 1164.3,1104.4 1165.4,1108.9 1166.5,1100.0 1167.6,1102.3 1168.7,1100.0 1169.8,1090.8 1170.9,1093.7 1172.0,1098.2 1173.1,1102.2 1174.2,1103.5 1175.3,1108.9 1176.4,1102.9 1177.5,1102.0 1178.6,1105.9 1179.7,1099.0 1180.8,1104.8 1181.9,1101.3 1183.0,1107.3 1184.1,1103.6 1185.2,1105.1 1186.3,1116.6 1187.4,1112.7 1188.5,1116.7 1189.6,1108.2 1190.7,1106.6 1191.8,1103.8 1192.9,1107.8 1194.0,1099.5 1195.1,1108.9 1196.2,1105.7 1197.3,1101.9 1198.4,1099.7 1199.5,1104.3 1200.6,1106.8 1201.7,1108.6 1202.8,1100.9 1203.9,1108.8 1205.0,1110.6 1206.1,1118.7 1207.2,1110.7 1208.3,1113.5 1209.4,1105.4 1210.5,1108.9 1211.6,1105.2 1212.7,1104.6 1213.8,1111.2 1214.9,1107.5 1216.0,1115.7 1217.1,1108.3 1218.2,1110.5 1219.3,1102.2 1220.4,1103.2 1221.5,1111.4 1222.6,1104.6 1223.7,1114.3 1224.8,1104.0 1225.9,1103.6 1227.0,1117.5 1228.1,1099.6 1229.2,1105.7 1230.3,1111.0 1231.4,1111.6 1232.5,1103.2 1233.6,1118.4 1234.7,1106.7 1235.8,1099.7 1236.9,1113.7 1238.0,1107.0 1239.1,1109.7 1240.2,1113.4 1241.3,1105.2 1242.4,1106.2 1243.5,1109.4 1244.6,1114.0 1245.7,1103.3 1246.8,1117.1 1247.9,1111.7 1249.0,1104.2 1250.1,1110.1 1251.2,1112.7 1252.3,1115.9 1253.4,1114.0 1254.5,1115.3 1255.6,1109.0 1256.7,1113.2 1257.8,1100.0 1258.9,1114.5 1260.0,1109.2 1261.1,1117.4 1262.2,1106.5 1263.3,1107.0 1264.4,1109.8 1265.5,1113.6 1266.6,1111.2 1267.7,1114.7 1268.8,1110.1 1269.9,1115.2 1271.0,1119.5 1272.1,1116.3 1273.2,1113.4 1274.3,1103.2 1275.4,1113.8 1276.5,1116.4 1277.6,1110.3 1278.7,1116.6 1279.8,1102.0 1280.9,1108.4 1282.0,1107.2 1283.1,1114.6 1284.2,1108.0 1285.3,1107.3 1286.4,1119.6 1287.5,1105.0 1288.6,1115.0 1289.7,1117.9 1290.8,1111.2 1291.9,1108.0 1293.0,1111.5 1294.1,1109.5 1295.2,1108.3 1296.3,1113.4 1297.4,1112.0 1298.5,1121.5 1299.6,1118.5 1300.7,1112.8 1301.8,1114.6 1302.9,1120.1 1304.0,1117.5 1305.1,1111.9 1306.2,1107.6 1307.3,1120.2 1308.4,1111.4 1309.5,1112.5 1310.6,1118.0 1311.7,1112.2 1312.8,1117.6 1313.9,1109.5 1315.0,1111.8 1316.1,1109.9 1317.2,1120.1 1318.3,1103.5 1319.4,1109.7 1320.5,1106.2 1321.6,1107.0 1322.7,1104.0 1323.8,1106.2 1324.9,1116.2 1326.0,1117.2 1327.1,1106.5 1328.2,1103.5 1329.3,1107.0 1330.4,1117.4 1331.5,1108.6 1332.6,1099.2 1333.7,1112.8 1334.8,1107.7 1335.9,1111.3 1337.0,1110.0 1338.1,1101.2 1339.2,1112.6 1340.3,1110.6 1341.4,1103.9 1342.5,1097.7 1343.6,1101.2 1344.7,1101.3 1345.8,1110.4 1346.9,1104.1 1348.0,1104.8 1349.1,1107.3 1350.2,1105.0 1351.3,1109.2 1352.4,1109.2 1353.5,1112.5 1354.6,1102.0 1355.7,1110.2 1356.8,1107.4 1357.9,1118.8 1359.0,1116.9 1360.1,1107.9 1361.2,1115.2 1362.3,1102.0 1363.4,1105.9 1364.5,1110.3 1365.6,1113.3 1366.7,1106.9 1367.8,1113.1 1368.9,1119.5 1370.0,1105.6 1371.1,1107.2 1372.2,1104.8 1373.3,1120.1 1374.4,1109.3 1375.5,1112.8 1376.6,1110.4 1377.7,1114.5 1378.8,1113.4 1379.9,1116.0 1381.0,1116.0 1382.1,1123.1 1383.2,1110.3 1384.3,1115.8 1385.4,1114.5 1386.5,1110.2 1387.6,1118.7 1388.7,1123.4 1389.8,1108.6 1390.9,1123.7 1392.0,1113.1 1393.1,1113.3 1394.2,1104.4 1395.3,1113.7 1396.4,1112.6 1397.5,1111.9 1398.6,1116.4 1399.7,1112.2 1400.8,1114.8 1401.9,1109.6 1403.0,1107.2 1404.1,1113.4 1405.2,1115.8 1406.3,1116.3 1407.4,1113.3 1408.5,1109.2 1409.6,1113.1 1410.7,1111.7 1411.8,1106.6 1412.9,1114.6 1414.0,1112.1 1415.1,1107.4 1416.2,1111.5 1417.3,1116.0 1418.4,1120.5 1419.5,1103.8 1420.6,1111.0 1421.7,1115.6 1422.8,1118.5 1423.9,1114.4 1425.0,1107.4 1426.1,1109.9 1427.2,1112.3 1428.3,1108.3 1429.4,1106.9 1430.5,1105.6 1431.6,1121.8 1432.7,1112.1 1433.8,1110.6 1434.9,1115.2 1436.0,1112.0 1437.1,1111.0 1438.2,1112.8 1439.3,1107.8 1440.4,1109.5 1441.5,1116.0 1442.6,1114.5 1443.7,1105.7 1444.8,1118.7 1445.9,1109.1 1447.0,1103.2 1448.1,1114.6 1449.2,1114.3 1450.3,1112.7 1451.4,1106.1 1452.5,1117.0 1453.6,1113.5 1454.7,1112.7 1455.8,1112.1 1456.9,1112.7 1458.0,1120.2 1459.1,1108.2 1460.2,1112.0 1461.3,1116.0 1462.4,1114.0 1463.5,1106.1 1464.6,1109.2 1465.7,1107.7 1466.8,1102.2 1467.9,1108.2 1469.0,1113.9 1470.1,1110.3 1471.2,1114.2 1472.3,1110.8 1473.4,1104.9 1474.5,1111.0 1475.6,1099.4 1476.7,1114.2 1477.8,1105.9 1478.9,1116.0 1480.0,1100.8 1481.1,1102.6 1482.2,1105.2 1483.3,1106.1 1484.4,1099.6 1485.5,1101.0 1486.6,1109.9 1487.7,1103.5 1488.8,1111.9 1489.9,1115.8 1491.0,1100.4 1492.1,1106.1 1493.2,1117.1 1494.3,1114.1 1495.4,1102.2 1496.5,1111.1 1497.6,1117.9 1498.7,1100.2 1499.8,1111.7 1500.9,1115.3 1502.0,1107.7 1503.1,1107.2 1504.2,1114.4 1505.3,1102.8 1506.4,1113.8 1507.5,1117.4 1508.6,1111.8 1509.7,1103.6 1510.8,1119.7 1511.9,1111.7 1513.0,1114.8 1514.1,1107.7 1515.2,1111.9 1516.3,1118.0 1517.4,1104.9 1518.5,1105.9 1519.6,1103.2 1520.7,1115.1 1521.8,1115.4 1522.9,1108.9 1524.0,1115.1 1525.1,1113.7 1526.2,1123.2 1527.3,1107.8 1528.4,1115.3 1529.5,1112.1 1530.6,1123.8 1531.7,1117.1 1532.8,1109.0 1533.9,1117.4 1535.0,1114.6 1536.1,1111.0 1537.2,1117.9 1538.3,1116.8 1539.4,1110.5 1540.5,1114.4 1541.6,1122.6 1542.7,1122.0 1543.8,1116.5 1544.9,1115.4 1546.0,1118.5 1547.1,1116.5 1548.2,1111.1 1549.3,1120.3 1550.4,1113.0 1551.5,1124.3 1552.6,1119.6 1553.7,1120.3 1554.8,1114.9 1555.9,1117.1 1557.0,1113.2 1558.1,1113.9 1559.2,1110.4 1560.3,1122.5 1561.4,1109.4 1562.5,1123.3 1563.6,1118.3 1564.7,1109.8 1565.8,1120.7 1566.9,1116.1 1568.0,1109.8 1569.1,1114.9 1570.2,1111.7 1571.3,1109.6 1572.4,1113.0 1573.5,1114.5 1574.6,1111.2 1575.7,1112.5 1576.8,1116.5 1577.9,1111.9 1579.0,1110.4 1580.1,1105.8 1581.2,1111.9 1582.3,1109.8 1583.4,1111.0 1584.5,1116.0 1585.6,1116.2 1586.7,1112.0 1587.8,1108.8 1588.9,1112.2 1590.0,1112.9 1591.1,1112.4 1592.2,1103.7 1593.3,1112.2 1594.4,1105.3 1595.5,1111.9 1596.6,1112.1 1597.7,1110.5 1598.8,1115.7 1599.9,1109.6 1601.0,1110.9 1602.1,1104.5 1603.2,1108.1 1604.3,1107.3 1605.4,1108.5 1606.5,1107.4 1607.6,1098.5 1608.7,1111.9 1609.8,1111.1 1610.9,1097.8 1612.0,1108.5 1613.1,1112.3 1614.2,1110.8 1615.3,1110.7 1616.4,1106.1 1617.5,1104.4 1618.6,1116.3 1619.7,1109.1 1620.8,1114.9 1621.9,1106.4 1623.0,1111.3 1624.1,1110.8 1625.2,1110.6 1626.3,1100.6 1627.4,1116.0 1628.5,1108.2 1629.6,1105.0 1630.7,1108.1 1631.8,1097.8 1632.9,1113.7 1634.0,1105.0 1635.1,1108.3 1636.2,1107.9 1637.3,1098.3 1638.4,1105.6 1639.5,1113.5 1640.6,1103.5 1641.7,1108.7 1642.8,1112.7 1643.9,1115.9 1645.0,1103.9 1646.1,1113.3 1647.2,1111.5 1648.3,1111.0 1649.4,1113.3 1650.5,1112.5 1651.6,1104.1 1652.7,1111.6 1653.8,1106.3 1654.9,1111.3 1656.0,1107.7 1657.1,1117.5 1658.2,1114.9 1659.3,1112.9 1660.4,1107.2 1661.5,1112.8 1662.6,1105.5 1663.7,1106.9 1664.8,1103.1 1665.9,1116.1 1667.0,1109.3 1668.1,1116.4 1669.2,1117.6 1670.3,1117.3 1671.4,1110.4 1672.5,1119.8 1673.6,1118.6 1674.7,1106.6 1675.8,1114.9 1676.9,1109.2 1678.0,1112.7 1679.1,1119.4 1680.2,1115.1 1681.3,1121.6 1682.4,1117.1 1683.5,1117.6 1684.6,1122.2 1685.7,1120.1 1686.8,1117.9 1687.9,1120.6 1689.0,1119.9 1690.1,1107.0 1691.2,1108.7 1692.3,1114.3 1693.4,1119.2 1694.5,1110.0 1695.6,1105.4 1696.7,1113.4 1697.8,1110.6 1698.9,1120.9 1700.0,1103.6 1701.1,1117.6 1702.2,1116.6 1703.3,1103.3 1704.4,1108.0 1705.5,1111.7 1706.6,1114.7 1707.7,1112.9 1708.8,1115.7 1709.9,1113.7 1711.0,1108.7 1712.1,1121.0 1713.2,1114.1 1714.3,1108.4 1715.4,1115.0 1716.5,1111.8 1717.6,1110.3 1718.7,1109.2 1719.8,1104.8 1720.9,1107.9 1722.0,1105.9 1723.1,1102.2 1724.2,1114.4 1725.3,1113.5 1726.4,1110.9 1727.5,1106.3 1728.6,1108.0 1729.7,1119.7 1730.8,1107.5 1731.9,1116.0 1733.0,1113.4 1734.1,1114.1 1735.2,1109.2 1736.3,1110.3 1737.4,1111.1 1738.5,1106.0 1739.6,1118.1 1740.7,1107.1 1741.8,1112.1 1742.9,1119.9 1744.0,1118.5 1745.1,1108.0 1746.2,1113.5 1747.3,1116.1 1748.4,1101.1 1749.5,1120.1 1750.6,1113.6 1751.7,1109.5 1752.8,1110.5 1753.9,1101.1 1755.0,1114.6 1756.1,1119.1 1757.2,1110.2 1758.3,1119.3 1759.4,1114.8 1760.5,1104.8 1761.6,1114.4 1762.7,1101.8 1763.8,1102.5 1764.9,1115.1 1766.0,1114.9 1767.1,1111.7 1768.2,1111.8 1769.3,1104.9 1770.4,1117.8 1771.5,1112.8 1772.6,1112.2 1773.7,1122.5 1774.8,1114.9 1775.9,1113.7 1777.0,1123.2 1778.1,1115.7 1779.2,1111.8 1780.3,1122.1 1781.4,1113.7 1782.5,1110.4 1783.6,1112.6 1784.7,1114.5 1785.8,1118.9 1786.9,1120.7 1788.0,1108.3 1789.1,1120.5 1790.2,1110.9 1791.3,1111.7 1792.4,1103.6 1793.5,1121.9 1794.6,1116.4 1795.7,1112.1 1796.8,1112.2 1797.9,1117.8 1799.0,1112.8 1800.1,1102.5 1801.2,1114.0 1802.3,1112.5 1803.4,1113.1 1804.5,1112.6 1805.6,1116.5 1806.7,1108.6 1807.8,1121.1 1808.9,1113.1 1810.0,1108.8 1811.1,1113.3 1812.2,1104.3 1813.3,1112.3 1814.4,1109.5 1815.5,1108.6 1816.6,1118.0 1817.7,1115.7 1818.8,1109.6 1819.9,1111.7 1821.0,1116.7 1822.1,1124.3 1823.2,1115.0 1824.3,1115.0 1825.4,1118.4 1826.5,1109.9 1827.6,1115.9 1828.7,1120.1 1829.8,1118.6 1830.9,1118.4 1832.0,1110.7 1833.1,1117.1 1834.2,1124.1 1835.3,1125.7 1836.4,1121.7 1837.5,1114.0 1838.6,1114.2 1839.7,1115.5 1840.8,1124.8 1841.9,1109.0 1843.0,1114.4 1844.1,1106.8 1845.2,1112.7 1846.3,1113.1 1847.4,1119.0 1848.5,1118.2 1849.6,1114.9 1850.7,1112.3 1851.8,1111.2 1852.9,1121.4 1854.0,1112.2 1855.1,1106.9 1856.2,1108.5 1857.3,1112.4 1858.4,1108.2 1859.5,1104.2 1859.5,1116.8"/>
<polyline fill="none" stroke="#ff00ff" stroke-width="9.0" stroke-linejoin="miter" stroke-miterlimit="1.5" stroke-linecap="butt" points="160.0,1233.0 161.1,1235.0 162.2,1231.1 163.3,1227.1 164.4,1229.9 165.5,1226.3 166.6,1233.3 167.7,1241.7 168.8,1229.6 169.9,1228.6 171.0,1235.8 172.1,1234.8 173.2,1233.0 174.3,1226.1 175.4,1231.8 176.5,1236.4 177.6,1222.8 178.7,1228.6 179.8,1218.9 180.9,1222.7 182.0,1218.9 183.1,1229.3 184.2,1222.3 185.3,1232.2 186.4,1231.2 187.5,1228.6 188.6,1217.1 189.7,1226.0 190.8,1229.0 191.9,1229.8 193.0,1218.8 194.1,1225.6 195.2,1222.2 196.3,1223.2 197.4,1235.6 198.5,1223.2 199.6,1228.1 200.7,1234.1 201.8,1224.3 202.9,1227.4 204.0,1228.7 205.1,1228.4 206.2,1219.9 207.3,1228.4 208.4,1237.0 209.5,1217.8 210.6,1233.7 211.7,1228.9 212.8,1224.1 213.9,1241.0 215.0,1233.7 216.1,1220.9 217.2,1229.4 218.3,1232.9 219.4,1228.1 220.5,1234.1 221.6,1229.3 222.7,1234.4 223.8,1239.7 224.9,1225.9 226.0,1231.9 227.1,1227.7 228.2,1231.7 229.3,1223.2 230.4,1227.3 231.5,1230.0 232.6,1237.3 233.7,1239.1 234.8,1222.9 235.9,1226.4 237.0,1236.2 238.1,1219.4 239.2,1229.0 240.3,1231.5 241.4,1240.5 242.5,1236.7 243.6,1229.9 244.7,1229.6 245.8,1230.2 246.9,1241.9 248.0,1228.9 249.1,1229.7 250.2,1233.8 251.3,1230.6 252.4,1230.1 253.5,1223.8 254.6,1230.9 255.7,1227.8 256.8,1238.2 257.9,1234.7 259.0,1230.1 260.1,1234.4 261.2,1227.5 262.3,1236.6 263.4,1229.4 264.5,1233.1 265.6,1220.6 266.7,1231.0 267.8,1217.4 268.9,1215.8 270.0,1226.2 271.1,1222.1 272.2,1228.9 273.3,1240.2 274.4,1221.8 275.5,1223.0 276.6,1228.2 277.7,1229.8 278.8,1225.3 279.9,1225.0 281.0,1230.8 282.1,1229.5 283.2,1219.2 284.3,1225.6 285.4,1226.2 286.5,1219.0 287.6,1227.8 288.7,1220.5 289.8,1232.6 290.9,1227.6 292.0,1227.2 293.1,1222.9 294.2,1226.2 295.3,1214.6 296.4,1220.0 297.5,1230.1 298.6,1215.5 299.7,1234.0 300.8,1217.2 301.9,1234.0 303.0,1223.7 304.1,1234.7 305.2,1230.8 306.3,1220.1 307.4,1238.7 308.5,1240.4 309.6,1230.7 310.7,1229.6 311.8,1230.4 312.9,1225.2 314.0,1239.0 315.1,1228.4 316.2,1231.6 317.3,1226.7 318.4,1227.9 319.5,1223.5 320.6,1240.2 321.7,1230.8 322.8,1238.0 323.9,1231.6 325.0,1226.8 326.1,1229.0 327.2,1227.3 328.3,1231.0 329.4,1228.5 330.5,1228.9 331.6,1221.8 332.7,1225.4 333.8,1241.6 334.9,1226.2 336.0,1223.5 337.1,1232.7 338.2,1239.7 339.3,1220.9 340.4,1229.2 341.5,1226.4 342.6,1219.1 343.7,1235.8 344.8,1230.9 345.9,1231.6 347.0,1226.4 348.1,1234.6 349.2,1228.2 350.3,1230.9 351.4,1224.9 352.5,1224.3 353.6,1241.2 354.7,1229.1 355.8,1234.6 356.9,1232.6 358.0,1229.9 359.1,1229.7 360.2,1237.3 361.3,1231.3 362.4,1232.3 363.5,1233.5 364.6,1241.2 365.7,1238.1 366.8,1236.1 367.9,1229.8 369.0,1224.4 370.1,1239.8 371.2,1239.7 372.3,1232.3 373.4,1236.8 374.5,1238.3 375.6,1238.5 376.7,1238.9 377.8,1229.6 378.9,1242.3 380.0,1224.0 381.1,1237.7 382.2,1235.0 383.3,1237.2 384.4,1243.5 385.5,1240.6 386.6,1223.1 387.7,1219.1 388.8,1235.6 389.9,1223.3 391.0,1229.6 392.1,1234.9 393.2,1218.3 394.3,1216.3 395.4,1230.4 396.5,1228.7 397.6,1226.6 398.7,1228.3 399.8,1222.3 400.9,1218.0 402.0,1226.8 403.1,1221.6 404.2,1217.4 405.3,1231.6 406.4,1228.0 407.5,1231.3 408.6,1222.3 409.7,1224.8 410.8,1222.8 411.9,1223.8 413.0,1231.2 414.1,1225.0 415.2,1232.9 416.3,1233.1 417.4,1243.7 418.5,1222.1 419.6,1237.4 420.7,1231.2 421.8,1232.0 422.9,1222.7 424.0,1229.4 425.1,1237.6 426.2,1232.2 427.3,1233.3 428.4,1230.8 429.5,1240.3 430.6,1232.6 431.7,1220.0 432.8,1227.9 433.9,1219.7 435.0,1219.7 436.1,1228.6 437.2,1240.7 438.3,1232.0 439.4,1223.7 440.5,1225.0 441.6,1238.6 442.7,1231.9 443.8,1231.2 444.9,1230.4 446.0,1231.0 447.1,1235.9 448.2,1234.3 449.3,1232.1 450.4,1223.9 451.5,1234.3 452.6,1226.5 453.7,1238.6 454.8,1223.1 455.9,1230.8 457.0,1232.0 458.1,1223.4 459.2,1244.0 460.3,1242.6 461.4,1230.2 462.5,1238.7 463.6,1236.3 464.7,1221.6 465.8,1236.2 466.9,1234.5 468.0,1235.6 469.1,1228.2 470.2,1233.9 471.3,1234.7 472.4,1244.0 473.5,1238.5 474.6,1236.4 475.7,1246.5 476.8,1232.8 477.9,1233.9 479.0,1224.3 480.1,1246.6 481.2,1242.6 482.3,1242.2 483.4,1240.4 484.5,1236.6 485.6,1237.2 486.7,1234.0 487.8,1234.1 488.9,1235.6 490.0,1245.0 491.1,1238.5 492.2,1234.4 493.3,1230.7 494.4,1230.2 495.5,1244.8 496.6,1237.5 497.7,1234.4 498.8,1231.5 499.9,1226.3 501.0,1233.1 502.1,1239.1 503.2,1230.7 504.3,1231.7 505.4,1231.6 506.5,1233.7 507.6,1222.4 508.7,1231.5 509.8,1227.3 510.9,1238.8 512.0,1228.1 513.1,1236.9 514.2,1243.2 515.3,1231.2 516.4,1229.4 517.5,1234.8 518.6,1233.5 519.7,1227.1 520.8,1236.7 521.9,1246.4 523.0,1232.2 524.1,1232.8 525.2,1227.3 526.3,1236.4 527.4,1226.3 528.5,1227.4 529.6,1243.3 530.7,1229.1 531.8,1242.2 532.9,1245.4 534.0,1237.1 535.1,1239.1 536.2,1248.0 537.3,1234.3 538.4,1231.5 539.5,1226.5 540.6,1235.7 541.7,1245.0 542.8,1241.5 543.9,1228.8 545.0,1229.3 546.1,1231.4 547.2,1236.5 548.3,1232.9 549.4,1235.4 550.5,1235.7 551.6,1231.5 552.7,1233.0 553.8,1234.3 554.9,1232.1 556.0,1235.7 557.1,1244.4 558.2,1235.7 559.3,1232.0 560.4,1220.3 561.5,1233.6 562.6,1218.2 563.7,1221.3 564.8,1236.2 565.9,1235.0 567.0,1229.2 568.1,1218.8 569.2,1227.6 570.3,1225.4 571.4,1234.0 572.5,1242.3 573.6,1231.0 574.7,1224.5 575.8,1221.8 576.9,1229.3 578.0,1228.4 579.1,1222.1 580.2,1230.4 581.3,1222.0 582.4,1236.9 583.5,1236.7 584.6,1237.0 585.7,1226.7 586.8,1233.2 587.9,1229.0 589.0,1227.3 590.1,1227.8 591.2,1221.6 592.3,1220.7 593.4,1235.5 594.5,1228.9 595.6,1231.7 596.7,1237.0 597.8,1219.3 598.9,1225.6 600.0,1232.0 601.1,1233.5 602.2,1228.7 603.3,1238.0 604.4,1232.6 605.5,1223.4 606.6,1225.3 607.7,1236.9 608.8,1234.8 609.9,1219.3 611.0,1240.8 612.1,1235.8 613.2,1240.7 614.3,1229.1 615.4,1229.8 616.5,1224.2 617.6,1244.0 618.7,1230.2 619.8,1241.7 620.9,1226.9 622.0,1232.1 623.1,1219.9 624.2,1228.3 625.3,1237.2 626.4,1222.2 627.5,1237.3 628.6,1232.2 629.7,1223.0 630.8,1226.5 631.9,1226.6 633.0,1229.2 634.1,1225.9 635.2,1223.9 636.3,1227.4 637.4,1222.4 638.5,1220.7 639.6,1229.1 640.7,1235.3 641.8,1219.3 642.9,1229.5 644.0,1225.2 645.1,1223.0 646.2,1235.3 647.3,1226.4 648.4,1239.9 649.5,1225.1 650.6,1232.9 651.7,1228.8 652.8,1225.4 653.9,1234.4 655.0,1229.6 656.1,1234.7 657.2,1230.4 658.3,1223.6 659.4,1230.2 660.5,1231.2 661.6,1237.3 662.7,1225.0 663.8,1230.7 664.9,1219.7 666.0,1235.4 667.1,1224.2 668.2,1219.4 669.3,1230.9 670.4,1238.7 671.5,1221.3 672.6,1224.3 673.7,1226.7 674.8,1224.2 675.9,1234.3 677.0,1226.5 678.1,1227.1 679.2,1235.7 680.3,1227.1 681.4,1235.0 682.5,1225.7 683.6,1224.1 684.7,1220.0 685.8,1244.3 686.9,1229.9 688.0,1233.7 689.1,1231.7 690.2,1233.0 691.3,1232.3 692.4,1244.4 693.5,1224.7 694.6,1221.3 695.7,1224.9 696.8,1222.6 697.9,1236.2 699.0,1236.7 700.1,1224.7 701.2,1221.9 702.3,1228.6 703.4,1239.9 704.5,1218.0 705.6,1234.2 706.7,1223.5 707.8,1237.4 708.9,1223.4 710.0,1228.6 711.1,1220.8 712.2,1224.3 713.3,1239.9 714.4,1236.3 715.5,1228.4 716.6,1225.4 717.7,1218.9 718.8,1229.0 719.9,1231.5 721.0,1231.3 722.1,1231.5 723.2,1224.9 724.3,1232.2 725.4,1232.5 726.5,1241.4 727.6,1245.4 728.7,1232.3 729.8,1228.2 730.9,1233.0 732.0,1229.5 733.1,1228.8 734.2,1233.4 735.3,1227.1 736.4,1238.0 737.5,1233.4 738.6,1235.6 739.7,1232.9 740.8,1229.3 741.9,1227.7 743.0,1232.5 744.1,1230.4 745.2,1235.3 746.3,1233.7 747.4,1224.6 748.5,1234.0 749.6,1224.6 750.7,1229.4 751.8,1231.5 752.9,1220.7 754.0,1233.8 755.1,1234.0 756.2,1232.0 757.3,1230.1 758.4,1230.6 759.5,1226.4 760.6,1231.1 761.7,1229.3 762.8,1233.6 763.9,1225.0 765.0,1234.3 766.1,1233.6 767.2,1231.7 768.3,1229.8 769.4,1236.2 770.5,1221.6 771.6,1235.6 772.7,1234.2 773.8,1234.6 774.9,1235.4 776.0,1228.7 777.1,1231.4 778.2,1237.4 779.3,1236.3 780.4,1234.7 781.5,1223.5 782.6,1237.1 783.7,1241.4 784.8,1240.4 785.9,1235.2 787.0,1223.4 788.1,1239.8 789.2,1232.7 790.3,1221.1 791.4,1236.2 792.5,1223.9 793.6,1225.1 794.7,1229.4 795.8,1241.9 796.9,1230.8 798.0,1234.9 799.1,1244.6 800.2,1243.4 801.3,1232.0 802.4,1230.8 803.5,1223.6 804.6,1227.2 805.7,1234.4 806.8,1234.0 807.9,1231.9 809.0,1237.3 810.1,1225.2 811.2,1229.7 812.3,1234.5 813.4,1233.3 814.5,1236.2 815.6,1231.4 816.7,1226.5 817.8,1230.9 818.9,1221.6 820.0,1217.3 821.1,1231.7 822.2,1227.3 823.3,1229.6 824.4,1216.2 825.5,1224.7 826.6,1223.0 827.7,1221.1 828.8,1214.3 829.9,1224.5 831.0,1232.7 832.1,1229.3 833.2,1222.7 834.3,1226.7 835.4,1231.8 836.5,1214.3 837.6,1226.2 838.7,1230.6 839.8,1231.7 840.9,1238.6 842.0,1234.9 843.1,1229.5 844.2,1229.7 845.3,1232.9 846.4,1224.3 847.5,1227.8 848.6,1234.1 849.7,1240.9 850.8,1227.7 851.9,1228.6 853.0,1230.5 854.1,1238.2 855.2,1229.4 856.3,1239.4 857.4,1223.6 858.5,1228.9 859.6,1228.9 860.7,1235.6 861.8,1237.4 862.9,1220.8 864.0,1224.9 865.1,1233.4 866.2,1226.8 867.3,1221.3 868.4,1238.2 869.5,1234.7 870.6,1234.6 871.7,1228.2 872.8,1238.3 873.9,1230.0 875.0,1238.8 876.1,1225.4 877.2,1225.9 878.3,1232.8 879.4,1226.9 880.5,1236.1 881.6,1233.2 882.7,1225.2 883.8,1231.9 884.9,1229.1 886.0,1237.4 887.1,1227.3 888.2,1228.6 889.3,1239.5 890.4,1244.2 891.5,1244.1 892.6,1232.2 893.7,1233.2 894.8,1241.8 895.9,1231.1 897.0,1225.7 898.1,1233.0 899.2,1235.4 900.3,1227.1 901.4,1221.8 902.5,1223.4 903.6,1237.2 904.7,1227.8 905.8,1231.9 906.9,1234.2 908.0,1237.0 909.1,1230.7 910.2,1236.2 911.3,1227.1 912.4,1230.5 913.5,1226.1 914.6,1240.3 915.7,1232.6 916.8,1227.8 917.9,1230.1 919.0,1230.9 920.1,1237.0 921.2,1221.6 922.3,1225.2 923.4,1229.4 924.5,1244.3 925.6,1237.9 926.7,1230.5 927.8,1235.8 928.9,1243.6 930.0,1229.5 931.1,1228.4 932.2,1238.8 933.3,1234.0 934.4,1235.0 935.5,1227.2 936.6,1243.0 937.7,1241.8 938.8,1234.2 939.9,1235.0 941.0,1217.9 942.1,1234.6 943.2,1229.2 944.3,1233.4 945.4,1235.1 946.5,1228.3 947.6,1219.3 948.7,1232.9 949.8,1225.3 950.9,1227.9 952.0,1226.1 953.1,1227.7 954.2,1217.4 955.3,1237.9 956.4,1231.4 957.5,1237.0 958.6,1242.1 959.7,1229.6 960.8,1217.5 961.9,1223.4 963.0,1221.2 964.1,1225.7 965.2,1229.4 966.3,1216.2 967.4,1230.9 968.5,1218.7 969.6,1230.5 970.7,1227.8 971.8,1226.4 972.9,1228.0 974.0,1224.9 975.1,1224.3 976.2,1217.5 977.3,1228.6 978.4,1241.1 979.5,1241.6 980.6,1238.1 981.7,1234.3 982.8,1225.4 983.9,1239.6 985.0,1229.9 986.1,1229.9 987.2,1228.7 988.3,1231.5 989.4,1228.3 990.5,1230.8 991.6,1224.3 992.7,1229.2 993.8,1244.3 994.9,1231.5 996.0,1230.6 997.1,1236.0 998.2,1237.3 999.3,1225.3 1000.4,1231.4 1001.5,1238.8 1002.6,1234.4 1003.7,1233.5 1004.8,1242.8 1005.9,1227.9 1007.0,1232.9 1008.1,1228.8 1009.2,1242.0 1010.3,1219.6 1011.4,1227.5 1012.5,1228.3 1013.6,1236.0 1014.7,1235.5 1015.8,1240.6 1016.9,1220.9 1018.0,1236.1 1019.1,1229.2 1020.2,1226.7 1021.3,1234.6 1022.4,1224.9 1023.5,1218.4 1024.6,1228.5 1025.7,1221.2 1026.8,1226.8 1027.9,1233.6 1029.0,1233.2 1030.1,1241.6 1031.2,1229.9 1032.3,1221.1 1033.4,1226.4 1034.5,1225.3 1035.6,1223.3 1036.7,1234.3 1037.8,1227.2 1038.9,1219.1 1040.0,1236.4 1041.1,1231.0 1042.2,1234.0 1043.3,1232.3 1044.4,1235.7 1045.5,1231.7 1046.6,1239.6 1047.7,1234.1 1048.8,1233.7 1049.9,1233.6 1051.0,1221.0 1052.1,1229.3 1053.2,1228.6 1054.3,1231.6 1055.4,1221.3 1056.5,1240.9 1057.6,1230.5 1058.7,1221.6 1059.8,1218.1 1060.9,1227.4 1062.0,1228.4 1063.1,1224.1 1064.2,1229.4 1065.3,1224.6 1066.4,1232.4 1067.5,1224.1 1068.6,1228.3 1069.7,1234.9 1070.8,1241.0 1071.9,1221.9 1073.0,1225.5 1074.1,1223.1 1075.2,1233.8 1076.3,1221.2 1077.4,1225.6 1078.5,1228.7 1079.6,1222.4 1080.7,1222.6 1081.8,1225.9 1082.9,1216.7 1084.0,1219.9 1085.1,1226.8 1086.2,1230.7 1087.3,1228.6 1088.4,1218.4 1089.5,1227.4 1090.6,1235.8 1091.7,1234.4 1092.8,1230.4 1093.9,1225.2 1095.0,1235.5 1096.1,1227.7 1097.2,1223.9 1098.3,1226.5 1099.4,1241.4 1100.5,1233.4 1101.6,1239.7 1102.7,1228.9 1103.8,1238.4 1104.9,1228.3 1106.0,1231.3 1107.1,1245.1 1108.2,1237.7 1109.3,1229.3 1110.4,1232.2 1111.5,1235.0 1112.6,1240.9 1113.7,1229.7 1114.8,1221.4 1115.9,1231.0 1117.0,1232.8 1118.1,1233.2 1119.2,1241.1 1120.3,1234.3 1121.4,1237.4 1122.5,1224.8 1123.6,1237.7 1124.7,1244.4 1125.8,1236.7 1126.9,1233.1 1128.0,1232.3 1129.1,1242.9 1130.2,1224.8 1131.3,1230.1 1132.4,1233.7 1133.5,1235.5 1134.6,1227.6 1135.7,1232.3 1136.8,1228.2 1137.9,1230.7 1139.0,1228.9 1140.1,1222.1 1141.2,1229.4 1142.3,1235.2 1143.4,1223.0 1144.5,1227.8 1145.6,1233.8 1146.7,1222.5 1147.8,1230.8 1148.9,1222.7 1150.0,1237.4 1151.1,1242.6 1152.2,1242.8 1153.3,1229.1 1154.4,1235.5 1155.5,1231.5 1156.6,1231.6 1157.7,1241.4 1158.8,1222.6 1159.9,1238.4 1161.0,1231.3 1162.1,1241.0 1163.2,1233.3 1164.3,1227.7 1165.4,1234.0 1166.5,1237.2 1167.6,1232.6 1168.7,1235.7 1169.8,1229.0 1170.9,1220.0 1172.0,1238.6 1173.1,1237.1 1174.2,1233.6 1175.3,1232.9 1176.4,1239.3 1177.5,1229.3 1178.6,1227.5 1179.7,1231.0 1180.8,1240.0 1181.9,1222.8 1183.0,1239.7 1184.1,1227.5 1185.2,1224.1 1186.3,1239.7 1187.4,1230.6 1188.5,1222.5 1189.6,1228.6 1190.7,1237.0 1191.8,1238.6 1192.9,1227.8 1194.0,1233.2 1195.1,1235.2 1196.2,1226.2 1197.3,1232.8 1198.4,1230.2 1199.5,1226.9 1200.6,1227.1 1201.7,1230.8 1202.8,1230.5 1203.9,1226.6 1205.0,1227.7 1206.1,1237.8 1207.2,1231.7 1208.3,1236.2 1209.4,1238.2 1210.5,1234.2 1211.6,1242.7 1212.7,1224.6 1213.8,1235.4 1214.9,1228.0 1216.0,1242.3 1217.1,1241.2 1218.2,1217.4 1219.3,1223.6 1220.4,1234.4 1221.5,1235.2 1222.6,1234.8 1223.7,1229.6 1224.8,1233.1 1225.9,1234.4 1227.0,1229.7 1228.1,1237.1 1229.2,1217.9 1230.3,1234.6 1231.4,1223.7 1232.5,1237.1 1233.6,1229.5 1234.7,1225.3 1235.8,1233.8 1236.9,1225.6 1238.0,1225.8 1239.1,1221.8 1240.2,1231.8 1241.3,1235.6 1242.4,1239.3 1243.5,1231.8 1244.6,1240.0 1245.7,1233.6 1246.8,1233.1 1247.9,1237.7 1249.0,1241.0 1250.1,1231.8 1251.2,1232.7 1252.3,1233.4 1253.4,1235.0 1254.5,1228.7 1255.6,1241.5 1256.7,1232.1 1257.8,1237.8 1258.9,1229.3 1260.0,1237.0 1261.1,1237.2 1262.2,1231.8 1263.3,1247.0 1264.4,1236.8 1265.5,1246.0 1266.6,1240.5 1267.7,1229.5 1268.8,1231.1 1269.9,1236.4 1271.0,1233.7 1272.1,1233.4 1273.2,1230.9 1274.3,1220.7 1275.4,1231.0 1276.5,1219.8 1277.6,1234.5 1278.7,1227.0 1279.8,1226.8 1280.9,1230.0 1282.0,1233.0 1283.1,1221.6 1284.2,1219.4 1285.3,1223.6 1286.4,1218.0 1287.5,1224.0 1288.6,1240.8 1289.7,1223.4 1290.8,1234.5 1291.9,1221.1 1293.0,1232.2 1294.1,1228.2 1295.2,1229.9 1296.3,1234.0 1297.4,1241.6 1298.5,1231.3 1299.6,1230.8 1300.7,1223.7 1301.8,1234.0 1302.9,1228.5 1304.0,1235.7 1305.1,1229.9 1306.2,1241.6 1307.3,1217.8 1308.4,1228.4 1309.5,1236.3 1310.6,1228.3 1311.7,1225.5 1312.8,1229.2 1313.9,1222.1 1315.0,1232.1 1316.1,1243.7 1317.2,1239.0 1318.3,1224.4 1319.4,1226.1 1320.5,1229.3 1321.6,1238.9 1322.7,1227.0 1323.8,1228.2 1324.9,1238.8 1326.0,1238.9 1327.1,1231.1 1328.2,1226.4 1329.3,1223.8 1330.4,1229.6 1331.5,1221.9 1332.6,1239.6 1333.7,1230.9 1334.8,1238.3 1335.9,1247.8 1337.0,1243.4 1338.1,1228.3 1339.2,1241.9 1340.3,1243.8 1341.4,1231.4 1342.5,1230.1 1343.6,1235.6 1344.7,1225.9 1345.8,1246.2 1346.9,1223.9 1348.0,1229.3 1349.1,1234.8 1350.2,1235.2 1351.3,1237.7 1352.4,1238.3 1353.5,1234.9 1354.6,1243.6 1355.7,1223.3 1356.8,1235.7 1357.9,1230.8 1359.0,1236.2 1360.1,1236.6 1361.2,1228.6 1362.3,1230.2 1363.4,1239.3 1364.5,1236.2 1365.6,1229.1 1366.7,1245.8 1367.8,1245.6 1368.9,1223.1 1370.0,1234.7 1371.1,1245.0 1372.2,1237.3 1373.3,1233.2 1374.4,1230.2 1375.5,1227.7 1376.6,1229.6 1377.7,1227.2 1378.8,1235.5 1379.9,1227.7 1381.0,1227.4 1382.1,1222.1 1383.2,1229.6 1384.3,1223.9 1385.4,1228.6 1386.5,1236.6 1387.6,1231.9 1388.7,1232.9 1389.8,1231.9 1390.9,1230.1 1392.0,1228.8 1393.1,1227.6 1394.2,1234.7 1395.3,1222.5 1396.4,1238.6 1397.5,1230.1 1398.6,1224.9 1399.7,1226.7 1400.8,1225.4 1401.9,1230.8 1403.0,1225.0 1404.1,1237.3 1405.2,1224.6 1406.3,1217.4 1407.4,1225.2 1408.5,1217.6 1409.6,1229.9 1410.7,1237.0 1411.8,1234.2 1412.9,1221.2 1414.0,1225.0 1415.1,1241.7 1416.2,1231.9 1417.3,1229.8 1418.4,1236.6 1419.5,1242.0 1420.6,1238.1 1421.7,1230.4 1422.8,1231.9 1423.9,1233.4 1425.0,1225.1 1426.1,1222.0 1427.2,1229.3 1428.3,1222.6 1429.4,1228.5 1430.5,1229.6 1431.6,1241.4 1432.7,1223.1 1433.8,1227.9 1434.9,1227.3 1436.0,1231.2 1437.1,1235.1 1438.2,1224.9 1439.3,1222.6 1440.4,1217.0 1441.5,1221.6 1442.6,1231.0 1443.7,1227.7 1444.8,1220.5 1445.9,1224.7 1447.0,1227.2 1448.1,1230.2 1449.2,1223.0 1450.3,1225.2 1451.4,1214.7 1452.5,1219.2 1453.6,1237.4 1454.7,1214.3 1455.8,1224.5 1456.9,1228.3 1458.0,1224.4 1459.1,1221.7 1460.2,1226.6 1461.3,1227.1 1462.4,1226.8 1463.5,1215.2 1464.6,1227.0 1465.7,1222.6 1466.8,1224.7 1467.9,1230.2 1469.0,1233.3 1470.1,1235.4 1471.2,1226.3 1472.3,1236.1 1473.4,1238.1 1474.5,1238.3 1475.6,1240.2 1476.7,1230.4 1477.8,1230.6 1478.9,1237.5 1480.0,1223.3 1481.1,1234.0 1482.2,1229.3 1483.3,1230.5 1484.4,1221.6 1485.5,1227.4 1486.6,1233.3 1487.7,1239.4 1488.8,1240.2 1489.9,1233.2 1491.0,1232.5 1492.1,1228.2 1493.2,1236.3 1494.3,1232.1 1495.4,1237.7 1496.5,1245.0 1497.6,1232.9 1498.7,1223.1 1499.8,1227.1 1500.9,1223.0 1502.0,1224.6 1503.1,1240.8 1504.2,1233.4 1505.3,1221.7 1506.4,1235.7 1507.5,1239.4 1508.6,1228.6 1509.7,1226.5 1510.8,1228.4 1511.9,1232.3 1513.0,1234.4 1514.1,1237.8 1515.2,1237.7 1516.3,1237.3 1517.4,1238.4 1518.5,1233.5 1519.6,1218.9 1520.7,1227.9 1521.8,1230.6 1522.9,1225.8 1524.0,1234.1 1525.1,1225.7 1526.2,1221.7 1527.3,1237.3 1528.4,1232.0 1529.5,1229.0 1530.6,1233.5 1531.7,1234.3 1532.8,1229.5 1533.9,1214.8 1535.0,1222.8 1536.1,1224.3 1537.2,1220.8 1538.3,1228.6 1539.4,1235.0 1540.5,1224.0 1541.6,1219.9 1542.7,1240.0 1543.8,1224.4 1544.9,1219.5 1546.0,1229.4 1547.1,1230.6 1548.2,1223.3 1549.3,1233.5 1550.4,1225.4 1551.5,1222.8 1552.6,1230.4 1553.7,1234.5 1554.8,1225.5 1555.9,1232.0 1557.0,1229.4 1558.1,1242.6 1559.2,1225.8 1560.3,1239.6 1561.4,1230.4 1562.5,1229.9 1563.6,1235.5 1564.7,1236.9 1565.8,1239.5 1566.9,1233.5 1568.0,1227.6 1569.1,1228.1 1570.2,1235.2 1571.3,1235.6 1572.4,1241.1 1573.5,1234.7 1574.6,1238.9 1575.7,1242.0 1576.8,1233.0 1577.9,1222.1 1579.0,1224.0 1580.1,1222.3 1581.2,1242.1 1582.3,1226.0 1583.4,1239.6 1584.5,1235.3 1585.6,1242.9 1586.7,1237.9 1587.8,1230.4 1588.9,1229.7 1590.0,1231.4 1591.1,1232.1 1592.2,1227.2 1593.3,1230.6 1594.4,1241.4 1595.5,1219.5 1596.6,1232.4 1597.7,1224.7 1598.8,1231.8 1599.9,1236.1 1601.0,1230.1 1602.1,1235.4 1603.2,1219.9 1604.3,1237.6 1605.4,1226.2 1606.5,1234.2 1607.6,1231.2 1608.7,1217.5 1609.8,1225.1 1610.9,1231.5 1612.0,1240.4 1613.1,1231.9 1614.2,1231.7 1615.3,1220.6 1616.4,1239.3 1617.5,1241.9 1618.6,1230.1 1619.7,1228.4 1620.8,1219.1 1621.9,1235.6 1623.0,1242.2 1624.1,1234.3 1625.2,1237.9 1626.3,1233.1 1627.4,1223.0 1628.5,1238.5 1629.6,1221.7 1630.7,1228.5 1631.8,1231.7 1632.9,1235.8 1634.0,1232.8 1635.1,1232.8 1636.2,1225.3 1637.3,1222.0 1638.4,1231.0 1639.5,1226.1 1640.6,1222.5 1641.7,1222.9 1642.8,1228.2 1643.9,1219.5 1645.0,1222.9 1646.1,1221.3 1647.2,1233.3 1648.3,1234.9 1649.4,1244.8 1650.5,1222.6 1651.6,1228.1 1652.7,1238.8 1653.8,1231.4 1654.9,1230.8 1656.0,1244.2 1657.1,1230.6 1658.2,1225.2 1659.3,1224.1 1660.4,1234.9 1661.5,1234.7 1662.6,1223.5 1663.7,1225.9 1664.8,1235.9 1665.9,1236.0 1667.0,1227.8 1668.1,1236.0 1669.2,1235.6 1670.3,1219.8 1671.4,1229.4 1672.5,1234.1 1673.6,1227.5 1674.7,1218.7 1675.8,1229.1 1676.9,1235.9 1678.0,1241.5 1679.1,1218.6 1680.2,1243.6 1681.3,1223.6 1682.4,1237.3 1683.5,1239.1 1684.6,1237.4 1685.7,1231.8 1686.8,1223.3 1687.9,1235.1 1689.0,1226.2 1690.1,1218.4 1691.2,1243.6 1692.3,1235.6 1693.4,1242.8 1694.5,1224.7 1695.6,1240.2 1696.7,1240.8 1697.8,1240.4 1698.9,1229.8 1700.0,1221.7 1701.1,1228.3 1702.2,1216.7 1703.3,1217.8 1704.4,1229.2 1705.5,1221.8 1706.6,1226.9 1707.7,1227.0 1708.8,1239.9 1709.9,1235.8 1711.0,1226.7 1712.1,1234.7 1713.2,1221.3 1714.3,1224.0 1715.4,1232.1 1716.5,1217.7 1717.6,1224.0 1718.7,1217.1 1719.8,1226.6 1720.9,1236.7 1722.0,1220.9 1723.1,1227.3 1724.2,1220.1 1725.3,1218.4 1726.4,1218.0 1727.5,1235.8 1728.6,1238.9 1729.7,1229.8 1730.8,1222.2 1731.9,1231.5 1733.0,1224.8 1734.1,1232.7 1735.2,1229.5 1736.3,1229.7 1737.4,1232.2 1738.5,1224.7 1739.6,1226.1 1740.7,1217.5 1741.8,1226.1 1742.9,1219.8 1744.0,1228.3 1745.1,1223.1 1746.2,1230.4 1747.3,1232.9 1748.4,1220.6 1749.5,1224.8 1750.6,1224.1 1751.7,1235.3 1752.8,1241.7 1753.9,1236.3 1755.0,1228.5 1756.1,1240.4 1757.2,1220.9 1758.3,1241.0 1759.4,1226.8 1760.5,1218.6 1761.6,1243.7 1762.7,1241.7 1763.8,1224.4 1764.9,1232.4 1766.0,1230.1 1767.1,1232.1 1768.2,1221.6 1769.3,1226.9 1770.4,1234.3 1771.5,1232.6 1772.6,1239.0 1773.7,1231.6 1774.8,1243.6 1775.9,1226.5 1777.0,1233.0 1778.1,1218.7 1779.2,1223.0 1780.3,1240.2 1781.4,1225.2 1782.5,1235.0 1783.6,1231.2 1784.7,1224.8 1785.8,1229.7 1786.9,1228.5 1788.0,1228.7 1789.1,1237.0 1790.2,1236.5 1791.3,1228.4 1792.4,1226.3 1793.5,1234.3 1794.6,1232.0 1795.7,1239.6 1796.8,1245.5 1797.9,1238.7 1799.0,1233.1 1800.1,1232.5 1801.2,1228.2 1802.3,1228.1 1803.4,1227.6 1804.5,1231.5 1805.6,1231.4 1806.7,1239.3 1807.8,1231.8 1808.9,1233.1 1810.0,1226.6 1811.1,1245.4 1812.2,1238.0 1813.3,1246.3 1814.4,1239.8 1815.5,1244.3 1816.6,1232.8 1817.7,1239.2 1818.8,1246.8 1819.9,1226.1 1821.0,1242.0 1822.1,1245.4 1823.2,1237.0 1824.3,1239.3 1825.4,1242.7 1826.5,1229.5 1827.6,1236.6 1828.7,1227.8 1829.8,1229.1 1830.9,1229.4 1832.0,1232.5 1833.1,1234.3 1834.2,1236.2 1835.3,1223.5 1836.4,1245.5 1837.5,1240.8 1838.6,1237.8 1839.7,1230.4 1840.8,1232.1 1841.9,1236.4 1843.0,1235.4 1844.1,1221.3 1845.2,1237.6 1846.3,1245.1 1847.4,1220.0 1848.5,1239.1 1849.6,1234.8 1850.7,1231.5 1851.8,1241.5 1852.9,1224.2 1854.0,1233.1 1855.1,1241.9 1856.2,1230.7 1857.3,1229.1 1858.4,1232.8 1859.5,1229.0 1859.5,1242.5"/>
<polyline fill="none" stroke="#000000" stroke-width="9.0" stroke-linejoin="miter" stroke-miterlimit="1.5" stroke-linecap="butt" points="160.0,1354.8 161.1,1357.1 162.2,1357.1 163.3,1362.4 164.4,1354.0 165.5,1363.3 166.6,1359.3 167.7,1369.2 168.8,1369.6 169.9,1372.1 171.0,1368.7 172.1,1364.3 173.2,1369.3 174.3,1372.9 175.4,1361.2 176.5,1368.0 177.6,1364.5 178.7,1372.5 179.8,1360.2 180.9,1363.2 182.0,1366.7 183.1,1366.2 184.2,1355.9 185.3,1366.7 186.4,1364.0 187.5,1363.2 188.6,1363.7 189.7,1365.5 190.8,1354.4 191.9,1372.6 193.0,1359.5 194.1,1353.7 195.2,1363.3 196.3,1371.6 197.4,1360.9 198.5,1371.8 199.6,1371.7 200.7,1358.5 201.8,1352.8 202.9,1356.4 204.0,1369.3 205.1,1358.3 206.2,1354.5 207.3,1355.3 208.4,1362.5 209.5,1362.4 210.6,1367.2 211.7,1367.9 212.8,1357.5 213.9,1361.9 215.0,1356.7 216.1,1363.2 217.2,1356.7 218.3,1356.7 219.4,1373.6 220.5,1363.6 221.6,1367.1 222.7,1373.9 223.8,1367.9 224.9,1363.1 226.0,1364.1 227.1,1359.9 228.2,1369.7 229.3,1362.2 230.4,1373.5 231.5,1362.1 232.6,1362.1 233.7,1361.7 234.8,1367.2 235.9,1364.7 237.0,1370.9 238.1,1360.5 239.2,1364.9 240.3,1373.5 241.4,1361.7 242.5,1365.7 243.6,1371.1 244.7,1365.4 245.8,1358.9 246.9,1351.9 248.0,1372.3 249.1,1364.1 250.2,1368.5 251.3,1358.9 252.4,1371.3 253.5,1364.3 254.6,1361.7 255.7,1356.5 256.8,1363.4 257.9,1358.9 259.0,1360.4 260.1,1352.9 261.2,1359.1 262.3,1362.8 263.4,1355.4 264.5,1362.6 265.6,1365.7 266.7,1360.7 267.8,1359.1 268.9,1359.2 270.0,1367.8 271.1,1354.5 272.2,1361.3 273.3,1360.7 274.4,1363.8 275.5,1362.7 276.6,1357.1 277.7,1373.6 278.8,1364.5 279.9,1356.3 281.0,1358.8 282.1,1364.2 283.2,1366.9 284.3,1356.3 285.4,1367.4 286.5,1356.0 287.6,1359.1 288.7,1368.1 289.8,1372.6 290.9,1362.8 292.0,1361.4 293.1,1370.0 294.2,1357.5 295.3,1364.8 296.4,1364.5 297.5,1368.8 298.6,1365.0 299.7,1361.9 300.8,1366.5 301.9,1357.1 303.0,1367.8 304.1,1359.5 305.2,1358.4 306.3,1361.1 307.4,1363.2 308.5,1366.7 309.6,1361.7 310.7,1366.7 311.8,1367.9 312.9,1362.0 314.0,1357.1 315.1,1367.3 316.2,1363.6 317.3,1351.7 318.4,1356.5 319.5,1362.5 320.6,1354.0 321.7,1357.4 322.8,1351.5 323.9,1362.7 325.0,1361.6 326.1,1361.1 327.2,1367.8 328.3,1357.9 329.4,1358.2 330.5,1369.8 331.6,1352.3 332.7,1363.1 333.8,1352.0 334.9,1360.1 336.0,1369.1 337.1,1360.3 338.2,1354.6 339.3,1369.2 340.4,1356.0 341.5,1357.9 342.6,1360.8 343.7,1352.1 344.8,1365.6 345.9,1368.6 347.0,1364.1 348.1,1361.8 349.2,1359.4 350.3,1365.3 351.4,1350.5 352.5,1360.2 353.6,1362.6 354.7,1351.3 355.8,1364.2 356.9,1361.4 358.0,1362.2 359.1,1362.9 360.2,1365.7 361.3,1365.4 362.4,1357.5 363.5,1362.7 364.6,1362.4 365.7,1363.6 366.8,1360.3 367.9,1368.8 369.0,1370.6 370.1,1371.9 371.2,1374.0 372.3,1371.7 373.4,1361.2 374.5,1360.3 375.6,1361.5 376.7,1366.5 377.8,1362.8 378.9,1368.8 380.0,1372.0 381.1,1360.6 382.2,1368.1 383.3,1360.4 384.4,1355.5 385.5,1355.4 386.6,1360.3 387.7,1351.6 388.8,1364.5 389.9,1369.6 391.0,1355.0 392.1,1359.4 393.2,1369.2 394.3,1362.7 395.4,1361.6 396.5,1358.9 397.6,1365.7 398.7,1361.9 399.8,1354.1 400.9,1349.6 402.0,1349.5 403.1,1363.3 404.2,1358.1 405.3,1367.4 406.4,1362.4 407.5,1352.7 408.6,1361.2 409.7,1366.1 410.8,1354.8 411.9,1357.0 413.0,1369.3 414.1,1350.6 415.2,1354.0 416.3,1365.8 417.4,1361.2 418.5,1354.1 419.6,1352.5 420.7,1363.0 421.8,1367.3 422.9,1365.4 424.0,1363.1 425.1,1369.2 426.2,1362.9 427.3,1356.9 428.4,1371.8 429.5,1354.9 430.6,1361.0 431.7,1361.3 432.8,1369.5 433.9,1357.8 435.0,1360.5 436.1,1352.5 437.2,1363.9 438.3,1364.6 439.4,1365.7 440.5,1357.2 441.6,1363.5 442.7,1357.4 443.8,1359.7 444.9,1362.0 446.0,1369.5 447.1,1360.2 448.2,1363.5 449.3,1358.1 450.4,1359.6 451.5,1358.9 452.6,1361.9 453.7,1367.0 454.8,1357.0 455.9,1367.0 457.0,1358.0 458.1,1365.0 459.2,1360.2 460.3,1361.7 461.4,1361.3 462.5,1369.4 463.6,1365.0 464.7,1369.5 465.8,1361.7 466.9,1362.5 468.0,1372.6 469.1,1355.2 470.2,1359.4 471.3,1363.2 472.4,1374.1 473.5,1360.9 474.6,1368.6 475.7,1373.6 476.8,1364.8 477.9,1366.3 479.0,1377.5 480.1,1366.5 481.2,1364.8 482.3,1375.4 483.4,1367.0 484.5,1375.7 485.6,1370.4 486.7,1356.8 487.8,1366.6 488.9,1364.0 490.0,1360.1 491.1,1369.6 492.2,1354.0 493.3,1356.6 494.4,1360.6 495.5,1367.4 496.6,1354.7 497.7,1359.4 498.8,1358.8 499.9,1354.3 501.0,1360.3 502.1,1356.1 503.2,1359.8 504.3,1363.6 505.4,1357.0 506.5,1357.2 507.6,1356.5 508.7,1357.2 509.8,1353.1 510.9,1355.2 512.0,1362.1 513.1,1356.7 514.2,1371.8 515.3,1356.8 516.4,1363.5 517.5,1352.8 518.6,1359.4 519.7,1358.0 520.8,1360.4 521.9,1367.8 523.0,1359.6 524.1,1353.9 525.2,1361.1 526.3,1355.2 527.4,1359.6 528.5,1368.7 529.6,1365.0 530.7,1365.6 531.8,1362.5 532.9,1359.3 534.0,1351.0 535.1,1356.7 536.2,1356.3 537.3,1362.7 538.4,1364.3 539.5,1361.4 540.6,1354.3 541.7,1368.5 542.8,1366.1 543.9,1357.2 545.0,1359.6 546.1,1362.0 547.2,1359.2 548.3,1358.1 549.4,1361.4 550.5,1358.9 551.6,1360.1 552.7,1350.5 553.8,1350.8 554.9,1369.0 556.0,1351.7 557.1,1362.7 558.2,1362.2 559.3,1361.9 560.4,1357.2 561.5,1366.8 562.6,1363.4 563.7,1360.1 564.8,1354.5 565.9,1361.0 567.0,1359.3 568.1,1355.9 569.2,1364.9 570.3,1366.2 571.4,1367.6 572.5,1363.9 573.6,1361.9 574.7,1369.4 575.8,1367.5 576.9,1373.5 578.0,1366.2 579.1,1357.9 580.2,1368.1 581.3,1372.8 582.4,1364.0 583.5,1361.5 584.6,1358.9 585.7,1372.0 586.8,1360.6 587.9,1360.0 589.0,1362.8 590.1,1353.1 591.2,1357.5 592.3,1350.1 593.4,1354.5 594.5,1356.2 595.6,1356.6 596.7,1349.6 597.8,1358.0 598.9,1352.9 600.0,1347.7 601.1,1361.5 602.2,1358.7 603.3,1360.6 604.4,1349.4 605.5,1361.3 606.6,1361.7 607.7,1361.9 608.8,1366.6 609.9,1359.1 611.0,1371.3 612.1,1365.7 613.2,1365.0 614.3,1351.9 615.4,1353.5 616.5,1373.8 617.6,1369.4 618.7,1374.0 619.8,1368.5 620.9,1369.3 622.0,1372.2 623.1,1363.7 624.2,1374.0 625.3,1359.5 626.4,1366.0 627.5,1363.4 628.6,1366.7 629.7,1371.5 630.8,1358.8 631.9,1367.3 633.0,1365.5 634.1,1369.3 635.2,1364.7 636.3,1362.0 637.4,1367.1 638.5,1371.5 639.6,1368.5 640.7,1364.9 641.8,1366.1 642.9,1355.2 644.0,1360.3 645.1,1361.7 646.2,1360.0 647.3,1358.8 648.4,1362.2 649.5,1364.7 650.6,1371.8 651.7,1358.3 652.8,1357.1 653.9,1367.4 655.0,1362.8 656.1,1357.2 657.2,1370.3 658.3,1360.9 659.4,1360.3 660.5,1358.8 661.6,1357.2 662.7,1362.7 663.8,1357.1 664.9,1371.9 666.0,1364.3 667.1,1361.4 668.2,1358.8 669.3,1364.5 670.4,1368.6 671.5,1364.6 672.6,1357.3 673.7,1362.4 674.8,1354.7 675.9,1371.7 677.0,1367.9 678.1,1365.6 679.2,1366.3 680.3,1361.7 681.4,1364.2 682.5,1370.3 683.6,1365.0 684.7,1368.4 685.8,1366.6 686.9,1366.8 688.0,1367.4 689.1,1371.4 690.2,1364.1 691.3,1367.9 692.4,1358.6 693.5,1358.4 694.6,1356.2 695.7,1363.2 696.8,1357.7 697.9,1367.5 699.0,1356.8 700.1,1365.8 701.2,1358.9 702.3,1372.1 703.4,1362.1 704.5,1368.3 705.6,1362.0 706.7,1361.4 707.8,1366.6 708.9,1355.9 710.0,1358.7 711.1,1373.0 712.2,1360.2 713.3,1368.8 714.4,1359.5 715.5,1355.0 716.6,1361.5 717.7,1368.2 718.8,1363.2 719.9,1361.6 721.0,1367.4 722.1,1358.5 723.2,1366.3 724.3,1363.9 725.4,1356.5 726.5,1366.8 727.6,1367.6 728.7,1360.0 729.8,1361.8 730.9,1359.5 732.0,1354.8 733.1,1365.2 734.2,1355.5 735.3,1363.9 736.4,1358.0 737.5,1355.2 738.6,1364.1 739.7,1361.9 740.8,1370.3 741.9,1360.2 743.0,1361.4 744.1,1361.3 745.2,1359.5 746.3,1368.1 747.4,1368.9 748.5,1364.5 749.6,1355.5 750.7,1363.4 751.8,1361.4 752.9,1358.8 754.0,1352.9 755.1,1366.1 756.2,1367.9 757.3,1363.1 758.4,1363.8 759.5,1370.8 760.6,1371.1 761.7,1362.6 762.8,1350.4 763.9,1364.9 765.0,1361.9 766.1,1364.7 767.2,1358.3 768.3,1355.7 769.4,1363.7 770.5,1359.3 771.6,1361.5 772.7,1362.9 773.8,1361.3 774.9,1353.0 776.0,1363.8 777.1,1358.2 778.2,1359.6 779.3,1362.8 780.4,1352.6 781.5,1358.8 782.6,1350.2 783.7,1357.1 784.8,1361.9 785.9,1359.3 787.0,1358.3 788.1,1362.8 789.2,1357.5 790.3,1351.0 791.4,1365.4 792.5,1360.8 793.6,1363.9 794.7,1357.5 795.8,1357.3 796.9,1355.5 798.0,1349.1 799.1,1356.8 800.2,1356.1 801.3,1367.9 802.4,1349.2 803.5,1359.5 804.6,1358.3 805.7,1358.8 806.8,1358.4 807.9,1360.3 809.0,1363.8 810.1,1350.4 811.2,1363.9 812.3,1357.9 813.4,1354.2 814.5,1349.6 815.6,1349.6 816.7,1359.1 817.8,1353.7 818.9,1353.7 820.0,1357.2 821.1,1359.9 822.2,1357.3 823.3,1353.8 824.4,1356.6 825.5,1359.1 826.6,1354.4 827.7,1365.0 828.8,1367.1 829.9,1367.3 831.0,1358.6 832.1,1358.7 833.2,1355.7 834.3,1368.2 835.4,1358.4 836.5,1371.6 837.6,1351.1 838.7,1362.2 839.8,1363.8 840.9,1361.2 842.0,1364.4 843.1,1371.9 844.2,1361.1 845.3,1365.9 846.4,1359.0 847.5,1354.6 848.6,1355.7 849.7,1365.9 850.8,1363.2 851.9,1353.7 853.0,1363.2 854.1,1364.7 855.2,1364.2 856.3,1367.7 857.4,1353.9 858.5,1356.6 859.6,1356.0 860.7,1362.5 861.8,1368.8 862.9,1359.4 864.0,1363.5 865.1,1366.3 866.2,1359.3 867.3,1366.1 868.4,1361.3 869.5,1371.6 870.6,1369.7 871.7,1359.7 872.8,1359.4 873.9,1372.1 875.0,1357.7 876.1,1368.7 877.2,1360.3 878.3,1356.4 879.4,1372.0 880.5,1365.2 881.6,1357.3 882.7,1361.6 883.8,1358.9 884.9,1357.8 886.0,1362.5 887.1,1369.1 888.2,1355.7 889.3,1365.9 890.4,1355.5 891.5,1362.9 892.6,1355.6 893.7,1356.1 894.8,1359.6 895.9,1368.4 897.0,1367.5 898.1,1362.2 899.2,1361.1 900.3,1363.2 901.4,1372.9 902.5,1364.3 903.6,1361.5 904.7,1359.3 905.8,1360.1 906.9,1364.8 908.0,1364.3 909.1,1350.7 910.2,1371.0 911.3,1362.7 912.4,1359.6 913.5,1370.2 914.6,1351.4 915.7,1352.7 916.8,1365.4 917.9,1359.2 919.0,1363.8 920.1,1365.5 921.2,1368.6 922.3,1362.1 923.4,1354.9 924.5,1349.2 925.6,1358.9 926.7,1348.8 927.8,1358.7 928.9,1354.0 930.0,1360.5 931.1,1362.3 932.2,1358.4 933.3,1351.4 934.4,1359.8 935.5,1355.3 936.6,1361.2 937.7,1357.3 938.8,1370.2 939.9,1357.2 941.0,1350.1 942.1,1355.6 943.2,1361.2 944.3,1371.1 945.4,1368.6 946.5,1357.9 947.6,1361.2 948.7,1354.8 949.8,1353.6 950.9,1366.6 952.0,1363.8 953.1,1357.4 954.2,1357.7 955.3,1363.8 956.4,1365.0 957.5,1356.8 958.6,1351.9 959.7,1365.9 960.8,1356.8 961.9,1350.6 963.0,1359.3 964.1,1361.1 965.2,1364.9 966.3,1357.0 967.4,1360.5 968.5,1351.8 969.6,1361.0 970.7,1349.9 971.8,1361.3 972.9,1358.7 974.0,1349.3 975.1,1353.9 976.2,1366.2 977.3,1351.3 978.4,1348.0 979.5,1355.2 980.6,1357.5 981.7,1361.0 982.8,1355.9 983.9,1354.1 985.0,1355.4 986.1,1361.0 987.2,1356.0 988.3,1360.2 989.4,1347.6 990.5,1355.6 991.6,1357.3 992.7,1363.6 993.8,1360.7 994.9,1359.7 996.0,1364.6 997.1,1359.9 998.2,1369.6 999.3,1354.6 1000.4,1360.4 1001.5,1370.2 1002.6,1364.7 1003.7,1362.5 1004.8,1366.6 1005.9,1358.8 1007.0,1362.2 1008.1,1362.6 1009.2,1372.0 1010.3,1363.7 1011.4,1372.3 1012.5,1362.0 1013.6,1363.7 1014.7,1353.2 1015.8,1365.9 1016.9,1352.2 1018.0,1366.3 1019.1,1368.1 1020.2,1364.9 1021.3,1357.2 1022.4,1361.3 1023.5,1352.6 1024.6,1359.0 1025.7,1364.2 1026.8,1362.9 1027.9,1360.9 1029.0,1370.1 1030.1,1365.0 1031.2,1363.1 1032.3,1364.4 1033.4,1357.7 1034.5,1362.5 1035.6,1353.4 1036.7,1353.4 1037.8,1361.7 1038.9,1368.6 1040.0,1357.6 1041.1,1365.6 1042.2,1354.0 1043.3,1363.4 1044.4,1363.6 1045.5,1363.6 1046.6,1355.8 1047.7,1366.4 1048.8,1367.2 1049.9,1366.4 1051.0,1373.7 1052.1,1361.3 1053.2,1364.4 1054.3,1369.8 1055.4,1355.9 1056.5,1358.0 1057.6,1368.7 1058.7,1360.8 1059.8,1358.0 1060.9,1365.1 1062.0,1355.0 1063.1,1363.1 1064.2,1356.6 1065.3,1358.6 1066.4,1351.8 1067.5,1363.0 1068.6,1363.1 1069.7,1360.8 1070.8,1358.0 1071.9,1362.9 1073.0,1369.5 1074.1,1366.1 1075.2,1357.5 1076.3,1362.6 1077.4,1359.9 1078.5,1364.1 1079.6,1356.8 1080.7,1369.3 1081.8,1356.9 1082.9,1355.7 1084.0,1363.0 1085.1,1370.0 1086.2,1351.8 1087.3,1361.2 1088.4,1364.2 1089.5,1370.9 1090.6,1352.5 1091.7,1366.9 1092.8,1356.7 1093.9,1358.9 1095.0,1365.8 1096.1,1360.8 1097.2,1353.1 1098.3,1359.2 1099.4,1358.2 1100.5,1361.3 1101.6,1355.2 1102.7,1356.5 1103.8,1358.3 1104.9,1360.2 1106.0,1359.0 1107.1,1362.1 1108.2,1363.3 1109.3,1361.3 1110.4,1355.9 1111.5,1351.0 1112.6,1354.5 1113.7,1355.5 1114.8,1357.6 1115.9,1363.8 1117.0,1358.3 1118.1,1353.3 1119.2,1351.2 1120.3,1357.5 1121.4,1356.7 1122.5,1352.2 1123.6,1349.0 1124.7,1356.0 1125.8,1359.7 1126.9,1358.8 1128.0,1349.7 1129.1,1355.2 1130.2,1356.5 1131.3,1352.3 1132.4,1357.1 1133.5,1354.3 1134.6,1362.8 1135.7,1354.5 1136.8,1366.8 1137.9,1363.7 1139.0,1360.6 1140.1,1360.2 1141.2,1366.6 1142.3,1357.4 1143.4,1361.9 1144.5,1358.5 1145.6,1368.4 1146.7,1358.7 1147.8,1359.2 1148.9,1350.6 1150.0,1362.3 1151.1,1359.1 1152.2,1364.2 1153.3,1353.3 1154.4,1356.6 1155.5,1368.4 1156.6,1357.2 1157.7,1362.4 1158.8,1366.4 1159.9,1361.9 1161.0,1361.7 1162.1,1367.8 1163.2,1358.4 1164.3,1364.3 1165.4,1359.8 1166.5,1354.9 1167.6,1361.1 1168.7,1367.9 1169.8,1359.7 1170.9,1356.6 1172.0,1359.2 1173.1,1357.7 1174.2,1362.9 1175.3,1354.6 1176.4,1364.8 1177.5,1362.1 1178.6,1366.4 1179.7,1357.3 1180.8,1364.9 1181.9,1354.4 1183.0,1363.0 1184.1,1358.5 1185.2,1353.8 1186.3,1364.1 1187.4,1367.6 1188.5,1369.5 1189.6,1362.3 1190.7,1358.7 1191.8,1368.2 1192.9,1355.1 1194.0,1361.0 1195.1,1352.4 1196.2,1361.2 1197.3,1362.0 1198.4,1358.4 1199.5,1366.2 1200.6,1359.8 1201.7,1363.1 1202.8,1363.7 1203.9,1360.1 1205.0,1350.6 1206.1,1358.7 1207.2,1361.9 1208.3,1355.6 1209.4,1361.4 1210.5,1353.0 1211.6,1364.5 1212.7,1364.3 1213.8,1363.2 1214.9,1358.3 1216.0,1362.6 1217.1,1354.2 1218.2,1356.7 1219.3,1363.2 1220.4,1357.4 1221.5,1359.8 1222.6,1361.1 1223.7,1367.0 1224.8,1357.6 1225.9,1358.3 1227.0,1357.5 1228.1,1352.5 1229.2,1362.5 1230.3,1351.5 1231.4,1357.2 1232.5,1368.6 1233.6,1361.8 1234.7,1351.6 1235.8,1356.5 1236.9,1370.9 1238.0,1360.4 1239.1,1371.9 1240.2,1359.1 1241.3,1352.2 1242.4,1363.5 1243.5,1360.8 1244.6,1363.6 1245.7,1356.3 1246.8,1356.1 1247.9,1358.9 1249.0,1356.4 1250.1,1366.8 1251.2,1368.2 1252.3,1360.8 1253.4,1367.1 1254.5,1358.3 1255.6,1360.3 1256.7,1352.8 1257.8,1368.6 1258.9,1359.0 1260.0,1368.6 1261.1,1368.5 1262.2,1364.5 1263.3,1362.9 1264.4,1356.2 1265.5,1366.4 1266.6,1365.3 1267.7,1368.0 1268.8,1364.1 1269.9,1355.5 1271.0,1356.0 1272.1,1367.4 1273.2,1371.3 1274.3,1360.9 1275.4,1361.9 1276.5,1364.2 1277.6,1363.6 1278.7,1364.2 1279.8,1361.3 1280.9,1363.9 1282.0,1359.9 1283.1,1362.5 1284.2,1366.8 1285.3,1363.7 1286.4,1360.2 1287.5,1365.2 1288.6,1357.7 1289.7,1360.2 1290.8,1358.2 1291.9,1365.7 1293.0,1367.6 1294.1,1362.1 1295.2,1359.3 1296.3,1366.9 1297.4,1365.7 1298.5,1356.0 1299.6,1369.7 1300.7,1369.6 1301.8,1363.2 1302.9,1364.1 1304.0,1364.0 1305.1,1362.0 1306.2,1367.0 1307.3,1360.6 1308.4,1362.8 1309.5,1365.1 1310.6,1355.0 1311.7,1361.3 1312.8,1357.2 1313.9,1361.5 1315.0,1361.1 1316.1,1362.7 1317.2,1364.4 1318.3,1357.9 1319.4,1365.0 1320.5,1353.9 1321.6,1368.1 1322.7,1362.5 1323.8,1367.1 1324.9,1353.3 1326.0,1370.1 1327.1,1361.0 1328.2,1364.3 1329.3,1363.1 1330.4,1362.0 1331.5,1359.8 1332.6,1352.8 1333.7,1368.8 1334.8,1371.9 1335.9,1358.5 1337.0,1369.1 1338.1,1366.8 1339.2,1363.5 1340.3,1360.8 1341.4,1364.7 1342.5,1357.9 1343.6,1359.5 1344.7,1358.4 1345.8,1357.1 1346.9,1358.2 1348.0,1364.2 1349.1,1364.5 1350.2,1356.4 1351.3,1360.3 1352.4,1359.5 1353.5,1351.1 1354.6,1366.6 1355.7,1354.4 1356.8,1366.3 1357.9,1350.2 1359.0,1355.9 1360.1,1364.3 1361.2,1362.7 1362.3,1363.1 1363.4,1360.1 1364.5,1371.0 1365.6,1360.3 1366.7,1361.0 1367.8,1354.3 1368.9,1353.1 1370.0,1364.0 1371.1,1363.2 1372.2,1345.0 1373.3,1350.9 1374.4,1360.0 1375.5,1352.7 1376.6,1356.8 1377.7,1340.9 1378.8,1350.7 1379.9,1349.0 1381.0,1348.3 1382.1,1343.5 1383.2,1347.3 1384.3,1358.8 1385.4,1345.0 1386.5,1352.1 1387.6,1352.6 1388.7,1354.5 1389.8,1367.5 1390.9,1367.9 1392.0,1359.1 1393.1,1365.5 1394.2,1359.8 1395.3,1367.7 1396.4,1365.5 1397.5,1377.0 1398.6,1373.0 1399.7,1366.4 1400.8,1364.1 1401.9,1369.5 1403.0,1386.3 1404.1,1369.4 1405.2,1365.6 1406.3,1368.3 1407.4,1368.0 1408.5,1372.6 1409.6,1364.0 1410.7,1375.9 1411.8,1365.8 1412.9,1366.1 1414.0,1370.9 1415.1,1362.8 1416.2,1363.8 1417.3,1365.7 1418.4,1358.3 1419.5,1359.6 1420.6,1366.3 1421.7,1358.5 1422.8,1359.9 1423.9,1368.3 1425.0,1366.5 1426.1,1365.2 1427.2,1357.2 1428.3,1373.6 1429.4,1362.7 1430.5,1361.7 1431.6,1362.5 1432.7,1359.0 1433.8,1362.2 1434.9,1373.8 1436.0,1355.4 1437.1,1373.7 1438.2,1358.3 1439.3,1358.2 1440.4,1370.7 1441.5,1373.5 1442.6,1360.9 1443.7,1367.5 1444.8,1358.6 1445.9,1360.7 1447.0,1358.5 1448.1,1363.2 1449.2,1358.8 1450.3,1362.9 1451.4,1360.3 1452.5,1362.1 1453.6,1362.4 1454.7,1358.2 1455.8,1359.8 1456.9,1355.5 1458.0,1364.4 1459.1,1365.7 1460.2,1359.6 1461.3,1360.2 1462.4,1358.8 1463.5,1359.2 1464.6,1362.5 1465.7,1352.3 1466.8,1353.7 1467.9,1362.0 1469.0,1366.6 1470.1,1357.9 1471.2,1366.0 1472.3,1366.7 1473.4,1362.2 1474.5,1372.4 1475.6,1360.7 1476.7,1362.0 1477.8,1355.0 1478.9,1355.5 1480.0,1361.7 1481.1,1364.0 1482.2,1359.5 1483.3,1360.2 1484.4,1360.9 1485.5,1364.1 1486.6,1350.6 1487.7,1363.7 1488.8,1354.7 1489.9,1361.7 1491.0,1363.1 1492.1,1351.0 1493.2,1364.5 1494.3,1358.7 1495.4,1355.3 1496.5,1367.7 1497.6,1351.1 1498.7,1349.7 1499.8,1358.8 1500.9,1360.1 1502.0,1356.5 1503.1,1361.0 1504.2,1348.7 1505.3,1363.4 1506.4,1358.9 1507.5,1352.4 1508.6,1351.8 1509.7,1360.9 1510.8,1360.6 1511.9,1355.0 1513.0,1359.2 1514.1,1358.9 1515.2,1364.6 1516.3,1354.0 1517.4,1364.7 1518.5,1359.9 1519.6,1359.9 1520.7,1362.7 1521.8,1357.3 1522.9,1352.2 1524.0,1351.2 1525.1,1365.7 1526.2,1350.9 1527.3,1365.9 1528.4,1356.7 1529.5,1366.6 1530.6,1355.6 1531.7,1362.3 1532.8,1361.7 1533.9,1365.0 1535.0,1358.8 1536.1,1363.6 1537.2,1369.9 1538.3,1354.1 1539.4,1367.3 1540.5,1356.2 1541.6,1367.6 1542.7,1360.4 1543.8,1370.6 1544.9,1361.6 1546.0,1360.5 1547.1,1369.0 1548.2,1362.3 1549.3,1362.7 1550.4,1369.2 1551.5,1371.8 1552.6,1368.9 1553.7,1354.2 1554.8,1366.4 1555.9,1366.4 1557.0,1369.4 1558.1,1370.6 1559.2,1370.6 1560.3,1367.9 1561.4,1375.3 1562.5,1364.4 1563.6,1361.7 1564.7,1358.5 1565.8,1363.2 1566.9,1369.3 1568.0,1365.3 1569.1,1372.5 1570.2,1364.6 1571.3,1361.6 1572.4,1372.6 1573.5,1363.1 1574.6,1370.0 1575.7,1353.0 1576.8,1356.5 1577.9,1360.5 1579.0,1357.7 1580.1,1364.4 1581.2,1363.3 1582.3,1364.0 1583.4,1357.9 1584.5,1358.0 1585.6,1359.0 1586.7,1370.6 1587.8,1360.8 1588.9,1367.2 1590.0,1357.8 1591.1,1354.5 1592.2,1362.8 1593.3,1367.2 1594.4,1352.9 1595.5,1358.9 1596.6,1365.2 1597.7,1360.4 1598.8,1360.3 1599.9,1366.2 1601.0,1363.0 1602.1,1363.2 1603.2,1359.6 1604.3,1364.0 1605.4,1360.0 1606.5,1370.6 1607.6,1352.9 1608.7,1363.6 1609.8,1367.1 1610.9,1358.2 1612.0,1366.7 1613.1,1359.8 1614.2,1367.5 1615.3,1372.9 1616.4,1362.9 1617.5,1374.7 1618.6,1364.3 1619.7,1354.4 1620.8,1362.5 1621.9,1365.5 1623.0,1366.2 1624.1,1365.0 1625.2,1367.2 1626.3,1364.3 1627.4,1372.6 1628.5,1367.3 1629.6,1364.9 1630.7,1375.6 1631.8,1358.8 1632.9,1355.5 1634.0,1361.8 1635.1,1355.4 1636.2,1368.0 1637.3,1363.6 1638.4,1375.6 1639.5,1360.0 1640.6,1358.4 1641.7,1368.4 1642.8,1367.9 1643.9,1367.8 1645.0,1360.9 1646.1,1360.7 1647.2,1366.6 1648.3,1362.6 1649.4,1366.4 1650.5,1369.1 1651.6,1361.3 1652.7,1365.8 1653.8,1352.4 1654.9,1370.9 1656.0,1370.4 1657.1,1362.9 1658.2,1360.7 1659.3,1362.6 1660.4,1363.1 1661.5,1361.4 1662.6,1358.2 1663.7,1363.1 1664.8,1368.1 1665.9,1351.2 1667.0,1358.8 1668.1,1357.1 1669.2,1355.4 1670.3,1361.4 1671.4,1351.2 1672.5,1359.3 1673.6,1366.2 1674.7,1366.5 1675.8,1365.4 1676.9,1363.5 1678.0,1366.2 1679.1,1362.7 1680.2,1364.5 1681.3,1365.8 1682.4,1370.0 1683.5,1367.5 1684.6,1366.7 1685.7,1354.0 1686.8,1363.6 1687.9,1363.0 1689.0,1359.2 1690.1,1356.4 1691.2,1365.4 1692.3,1362.2 1693.4,1360.1 1694.5,1355.8 1695.6,1357.5 1696.7,1358.8 1697.8,1363.3 1698.9,1370.4 1700.0,1362.7 1701.1,1351.4 1702.2,1364.0 1703.3,1364.3 1704.4,1356.3 1705.5,1354.6 1706.6,1362.0 1707.7,1366.2 1708.8,1364.4 1709.9,1370.8 1711.0,1361.8 1712.1,1362.7 1713.2,1358.1 1714.3,1368.2 1715.4,1364.1 1716.5,1366.2 1717.6,1353.3 1718.7,1353.7 1719.8,1365.4 1720.9,1366.8 1722.0,1361.3 1723.1,1361.8 1724.2,1367.4 1725.3,1359.2 1726.4,1363.6 1727.5,1358.4 1728.6,1360.3 1729.7,1367.8 1730.8,1353.9 1731.9,1359.0 1733.0,1353.3 1734.1,1364.7 1735.2,1364.0 1736.3,1373.5 1737.4,1360.6 1738.5,1363.8 1739.6,1368.3 1740.7,1366.0 1741.8,1360.6 1742.9,1368.8 1744.0,1352.2 1745.1,1364.4 1746.2,1357.8 1747.3,1357.5 1748.4,1356.0 1749.5,1363.5 1750.6,1356.0 1751.7,1362.5 1752.8,1371.2 1753.9,1357.8 1755.0,1362.3 1756.1,1358.6 1757.2,1354.7 1758.3,1365.0 1759.4,1368.7 1760.5,1358.4 1761.6,1362.3 1762.7,1361.5 1763.8,1358.2 1764.9,1366.8 1766.0,1352.8 1767.1,1370.5 1768.2,1359.6 1769.3,1372.2 1770.4,1365.4 1771.5,1362.3 1772.6,1353.7 1773.7,1355.6 1774.8,1366.3 1775.9,1358.7 1777.0,1367.5 1778.1,1355.7 1779.2,1368.4 1780.3,1362.5 1781.4,1364.7 1782.5,1357.8 1783.6,1360.3 1784.7,1365.3 1785.8,1363.3 1786.9,1357.1 1788.0,1363.3 1789.1,1354.1 1790.2,1373.0 1791.3,1365.2 1792.4,1359.3 1793.5,1360.3 1794.6,1356.4 1795.7,1362.4 1796.8,1352.5 1797.9,1361.8 1799.0,1371.1 1800.1,1352.6 1801.2,1362.6 1802.3,1358.6 1803.4,1360.7 1804.5,1355.3 1805.6,1366.9 1806.7,1354.6 1807.8,1366.9 1808.9,1367.5 1810.0,1362.9 1811.1,1365.1 1812.2,1352.4 1813.3,1358.3 1814.4,1352.6 1815.5,1365.5 1816.6,1368.3 1817.7,1354.0 1818.8,1363.2 1819.9,1360.7 1821.0,1352.4 1822.1,1359.8 1823.2,1362.2 1824.3,1367.0 1825.4,1360.8 1826.5,1364.9 1827.6,1371.8 1828.7,1367.4 1829.8,1356.7 1830.9,1363.6 1832.0,1369.8 1833.1,1371.1 1834.2,1364.4 1835.3,1366.4 1836.4,1364.6 1837.5,1369.7 1838.6,1364.3 1839.7,1365.0 1840.8,1353.8 1841.9,1356.8 1843.0,1350.0 1844.1,1353.4 1845.2,1359.7 1846.3,1364.0 1847.4,1363.7 1848.5,1360.4 1849.6,1368.0 1850.7,1350.9 1851.8,1357.7 1852.9,1366.0 1854.0,1360.3 1855.1,1359.4 1856.2,1364.2 1857.3,1355.1 1858.4,1355.5 1859.5,1357.5 1859.5,1369.9"/>
<g fill="#000">
<rect x="161" y="28" width="1706" height="9"/>
<rect x="154" y="35" width="9" height="1416"/>
<rect x="157" y="30.5" width="6" height="6"/>
<rect x="1860" y="30.5" width="9" height="1421.5"/>
<rect x="154" y="1416" width="1715" height="9"/>
</g>
<line x1="158.6" y1="1420" x2="158.6" y2="1451.7" stroke="#000" stroke-width="9"/>
<line x1="329.2" y1="1420" x2="329.2" y2="1438.3" stroke="#000" stroke-width="9"/>
<line x1="499.8" y1="1420" x2="499.8" y2="1451.7" stroke="#000" stroke-width="9"/>
<line x1="670.4" y1="1420" x2="670.4" y2="1438.3" stroke="#000" stroke-width="9"/>
<line x1="841.0" y1="1420" x2="841.0" y2="1451.7" stroke="#000" stroke-width="9"/>
<line x1="1011.6" y1="1420" x2="1011.6" y2="1438.3" stroke="#000" stroke-width="9"/>
<line x1="1182.1" y1="1420" x2="1182.1" y2="1451.7" stroke="#000" stroke-width="9"/>
<line x1="1352.7" y1="1420" x2="1352.7" y2="1438.3" stroke="#000" stroke-width="9"/>
<line x1="1523.3" y1="1420" x2="1523.3" y2="1451.7" stroke="#000" stroke-width="9"/>
<line x1="1693.9" y1="1420" x2="1693.9" y2="1438.3" stroke="#000" stroke-width="9"/>
<line x1="1864.5" y1="1420" x2="1864.5" y2="1451.7" stroke="#000" stroke-width="9"/>
<text x="65.47" y="1534.70" font-size="87" font-weight="bold" fill="#000" textLength="181.66" lengthAdjust="spacingAndGlyphs">3460</text>
<text x="407.98" y="1534.70" font-size="87" font-weight="bold" fill="#000" textLength="181.15" lengthAdjust="spacingAndGlyphs">3480</text>
<text x="750.60" y="1534.70" font-size="87" font-weight="bold" fill="#000" textLength="179.59" lengthAdjust="spacingAndGlyphs">3500</text>
<text x="1091.08" y="1534.70" font-size="87" font-weight="bold" fill="#000" textLength="181.15" lengthAdjust="spacingAndGlyphs">3520</text>
<text x="1433.62" y="1534.70" font-size="87" font-weight="bold" fill="#000" textLength="178.56" lengthAdjust="spacingAndGlyphs">3540</text>
<text x="1773.56" y="1534.70" font-size="87" font-weight="bold" fill="#000" textLength="182.18" lengthAdjust="spacingAndGlyphs">3560</text>
<text x="558.60" y="1633.00" font-size="114" font-weight="bold" fill="#000" textLength="1007.35" lengthAdjust="spacingAndGlyphs">Magnetic Field (mT)</text>
<text fill="#000"><tspan x="726.06" y="173.40" font-size="88" font-weight="bold" textLength="274.46" lengthAdjust="spacingAndGlyphs">DMPO</tspan> <tspan x="1019.99" y="181.40" font-size="88" font-weight="normal" textLength="30.64" lengthAdjust="spacingAndGlyphs">·</tspan><tspan x="1045.41" y="173.40" font-size="88" font-weight="normal" textLength="66.51" lengthAdjust="spacingAndGlyphs">O</tspan><tspan x="1107.11" y="203.50" font-size="54" font-weight="normal" textLength="33.63" lengthAdjust="spacingAndGlyphs">2</tspan><tspan x="1132.70" y="137.00" font-size="54" font-weight="normal" textLength="38.63" lengthAdjust="spacingAndGlyphs">−</tspan></text>
<text fill="#000"><tspan x="733.76" y="956.00" font-size="88" font-weight="bold" textLength="273.84" lengthAdjust="spacingAndGlyphs">DMPO</tspan> <tspan x="1027.09" y="963.80" font-size="88" font-weight="normal" textLength="30.64" lengthAdjust="spacingAndGlyphs">·</tspan><tspan x="1052.57" y="956.00" font-size="88" font-weight="normal" textLength="131.21" lengthAdjust="spacingAndGlyphs">OH</tspan></text>
<text fill="#ff0000"><tspan x="1292.07" y="278.20" font-size="88" font-weight="bold" textLength="231.71" lengthAdjust="spacingAndGlyphs">C/3Er</tspan><tspan x="1522.04" y="235.50" font-size="50" font-weight="normal" textLength="60.15" lengthAdjust="spacingAndGlyphs">3+</tspan><tspan x="1583.44" y="278.20" font-size="88" font-weight="bold" textLength="271.39" lengthAdjust="spacingAndGlyphs">:BiOCl</tspan></text>
<text x="1514.32" y="454.90" font-size="88" font-weight="bold" fill="#0000ff" textLength="334.00" lengthAdjust="spacingAndGlyphs">C/BiOCl</text>
<text x="1606.88" y="627.20" font-size="88" font-weight="bold" fill="#ff00ff" textLength="243.74" lengthAdjust="spacingAndGlyphs">BiOCl</text>
<text x="1668.39" y="751.80" font-size="88" font-weight="bold" fill="#000" textLength="181.36" lengthAdjust="spacingAndGlyphs">dark</text>
<text fill="#ff0000"><tspan x="1287.04" y="954.10" font-size="88" font-weight="bold" textLength="233.36" lengthAdjust="spacingAndGlyphs">C/3Er</tspan><tspan x="1520.23" y="911.50" font-size="50" font-weight="normal" textLength="57.65" lengthAdjust="spacingAndGlyphs">3+</tspan><tspan x="1578.42" y="954.10" font-size="88" font-weight="bold" textLength="272.11" lengthAdjust="spacingAndGlyphs">:BiOCl</tspan></text>
<text x="1523.73" y="1083.70" font-size="88" font-weight="bold" fill="#0000ff" textLength="333.19" lengthAdjust="spacingAndGlyphs">C/BiOCl</text>
<text x="1609.69" y="1194.40" font-size="88" font-weight="bold" fill="#ff00ff" textLength="242.83" lengthAdjust="spacingAndGlyphs">BiOCl</text>
<text x="1670.28" y="1330.70" font-size="88" font-weight="bold" fill="#000" textLength="181.87" lengthAdjust="spacingAndGlyphs">dark</text>
<text transform="translate(113.1,1154) rotate(-90)" font-weight="bold" font-size="114">Intensity (a.u.)</text>
</svg>
</body></html>
